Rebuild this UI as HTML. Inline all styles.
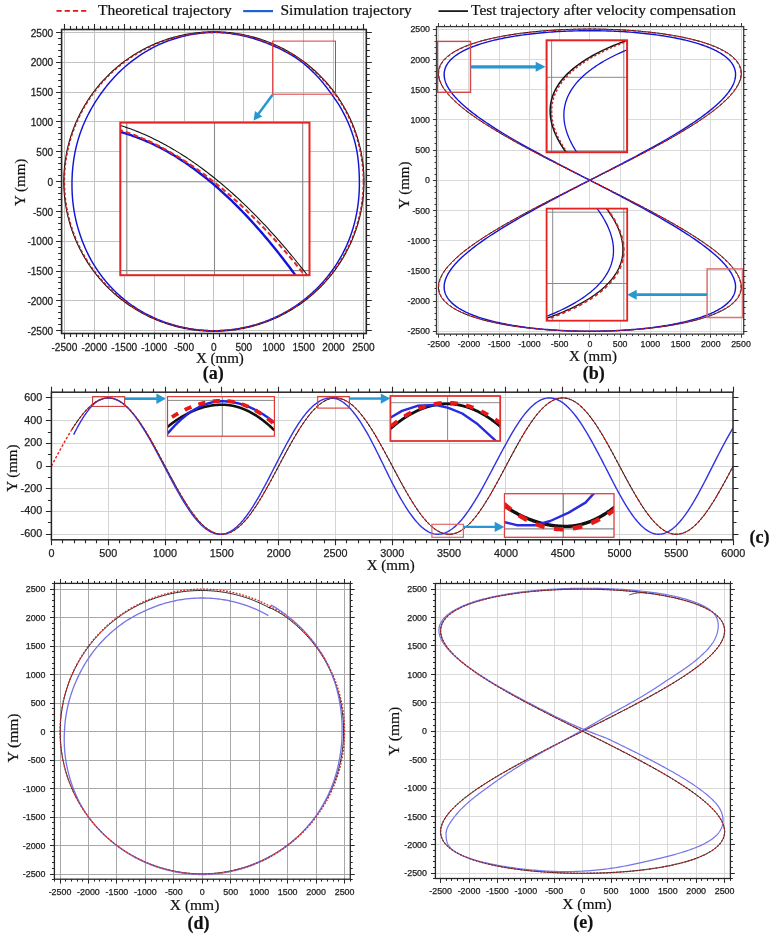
<!DOCTYPE html>
<html><head><meta charset="utf-8"><title>Trajectory comparison</title>
<style>html,body{margin:0;padding:0;background:#fff;}svg{display:block;font-family:"Liberation Sans",sans-serif;filter:blur(0.35px);}</style>
</head><body>
<svg width="776" height="939" viewBox="0 0 776 939">
<rect width="776" height="939" fill="#fff"/>
<defs>
<clipPath id="ca"><rect x="61.6" y="29.5" width="304.7" height="304"/></clipPath>
<clipPath id="cb"><rect x="436.5" y="26.6" width="307.2" height="307.5"/></clipPath>
<clipPath id="cc"><rect x="51.4" y="392.2" width="681.6" height="147.6"/></clipPath>
<clipPath id="cd"><rect x="54.4" y="583.4" width="295.9" height="295.8"/></clipPath>
<clipPath id="ce"><rect x="435.4" y="583.5" width="295" height="295"/></clipPath>
<clipPath id="ia"><rect x="120.3" y="122.6" width="189.2" height="152.6"/></clipPath>
<clipPath id="ib1"><rect x="546.6" y="40.3" width="80.5" height="111.9"/></clipPath>
<clipPath id="ib2"><rect x="546.6" y="208.6" width="80.6" height="112.1"/></clipPath>
<clipPath id="ic1"><rect x="167.5" y="396.6" width="106.9" height="39.6"/></clipPath>
<clipPath id="ic2"><rect x="390.4" y="396" width="109.8" height="45"/></clipPath>
<clipPath id="ic3"><rect x="504.5" y="493.7" width="109.5" height="43.6"/></clipPath>
</defs>
<path d="M56.5,10.9 H87" stroke="#e0191b" stroke-width="1.8" stroke-dasharray="5.2 3"/>
<text x="98" y="14.6" font-size="15.5" text-anchor="start" font-family="Liberation Serif, serif" fill="#111" stroke="#111" stroke-width="0.2">Theoretical trajectory</text>
<path d="M243.2,11.1 H273" stroke="#1f63d3" stroke-width="2.2"/>
<text x="280.5" y="14.6" font-size="15.5" text-anchor="start" font-family="Liberation Serif, serif" fill="#111" stroke="#111" stroke-width="0.2">Simulation trajectory</text>
<path d="M438.5,11.1 H468" stroke="#1a1a1a" stroke-width="1.8"/>
<text x="471" y="14.6" font-size="15.5" text-anchor="start" font-family="Liberation Serif, serif" fill="#111" stroke="#111" stroke-width="0.2">Test trajectory after velocity compensation</text>
<path d="M64.5,29.5 V333.5 M94.5,29.5 V333.5 M124.5,29.5 V333.5 M154.5,29.5 V333.5 M184.5,29.5 V333.5 M213.5,29.5 V333.5 M243.5,29.5 V333.5 M273.5,29.5 V333.5 M303.5,29.5 V333.5 M333.5,29.5 V333.5 M363.5,29.5 V333.5 M61.6,330.5 H366.3 M61.6,300.5 H366.3 M61.6,271.5 H366.3 M61.6,241.5 H366.3 M61.6,211.5 H366.3 M61.6,181.5 H366.3 M61.6,151.5 H366.3 M61.6,121.5 H366.3 M61.6,92.5 H366.3 M61.6,62.5 H366.3 M61.6,32.5 H366.3" stroke="#c2c2c2" stroke-width="1.0" fill="none"/>
<path d="M364,181.55 L363.99,179.81 L363.96,178.07 L363.91,176.32 L363.84,174.58 L363.74,172.84 L363.63,171.1 L363.5,169.37 L363.35,167.63 L363.18,165.9 L362.98,164.17 L362.77,162.44 L362.54,160.71 L362.28,158.99 L362.01,157.26 L361.72,155.55 L361.4,153.83 L361.07,152.12 L360.72,150.42 L360.34,148.71 L359.95,147.02 L359.54,145.32 L359.11,143.63 L358.66,141.95 L358.18,140.27 L357.69,138.6 L357.18,136.94 L356.65,135.28 L356.1,133.62 L355.53,131.97 L354.95,130.33 L354.34,128.7 L353.71,127.07 L353.07,125.45 L352.4,123.84 L351.72,122.24 L351.02,120.64 L350.3,119.05 L349.56,117.48 L348.81,115.91 L348.03,114.34 L347.24,112.79 L346.43,111.25 L345.6,109.71 L344.75,108.19 L343.89,106.68 L343.01,105.17 L342.11,103.68 L341.19,102.2 L340.26,100.72 L339.31,99.26 L338.34,97.81 L337.35,96.37 L336.35,94.95 L335.33,93.53 L334.3,92.13 L333.25,90.74 L332.18,89.36 L331.1,87.99 L330,86.64 L328.88,85.29 L327.75,83.97 L326.61,82.65 L325.44,81.35 L324.27,80.06 L323.08,78.79 L321.87,77.53 L320.65,76.28 L319.42,75.05 L318.17,73.83 L316.9,72.63 L315.63,71.44 L314.34,70.27 L313.03,69.11 L311.71,67.97 L310.38,66.84 L309.04,65.73 L307.68,64.63 L306.31,63.55 L304.93,62.48 L303.53,61.43 L302.13,60.4 L300.71,59.39 L299.28,58.39 L297.83,57.4 L296.38,56.44 L294.92,55.49 L293.44,54.56 L291.95,53.64 L290.46,52.75 L288.95,51.87 L287.43,51 L285.9,50.16 L284.37,49.33 L282.82,48.52 L281.26,47.73 L279.7,46.96 L278.12,46.2 L276.54,45.47 L274.95,44.75 L273.35,44.05 L271.74,43.37 L270.13,42.71 L268.5,42.06 L266.87,41.44 L265.24,40.83 L263.59,40.25 L261.94,39.68 L260.28,39.13 L258.62,38.6 L256.95,38.09 L255.27,37.6 L253.59,37.13 L251.9,36.68 L250.21,36.25 L248.51,35.84 L246.81,35.45 L245.11,35.08 L243.4,34.72 L241.68,34.39 L239.96,34.08 L238.24,33.79 L236.52,33.51 L234.79,33.26 L233.06,33.03 L231.33,32.82 L229.59,32.62 L227.85,32.45 L226.11,32.3 L224.37,32.17 L222.63,32.06 L220.88,31.97 L219.14,31.89 L217.39,31.84 L215.65,31.81 L213.9,31.8 L212.15,31.81 L210.41,31.84 L208.66,31.89 L206.92,31.97 L205.17,32.06 L203.43,32.17 L201.69,32.3 L199.95,32.45 L198.21,32.62 L196.47,32.82 L194.74,33.03 L193.01,33.26 L191.28,33.51 L189.56,33.79 L187.84,34.08 L186.12,34.39 L184.4,34.72 L182.69,35.08 L180.99,35.45 L179.29,35.84 L177.59,36.25 L175.9,36.68 L174.21,37.13 L172.53,37.6 L170.85,38.09 L169.18,38.6 L167.52,39.13 L165.86,39.68 L164.21,40.25 L162.56,40.83 L160.93,41.44 L159.3,42.06 L157.67,42.71 L156.06,43.37 L154.45,44.05 L152.85,44.75 L151.26,45.47 L149.68,46.2 L148.1,46.96 L146.54,47.73 L144.98,48.52 L143.43,49.33 L141.9,50.16 L140.37,51 L138.85,51.87 L137.34,52.75 L135.85,53.64 L134.36,54.56 L132.88,55.49 L131.42,56.44 L129.97,57.4 L128.52,58.39 L127.09,59.39 L125.67,60.4 L124.27,61.43 L122.87,62.48 L121.49,63.55 L120.12,64.63 L118.76,65.73 L117.42,66.84 L116.09,67.97 L114.77,69.11 L113.46,70.27 L112.17,71.44 L110.9,72.63 L109.63,73.83 L108.38,75.05 L107.15,76.28 L105.93,77.53 L104.72,78.79 L103.53,80.06 L102.36,81.35 L101.19,82.65 L100.05,83.97 L98.92,85.29 L97.8,86.64 L96.7,87.99 L95.62,89.36 L94.55,90.74 L93.5,92.13 L92.47,93.53 L91.45,94.95 L90.45,96.37 L89.46,97.81 L88.49,99.26 L87.54,100.72 L86.61,102.2 L85.69,103.68 L84.79,105.17 L83.91,106.68 L83.05,108.19 L82.2,109.71 L81.37,111.25 L80.56,112.79 L79.77,114.34 L78.99,115.91 L78.24,117.48 L77.5,119.05 L76.78,120.64 L76.08,122.24 L75.4,123.84 L74.73,125.45 L74.09,127.07 L73.46,128.7 L72.85,130.33 L72.27,131.97 L71.7,133.62 L71.15,135.28 L70.62,136.94 L70.11,138.6 L69.62,140.27 L69.14,141.95 L68.69,143.63 L68.26,145.32 L67.85,147.02 L67.46,148.71 L67.08,150.42 L66.73,152.12 L66.4,153.83 L66.08,155.55 L65.79,157.26 L65.52,158.99 L65.26,160.71 L65.03,162.44 L64.82,164.17 L64.62,165.9 L64.45,167.63 L64.3,169.37 L64.17,171.1 L64.06,172.84 L63.96,174.58 L63.89,176.32 L63.84,178.07 L63.81,179.81 L63.8,181.55 L63.81,183.29 L63.84,185.03 L63.89,186.78 L63.96,188.52 L64.06,190.26 L64.17,192 L64.3,193.73 L64.45,195.47 L64.62,197.2 L64.82,198.93 L65.03,200.66 L65.26,202.39 L65.52,204.11 L65.79,205.84 L66.08,207.55 L66.4,209.27 L66.73,210.98 L67.08,212.68 L67.46,214.39 L67.85,216.08 L68.26,217.78 L68.69,219.47 L69.14,221.15 L69.62,222.83 L70.11,224.5 L70.62,226.16 L71.15,227.82 L71.7,229.48 L72.27,231.13 L72.85,232.77 L73.46,234.4 L74.09,236.03 L74.73,237.65 L75.4,239.26 L76.08,240.86 L76.78,242.46 L77.5,244.05 L78.24,245.62 L78.99,247.19 L79.77,248.76 L80.56,250.31 L81.37,251.85 L82.2,253.39 L83.05,254.91 L83.91,256.42 L84.79,257.93 L85.69,259.42 L86.61,260.9 L87.54,262.38 L88.49,263.84 L89.46,265.29 L90.45,266.73 L91.45,268.15 L92.47,269.57 L93.5,270.97 L94.55,272.36 L95.62,273.74 L96.7,275.11 L97.8,276.46 L98.92,277.81 L100.05,279.13 L101.19,280.45 L102.36,281.75 L103.53,283.04 L104.72,284.31 L105.93,285.57 L107.15,286.82 L108.38,288.05 L109.63,289.27 L110.9,290.47 L112.17,291.66 L113.46,292.83 L114.77,293.99 L116.09,295.13 L117.42,296.26 L118.76,297.37 L120.12,298.47 L121.49,299.55 L122.87,300.62 L124.27,301.67 L125.67,302.7 L127.09,303.71 L128.52,304.71 L129.97,305.7 L131.42,306.66 L132.88,307.61 L134.36,308.54 L135.85,309.46 L137.34,310.35 L138.85,311.23 L140.37,312.1 L141.9,312.94 L143.43,313.77 L144.98,314.58 L146.54,315.37 L148.1,316.14 L149.68,316.9 L151.26,317.63 L152.85,318.35 L154.45,319.05 L156.06,319.73 L157.67,320.39 L159.3,321.04 L160.93,321.66 L162.56,322.27 L164.21,322.85 L165.86,323.42 L167.52,323.97 L169.18,324.5 L170.85,325.01 L172.53,325.5 L174.21,325.97 L175.9,326.42 L177.59,326.85 L179.29,327.26 L180.99,327.65 L182.69,328.02 L184.4,328.38 L186.12,328.71 L187.84,329.02 L189.56,329.31 L191.28,329.59 L193.01,329.84 L194.74,330.07 L196.47,330.28 L198.21,330.48 L199.95,330.65 L201.69,330.8 L203.43,330.93 L205.17,331.04 L206.92,331.13 L208.66,331.21 L210.41,331.26 L212.15,331.29 L213.9,331.3 L215.65,331.29 L217.39,331.26 L219.14,331.21 L220.88,331.13 L222.63,331.04 L224.37,330.93 L226.11,330.8 L227.85,330.65 L229.59,330.48 L231.33,330.28 L233.06,330.07 L234.79,329.84 L236.52,329.59 L238.24,329.31 L239.96,329.02 L241.68,328.71 L243.4,328.38 L245.11,328.02 L246.81,327.65 L248.51,327.26 L250.21,326.85 L251.9,326.42 L253.59,325.97 L255.27,325.5 L256.95,325.01 L258.62,324.5 L260.28,323.97 L261.94,323.42 L263.59,322.85 L265.24,322.27 L266.87,321.66 L268.5,321.04 L270.13,320.39 L271.74,319.73 L273.35,319.05 L274.95,318.35 L276.54,317.63 L278.12,316.9 L279.7,316.14 L281.26,315.37 L282.82,314.58 L284.37,313.77 L285.9,312.94 L287.43,312.1 L288.95,311.23 L290.46,310.35 L291.95,309.46 L293.44,308.54 L294.92,307.61 L296.38,306.66 L297.83,305.7 L299.28,304.71 L300.71,303.71 L302.13,302.7 L303.53,301.67 L304.93,300.62 L306.31,299.55 L307.68,298.47 L309.04,297.37 L310.38,296.26 L311.71,295.13 L313.03,293.99 L314.34,292.83 L315.63,291.66 L316.9,290.47 L318.17,289.27 L319.42,288.05 L320.65,286.82 L321.87,285.57 L323.08,284.31 L324.27,283.04 L325.44,281.75 L326.61,280.45 L327.75,279.13 L328.88,277.81 L330,276.46 L331.1,275.11 L332.18,273.74 L333.25,272.36 L334.3,270.97 L335.33,269.57 L336.35,268.15 L337.35,266.73 L338.34,265.29 L339.31,263.84 L340.26,262.38 L341.19,260.9 L342.11,259.42 L343.01,257.93 L343.89,256.42 L344.75,254.91 L345.6,253.39 L346.43,251.85 L347.24,250.31 L348.03,248.76 L348.81,247.19 L349.56,245.62 L350.3,244.05 L351.02,242.46 L351.72,240.86 L352.4,239.26 L353.07,237.65 L353.71,236.03 L354.34,234.4 L354.95,232.77 L355.53,231.13 L356.1,229.48 L356.65,227.82 L357.18,226.16 L357.69,224.5 L358.18,222.83 L358.66,221.15 L359.11,219.47 L359.54,217.78 L359.95,216.08 L360.34,214.39 L360.72,212.68 L361.07,210.98 L361.4,209.27 L361.72,207.55 L362.01,205.84 L362.28,204.11 L362.54,202.39 L362.77,200.66 L362.98,198.93 L363.18,197.2 L363.35,195.47 L363.5,193.73 L363.63,192 L363.74,190.26 L363.84,188.52 L363.91,186.78 L363.96,185.03 L363.99,183.29 L364,181.55" stroke="#111" stroke-width="1.1" fill="none" stroke-linejoin="round" clip-path="url(#ca)"/>
<path d="M359.39,181.55 L359.36,179.86 L359.32,178.17 L359.27,176.49 L359.22,174.8 L359.15,173.11 L359.07,171.42 L358.98,169.74 L358.87,168.05 L358.76,166.36 L358.62,164.67 L358.47,162.99 L358.31,161.3 L358.12,159.62 L357.92,157.94 L357.7,156.25 L357.45,154.57 L357.19,152.9 L356.9,151.23 L356.59,149.56 L356.25,147.89 L355.89,146.23 L355.51,144.58 L355.09,142.93 L354.66,141.28 L354.2,139.64 L353.73,138.01 L353.23,136.38 L352.72,134.76 L352.18,133.15 L351.63,131.54 L351.05,129.94 L350.46,128.34 L349.84,126.75 L349.21,125.17 L348.55,123.6 L347.88,122.04 L347.19,120.48 L346.48,118.93 L345.75,117.39 L345,115.86 L344.24,114.34 L343.45,112.83 L342.65,111.32 L341.83,109.83 L340.99,108.35 L340.13,106.87 L339.25,105.42 L338.34,103.97 L337.41,102.55 L336.46,101.13 L335.49,99.73 L334.52,98.33 L333.53,96.94 L332.54,95.55 L331.55,94.17 L330.55,92.79 L329.54,91.41 L328.53,90.04 L327.51,88.67 L326.47,87.31 L325.42,85.96 L324.36,84.62 L323.29,83.29 L322.2,81.96 L321.1,80.65 L319.98,79.35 L318.84,78.07 L317.67,76.81 L316.49,75.56 L315.3,74.32 L314.1,73.1 L312.88,71.88 L311.65,70.68 L310.4,69.49 L309.14,68.32 L307.86,67.16 L306.56,66.02 L305.25,64.9 L303.92,63.79 L302.58,62.71 L301.22,61.65 L299.83,60.62 L298.43,59.61 L297.01,58.62 L295.58,57.66 L294.12,56.72 L292.66,55.8 L291.18,54.91 L289.69,54.04 L288.19,53.18 L286.67,52.35 L285.15,51.53 L283.62,50.74 L282.08,49.96 L280.53,49.19 L278.97,48.44 L277.41,47.71 L275.84,46.99 L274.27,46.28 L272.69,45.59 L271.1,44.91 L269.51,44.24 L267.91,43.58 L266.31,42.94 L264.69,42.32 L263.08,41.72 L261.45,41.13 L259.82,40.55 L258.18,40 L256.54,39.46 L254.89,38.94 L253.23,38.43 L251.57,37.95 L249.9,37.49 L248.23,37.04 L246.55,36.62 L244.86,36.22 L243.17,35.84 L241.48,35.47 L239.78,35.14 L238.07,34.81 L236.37,34.49 L234.66,34.19 L232.95,33.91 L231.23,33.64 L229.51,33.4 L227.78,33.18 L226.06,32.98 L224.33,32.81 L222.59,32.66 L220.86,32.54 L219.12,32.46 L217.38,32.4 L215.64,32.38 L213.9,32.4 L212.16,32.43 L210.42,32.48 L208.68,32.56 L206.95,32.65 L205.21,32.78 L203.48,32.92 L201.75,33.09 L200.03,33.27 L198.3,33.49 L196.58,33.72 L194.86,33.98 L193.15,34.25 L191.44,34.55 L189.74,34.87 L188.04,35.22 L186.34,35.58 L184.65,35.97 L182.97,36.37 L181.29,36.8 L179.62,37.24 L177.95,37.71 L176.29,38.2 L174.64,38.71 L173,39.23 L171.36,39.78 L169.73,40.34 L168.1,40.93 L166.49,41.53 L164.88,42.16 L163.28,42.8 L161.69,43.47 L160.12,44.16 L158.55,44.87 L156.99,45.61 L155.45,46.36 L153.91,47.14 L152.39,47.93 L150.88,48.74 L149.38,49.57 L147.89,50.42 L146.41,51.28 L144.94,52.17 L143.49,53.07 L142.05,53.98 L140.62,54.92 L139.2,55.87 L137.79,56.83 L136.4,57.81 L135.02,58.81 L133.65,59.82 L132.29,60.84 L130.95,61.88 L129.62,62.94 L128.3,64 L126.99,65.08 L125.7,66.18 L124.42,67.29 L123.16,68.42 L121.91,69.56 L120.68,70.71 L119.46,71.88 L118.26,73.07 L117.07,74.26 L115.9,75.47 L114.74,76.7 L113.6,77.93 L112.47,79.18 L111.36,80.43 L110.26,81.7 L109.18,82.98 L108.1,84.27 L107.05,85.57 L106.01,86.87 L104.98,88.19 L103.96,89.52 L102.96,90.85 L101.98,92.2 L101,93.55 L100.04,94.91 L99.09,96.28 L98.16,97.65 L97.23,99.04 L96.32,100.43 L95.43,101.83 L94.55,103.24 L93.68,104.65 L92.83,106.08 L92,107.51 L91.18,108.95 L90.37,110.4 L89.58,111.86 L88.81,113.32 L88.05,114.79 L87.31,116.27 L86.59,117.76 L85.88,119.26 L85.19,120.76 L84.51,122.27 L83.85,123.78 L83.21,125.31 L82.59,126.84 L81.98,128.38 L81.39,129.92 L80.82,131.47 L80.27,133.03 L79.73,134.59 L79.22,136.16 L78.72,137.73 L78.24,139.31 L77.78,140.89 L77.34,142.48 L76.91,144.08 L76.51,145.68 L76.12,147.28 L75.75,148.89 L75.4,150.5 L75.07,152.11 L74.76,153.73 L74.46,155.35 L74.18,156.97 L73.92,158.6 L73.67,160.23 L73.45,161.86 L73.24,163.49 L73.04,165.12 L72.87,166.76 L72.7,168.4 L72.56,170.04 L72.43,171.68 L72.32,173.32 L72.22,174.97 L72.14,176.61 L72.08,178.26 L72.03,179.9 L71.99,181.55 L71.98,183.2 L71.97,184.85 L71.98,186.49 L72.01,188.14 L72.05,189.79 L72.11,191.44 L72.19,193.09 L72.28,194.74 L72.39,196.39 L72.51,198.04 L72.65,199.69 L72.81,201.33 L72.99,202.98 L73.18,204.62 L73.39,206.27 L73.62,207.91 L73.86,209.55 L74.13,211.19 L74.41,212.83 L74.71,214.46 L75.03,216.09 L75.37,217.72 L75.72,219.35 L76.1,220.97 L76.49,222.59 L76.91,224.21 L77.34,225.82 L77.79,227.42 L78.26,229.03 L78.75,230.62 L79.25,232.22 L79.76,233.81 L80.29,235.4 L80.84,236.99 L81.4,238.57 L81.98,240.15 L82.58,241.72 L83.19,243.28 L83.83,244.84 L84.48,246.4 L85.14,247.95 L85.83,249.49 L86.53,251.02 L87.26,252.55 L88,254.07 L88.76,255.58 L89.54,257.08 L90.34,258.58 L91.15,260.07 L91.99,261.54 L92.85,263.01 L93.72,264.47 L94.62,265.91 L95.53,267.35 L96.47,268.77 L97.42,270.19 L98.38,271.59 L99.37,272.98 L100.37,274.37 L101.39,275.74 L102.42,277.1 L103.47,278.45 L104.54,279.78 L105.63,281.11 L106.73,282.42 L107.85,283.72 L108.99,285 L110.15,286.27 L111.32,287.53 L112.5,288.77 L113.71,290 L114.93,291.21 L116.16,292.41 L117.41,293.59 L118.68,294.76 L119.96,295.91 L121.26,297.05 L122.58,298.16 L123.91,299.26 L125.25,300.35 L126.61,301.41 L127.99,302.46 L129.38,303.48 L130.78,304.5 L132.19,305.49 L133.62,306.46 L135.06,307.42 L136.52,308.36 L137.98,309.28 L139.46,310.18 L140.95,311.07 L142.45,311.93 L143.96,312.78 L145.48,313.61 L147.02,314.42 L148.56,315.21 L150.11,315.98 L151.67,316.73 L153.24,317.47 L154.82,318.18 L156.41,318.88 L158.01,319.56 L159.62,320.22 L161.23,320.86 L162.85,321.48 L164.48,322.08 L166.12,322.66 L167.76,323.22 L169.41,323.76 L171.07,324.28 L172.73,324.78 L174.4,325.27 L176.08,325.73 L177.76,326.17 L179.44,326.59 L181.14,326.99 L182.83,327.37 L184.53,327.73 L186.24,328.07 L187.95,328.39 L189.66,328.69 L191.38,328.97 L193.1,329.22 L194.82,329.46 L196.55,329.68 L198.27,329.87 L200,330.05 L201.74,330.2 L203.47,330.34 L205.21,330.45 L206.94,330.54 L208.68,330.61 L210.42,330.66 L212.16,330.69 L213.9,330.7 L215.64,330.69 L217.38,330.66 L219.12,330.6 L220.86,330.53 L222.59,330.44 L224.33,330.33 L226.06,330.19 L227.79,330.04 L229.53,329.87 L231.25,329.67 L232.98,329.46 L234.7,329.22 L236.42,328.97 L238.14,328.69 L239.85,328.4 L241.56,328.08 L243.27,327.75 L244.97,327.39 L246.67,327.02 L248.36,326.62 L250.05,326.21 L251.73,325.77 L253.41,325.32 L255.08,324.84 L256.75,324.35 L258.41,323.83 L260.06,323.3 L261.71,322.74 L263.35,322.17 L264.99,321.58 L266.61,320.96 L268.23,320.33 L269.84,319.68 L271.44,319.01 L273.04,318.32 L274.62,317.62 L276.2,316.89 L277.77,316.14 L279.33,315.38 L280.88,314.6 L282.41,313.79 L283.94,312.98 L285.46,312.14 L286.97,311.28 L288.47,310.41 L289.96,309.52 L291.43,308.61 L292.9,307.68 L294.35,306.74 L295.8,305.77 L297.23,304.8 L298.64,303.8 L300.05,302.79 L301.44,301.76 L302.82,300.71 L304.19,299.65 L305.54,298.58 L306.89,297.48 L308.21,296.37 L309.53,295.25 L310.83,294.11 L312.12,292.95 L313.39,291.78 L314.65,290.6 L315.89,289.4 L317.12,288.19 L318.33,286.96 L319.53,285.71 L320.71,284.46 L321.88,283.19 L323.04,281.9 L324.17,280.61 L325.3,279.3 L326.4,277.98 L327.49,276.64 L328.56,275.29 L329.62,273.93 L330.66,272.56 L331.69,271.18 L332.69,269.78 L333.68,268.37 L334.66,266.96 L335.61,265.53 L336.55,264.09 L337.47,262.64 L338.38,261.17 L339.26,259.7 L340.13,258.22 L340.98,256.73 L341.82,255.23 L342.63,253.72 L343.43,252.2 L344.2,250.67 L344.96,249.13 L345.69,247.58 L346.41,246.03 L347.1,244.46 L347.78,242.89 L348.43,241.31 L349.07,239.72 L349.68,238.12 L350.28,236.52 L350.86,234.91 L351.41,233.3 L351.95,231.68 L352.47,230.05 L352.97,228.42 L353.45,226.79 L353.91,225.14 L354.35,223.5 L354.77,221.85 L355.17,220.19 L355.55,218.54 L355.92,216.88 L356.26,215.21 L356.59,213.54 L356.9,211.87 L357.19,210.2 L357.46,208.53 L357.71,206.85 L357.95,205.17 L358.16,203.49 L358.36,201.81 L358.54,200.12 L358.71,198.44 L358.85,196.75 L358.98,195.06 L359.09,193.37 L359.18,191.69 L359.26,190 L359.32,188.31 L359.36,186.62 L359.39,184.93 L359.4,183.24 L359.39,181.55" stroke="#1414d6" stroke-width="1.45" fill="none" stroke-linejoin="round" clip-path="url(#ca)"/>
<path d="M363.4,181.55 L363.39,179.81 L363.36,178.08 L363.31,176.34 L363.24,174.61 L363.15,172.88 L363.04,171.15 L362.9,169.42 L362.75,167.69 L362.58,165.96 L362.39,164.23 L362.18,162.51 L361.95,160.79 L361.69,159.08 L361.42,157.36 L361.13,155.65 L360.82,153.94 L360.48,152.24 L360.13,150.54 L359.76,148.84 L359.37,147.15 L358.96,145.47 L358.53,143.79 L358.08,142.11 L357.61,140.44 L357.12,138.77 L356.61,137.11 L356.08,135.46 L355.54,133.81 L354.97,132.17 L354.38,130.54 L353.78,128.91 L353.16,127.29 L352.51,125.68 L351.85,124.07 L351.17,122.47 L350.48,120.89 L349.76,119.3 L349.02,117.73 L348.27,116.17 L347.5,114.61 L346.71,113.07 L345.9,111.53 L345.08,110 L344.23,108.48 L343.37,106.98 L342.49,105.48 L341.6,103.99 L340.68,102.51 L339.75,101.05 L338.81,99.59 L337.84,98.15 L336.86,96.71 L335.86,95.29 L334.85,93.88 L333.82,92.48 L332.77,91.1 L331.71,89.72 L330.63,88.36 L329.53,87.01 L328.42,85.68 L327.3,84.36 L326.16,83.05 L325,81.75 L323.83,80.47 L322.64,79.2 L321.44,77.94 L320.23,76.7 L319,75.47 L317.75,74.26 L316.49,73.06 L315.22,71.88 L313.94,70.71 L312.64,69.56 L311.32,68.42 L310,67.29 L308.66,66.19 L307.31,65.09 L305.94,64.02 L304.56,62.96 L303.18,61.91 L301.77,60.89 L300.36,59.87 L298.94,58.88 L297.5,57.9 L296.05,56.94 L294.59,55.99 L293.12,55.06 L291.64,54.15 L290.15,53.26 L288.65,52.38 L287.14,51.52 L285.62,50.68 L284.09,49.86 L282.55,49.05 L281,48.26 L279.44,47.49 L277.87,46.74 L276.29,46.01 L274.71,45.29 L273.11,44.6 L271.51,43.92 L269.9,43.26 L268.29,42.62 L266.66,42 L265.03,41.39 L263.39,40.81 L261.75,40.25 L260.1,39.7 L258.44,39.17 L256.78,38.67 L255.11,38.18 L253.43,37.71 L251.75,37.26 L250.07,36.83 L248.38,36.42 L246.68,36.03 L244.98,35.66 L243.28,35.31 L241.57,34.98 L239.86,34.67 L238.15,34.37 L236.43,34.1 L234.71,33.85 L232.98,33.62 L231.26,33.41 L229.53,33.22 L227.8,33.05 L226.06,32.89 L224.33,32.76 L222.59,32.65 L220.86,32.56 L219.12,32.49 L217.38,32.44 L215.64,32.41 L213.9,32.4 L212.16,32.41 L210.42,32.44 L208.68,32.49 L206.94,32.56 L205.21,32.65 L203.47,32.76 L201.74,32.89 L200,33.05 L198.27,33.22 L196.54,33.41 L194.82,33.62 L193.09,33.85 L191.37,34.1 L189.65,34.37 L187.94,34.67 L186.23,34.98 L184.52,35.31 L182.82,35.66 L181.12,36.03 L179.42,36.42 L177.73,36.83 L176.05,37.26 L174.37,37.71 L172.69,38.18 L171.02,38.67 L169.36,39.17 L167.7,39.7 L166.05,40.25 L164.41,40.81 L162.77,41.39 L161.14,42 L159.51,42.62 L157.9,43.26 L156.29,43.92 L154.69,44.6 L153.09,45.29 L151.51,46.01 L149.93,46.74 L148.36,47.49 L146.8,48.26 L145.25,49.05 L143.71,49.86 L142.18,50.68 L140.66,51.52 L139.15,52.38 L137.65,53.26 L136.16,54.15 L134.68,55.06 L133.21,55.99 L131.75,56.94 L130.3,57.9 L128.86,58.88 L127.44,59.87 L126.03,60.89 L124.62,61.91 L123.24,62.96 L121.86,64.02 L120.49,65.09 L119.14,66.19 L117.8,67.29 L116.48,68.42 L115.16,69.56 L113.86,70.71 L112.58,71.88 L111.31,73.06 L110.05,74.26 L108.8,75.47 L107.57,76.7 L106.36,77.94 L105.16,79.2 L103.97,80.47 L102.8,81.75 L101.64,83.05 L100.5,84.36 L99.38,85.68 L98.27,87.01 L97.17,88.36 L96.09,89.72 L95.03,91.1 L93.98,92.48 L92.95,93.88 L91.94,95.29 L90.94,96.71 L89.96,98.15 L88.99,99.59 L88.05,101.05 L87.12,102.51 L86.2,103.99 L85.31,105.48 L84.43,106.98 L83.57,108.48 L82.72,110 L81.9,111.53 L81.09,113.07 L80.3,114.61 L79.53,116.17 L78.78,117.73 L78.04,119.3 L77.32,120.89 L76.63,122.47 L75.95,124.07 L75.29,125.68 L74.64,127.29 L74.02,128.91 L73.42,130.54 L72.83,132.17 L72.26,133.81 L71.72,135.46 L71.19,137.11 L70.68,138.77 L70.19,140.44 L69.72,142.11 L69.27,143.79 L68.84,145.47 L68.43,147.15 L68.04,148.84 L67.67,150.54 L67.32,152.24 L66.98,153.94 L66.67,155.65 L66.38,157.36 L66.11,159.08 L65.85,160.79 L65.62,162.51 L65.41,164.23 L65.22,165.96 L65.05,167.69 L64.9,169.42 L64.76,171.15 L64.65,172.88 L64.56,174.61 L64.49,176.34 L64.44,178.08 L64.41,179.81 L64.4,181.55 L64.41,183.29 L64.44,185.02 L64.49,186.76 L64.56,188.49 L64.65,190.22 L64.76,191.95 L64.9,193.68 L65.05,195.41 L65.22,197.14 L65.41,198.87 L65.62,200.59 L65.85,202.31 L66.11,204.02 L66.38,205.74 L66.67,207.45 L66.98,209.16 L67.32,210.86 L67.67,212.56 L68.04,214.26 L68.43,215.95 L68.84,217.63 L69.27,219.31 L69.72,220.99 L70.19,222.66 L70.68,224.33 L71.19,225.99 L71.72,227.64 L72.26,229.29 L72.83,230.93 L73.42,232.56 L74.02,234.19 L74.64,235.81 L75.29,237.42 L75.95,239.03 L76.63,240.63 L77.32,242.21 L78.04,243.8 L78.78,245.37 L79.53,246.93 L80.3,248.49 L81.09,250.03 L81.9,251.57 L82.72,253.1 L83.57,254.62 L84.43,256.12 L85.31,257.62 L86.2,259.11 L87.12,260.59 L88.05,262.05 L88.99,263.51 L89.96,264.95 L90.94,266.39 L91.94,267.81 L92.95,269.22 L93.98,270.62 L95.03,272 L96.09,273.38 L97.17,274.74 L98.27,276.09 L99.38,277.42 L100.5,278.74 L101.64,280.05 L102.8,281.35 L103.97,282.63 L105.16,283.9 L106.36,285.16 L107.57,286.4 L108.8,287.63 L110.05,288.84 L111.31,290.04 L112.58,291.22 L113.86,292.39 L115.16,293.54 L116.48,294.68 L117.8,295.81 L119.14,296.91 L120.49,298.01 L121.86,299.08 L123.24,300.14 L124.62,301.19 L126.03,302.21 L127.44,303.23 L128.86,304.22 L130.3,305.2 L131.75,306.16 L133.21,307.11 L134.68,308.04 L136.16,308.95 L137.65,309.84 L139.15,310.72 L140.66,311.58 L142.18,312.42 L143.71,313.24 L145.25,314.05 L146.8,314.84 L148.36,315.61 L149.93,316.36 L151.51,317.09 L153.09,317.81 L154.69,318.5 L156.29,319.18 L157.9,319.84 L159.51,320.48 L161.14,321.1 L162.77,321.71 L164.41,322.29 L166.05,322.85 L167.7,323.4 L169.36,323.93 L171.02,324.43 L172.69,324.92 L174.37,325.39 L176.05,325.84 L177.73,326.27 L179.42,326.68 L181.12,327.07 L182.82,327.44 L184.52,327.79 L186.23,328.12 L187.94,328.43 L189.65,328.73 L191.37,329 L193.09,329.25 L194.82,329.48 L196.54,329.69 L198.27,329.88 L200,330.05 L201.74,330.21 L203.47,330.34 L205.21,330.45 L206.94,330.54 L208.68,330.61 L210.42,330.66 L212.16,330.69 L213.9,330.7 L215.64,330.69 L217.38,330.66 L219.12,330.61 L220.86,330.54 L222.59,330.45 L224.33,330.34 L226.06,330.21 L227.8,330.05 L229.53,329.88 L231.26,329.69 L232.98,329.48 L234.71,329.25 L236.43,329 L238.15,328.73 L239.86,328.43 L241.57,328.12 L243.28,327.79 L244.98,327.44 L246.68,327.07 L248.38,326.68 L250.07,326.27 L251.75,325.84 L253.43,325.39 L255.11,324.92 L256.78,324.43 L258.44,323.93 L260.1,323.4 L261.75,322.85 L263.39,322.29 L265.03,321.71 L266.66,321.1 L268.29,320.48 L269.9,319.84 L271.51,319.18 L273.11,318.5 L274.71,317.81 L276.29,317.09 L277.87,316.36 L279.44,315.61 L281,314.84 L282.55,314.05 L284.09,313.24 L285.62,312.42 L287.14,311.58 L288.65,310.72 L290.15,309.84 L291.64,308.95 L293.12,308.04 L294.59,307.11 L296.05,306.16 L297.5,305.2 L298.94,304.22 L300.36,303.23 L301.77,302.21 L303.18,301.19 L304.56,300.14 L305.94,299.08 L307.31,298.01 L308.66,296.91 L310,295.81 L311.32,294.68 L312.64,293.54 L313.94,292.39 L315.22,291.22 L316.49,290.04 L317.75,288.84 L319,287.63 L320.23,286.4 L321.44,285.16 L322.64,283.9 L323.83,282.63 L325,281.35 L326.16,280.05 L327.3,278.74 L328.42,277.42 L329.53,276.09 L330.63,274.74 L331.71,273.38 L332.77,272 L333.82,270.62 L334.85,269.22 L335.86,267.81 L336.86,266.39 L337.84,264.95 L338.81,263.51 L339.75,262.05 L340.68,260.59 L341.6,259.11 L342.49,257.62 L343.37,256.13 L344.23,254.62 L345.08,253.1 L345.9,251.57 L346.71,250.03 L347.5,248.49 L348.27,246.93 L349.02,245.37 L349.76,243.8 L350.48,242.21 L351.17,240.63 L351.85,239.03 L352.51,237.42 L353.16,235.81 L353.78,234.19 L354.38,232.56 L354.97,230.93 L355.54,229.29 L356.08,227.64 L356.61,225.99 L357.12,224.33 L357.61,222.66 L358.08,220.99 L358.53,219.31 L358.96,217.63 L359.37,215.95 L359.76,214.26 L360.13,212.56 L360.48,210.86 L360.82,209.16 L361.13,207.45 L361.42,205.74 L361.69,204.02 L361.95,202.31 L362.18,200.59 L362.39,198.87 L362.58,197.14 L362.75,195.41 L362.9,193.68 L363.04,191.95 L363.15,190.22 L363.24,188.49 L363.31,186.76 L363.36,185.02 L363.39,183.29 L363.4,181.55" stroke="#b41e1e" stroke-width="1.5" fill="none" stroke-linejoin="round" stroke-dasharray="3 2" clip-path="url(#ca)"/>
<rect x="272.6" y="41.1" width="62.9" height="53.1" fill="none" stroke="#e03a3a" stroke-width="1.0"/>
<path d="M272.6,94.8 L258.36,114.07" stroke="#2897d1" stroke-width="2.5"/>
<path d="M253.6,120.5 L254.95,110.93 L262.35,116.4 Z" fill="#2897d1"/>
<rect x="120.3" y="122.6" width="189.2" height="152.6" fill="#fff"/>
<path d="M126.8,122.6 V275.2 M214.5,122.6 V275.2 M302.7,122.6 V275.2 M120.3,181.8 H309.5 M120.3,270.6 H309.5" stroke="#8a8a8a" stroke-width="1.1" fill="none"/>
<path d="M118,124.72 L119.63,125.22 L121.26,125.74 L122.89,126.26 L124.52,126.8 L126.15,127.36 L127.78,127.92 L129.41,128.5 L131.04,129.1 L132.67,129.71 L134.3,130.33 L135.93,130.97 L137.56,131.62 L139.19,132.28 L140.82,132.96 L142.45,133.65 L144.08,134.36 L145.71,135.08 L147.34,135.81 L148.97,136.56 L150.61,137.32 L152.24,138.1 L153.87,138.89 L155.5,139.69 L157.13,140.51 L158.76,141.34 L160.39,142.18 L162.02,143.04 L163.65,143.91 L165.28,144.8 L166.91,145.7 L168.54,146.61 L170.17,147.54 L171.8,148.48 L173.43,149.43 L175.06,150.4 L176.69,151.38 L178.32,152.38 L179.95,153.39 L181.58,154.41 L183.21,155.45 L184.84,156.5 L186.47,157.57 L188.1,158.65 L189.73,159.74 L191.36,160.85 L192.99,161.97 L194.62,163.11 L196.25,164.25 L197.88,165.42 L199.51,166.59 L201.14,167.78 L202.77,168.99 L204.4,170.21 L206.03,171.44 L207.66,172.68 L209.29,173.94 L210.92,175.21 L212.55,176.5 L214.18,177.8 L215.82,179.12 L217.45,180.45 L219.08,181.79 L220.71,183.14 L222.34,184.51 L223.97,185.9 L225.6,187.3 L227.23,188.71 L228.86,190.13 L230.49,191.57 L232.12,193.02 L233.75,194.49 L235.38,195.97 L237.01,197.47 L238.64,198.97 L240.27,200.5 L241.9,202.03 L243.53,203.58 L245.16,205.15 L246.79,206.72 L248.42,208.32 L250.05,209.92 L251.68,211.54 L253.31,213.17 L254.94,214.82 L256.57,216.48 L258.2,218.15 L259.83,219.84 L261.46,221.54 L263.09,223.26 L264.72,224.99 L266.35,226.73 L267.98,228.49 L269.61,230.26 L271.24,232.05 L272.87,233.84 L274.5,235.66 L276.13,237.48 L277.76,239.32 L279.39,241.18 L281.03,243.05 L282.66,244.93 L284.29,246.82 L285.92,248.73 L287.55,250.66 L289.18,252.59 L290.81,254.55 L292.44,256.51 L294.07,258.49 L295.7,260.48 L297.33,262.49 L298.96,264.51 L300.59,266.54 L302.22,268.59 L303.85,270.65 L305.48,272.73 L307.11,274.82 L308.74,276.92 L310.37,279.04 L312,281.17" stroke="#111" stroke-width="1.1" fill="none" stroke-linejoin="round" clip-path="url(#ia)"/>
<path d="M118,131.38 L119.63,131.8 L121.26,132.24 L122.89,132.7 L124.52,133.17 L126.15,133.66 L127.78,134.16 L129.41,134.69 L131.04,135.23 L132.67,135.78 L134.3,136.35 L135.93,136.94 L137.56,137.55 L139.19,138.17 L140.82,138.81 L142.45,139.47 L144.08,140.14 L145.71,140.83 L147.34,141.53 L148.97,142.26 L150.61,142.99 L152.24,143.75 L153.87,144.52 L155.5,145.31 L157.13,146.12 L158.76,146.94 L160.39,147.78 L162.02,148.64 L163.65,149.51 L165.28,150.4 L166.91,151.3 L168.54,152.23 L170.17,153.17 L171.8,154.12 L173.43,155.09 L175.06,156.08 L176.69,157.09 L178.32,158.11 L179.95,159.15 L181.58,160.21 L183.21,161.28 L184.84,162.37 L186.47,163.48 L188.1,164.6 L189.73,165.74 L191.36,166.9 L192.99,168.07 L194.62,169.26 L196.25,170.47 L197.88,171.69 L199.51,172.93 L201.14,174.19 L202.77,175.46 L204.4,176.75 L206.03,178.06 L207.66,179.38 L209.29,180.72 L210.92,182.08 L212.55,183.45 L214.18,184.84 L215.82,186.25 L217.45,187.67 L219.08,189.11 L220.71,190.57 L222.34,192.04 L223.97,193.53 L225.6,195.04 L227.23,196.56 L228.86,198.1 L230.49,199.66 L232.12,201.23 L233.75,202.82 L235.38,204.43 L237.01,206.05 L238.64,207.69 L240.27,209.35 L241.9,211.02 L243.53,212.71 L245.16,214.42 L246.79,216.14 L248.42,217.88 L250.05,219.64 L251.68,221.41 L253.31,223.2 L254.94,225.01 L256.57,226.84 L258.2,228.68 L259.83,230.53 L261.46,232.41 L263.09,234.3 L264.72,236.2 L266.35,238.13 L267.98,240.07 L269.61,242.03 L271.24,244 L272.87,245.99 L274.5,248 L276.13,250.02 L277.76,252.06 L279.39,254.12 L281.03,256.2 L282.66,258.29 L284.29,260.39 L285.92,262.52 L287.55,264.66 L289.18,266.82 L290.81,268.99 L292.44,271.18 L294.07,273.39 L295.7,275.61 L297.33,277.85 L298.96,280.11 L300.59,282.39 L302.22,284.68 L303.85,286.99 L305.48,289.31 L307.11,291.65 L308.74,294.01 L310.37,296.38 L312,298.77" stroke="#1414d6" stroke-width="2.4" fill="none" stroke-linejoin="round" clip-path="url(#ia)"/>
<path d="M118,129.51 L119.63,130 L121.26,130.51 L122.89,131.04 L124.52,131.58 L126.15,132.13 L127.78,132.69 L129.41,133.27 L131.04,133.86 L132.67,134.47 L134.3,135.09 L135.93,135.72 L137.56,136.37 L139.19,137.03 L140.82,137.7 L142.45,138.39 L144.08,139.09 L145.71,139.81 L147.34,140.53 L148.97,141.28 L150.61,142.03 L152.24,142.8 L153.87,143.59 L155.5,144.38 L157.13,145.19 L158.76,146.02 L160.39,146.86 L162.02,147.71 L163.65,148.57 L165.28,149.45 L166.91,150.34 L168.54,151.25 L170.17,152.17 L171.8,153.1 L173.43,154.05 L175.06,155.01 L176.69,155.99 L178.32,156.97 L179.95,157.98 L181.58,158.99 L183.21,160.02 L184.84,161.06 L186.47,162.12 L188.1,163.19 L189.73,164.27 L191.36,165.37 L192.99,166.48 L194.62,167.61 L196.25,168.74 L197.88,169.9 L199.51,171.06 L201.14,172.24 L202.77,173.43 L204.4,174.64 L206.03,175.86 L207.66,177.09 L209.29,178.34 L210.92,179.6 L212.55,180.88 L214.18,182.17 L215.82,183.47 L217.45,184.78 L219.08,186.11 L220.71,187.46 L222.34,188.81 L223.97,190.18 L225.6,191.57 L227.23,192.97 L228.86,194.38 L230.49,195.8 L232.12,197.24 L233.75,198.69 L235.38,200.16 L237.01,201.64 L238.64,203.13 L240.27,204.64 L241.9,206.16 L243.53,207.69 L245.16,209.24 L246.79,210.8 L248.42,212.38 L250.05,213.97 L251.68,215.57 L253.31,217.19 L254.94,218.82 L256.57,220.46 L258.2,222.12 L259.83,223.79 L261.46,225.47 L263.09,227.17 L264.72,228.88 L266.35,230.61 L267.98,232.35 L269.61,234.1 L271.24,235.86 L272.87,237.64 L274.5,239.44 L276.13,241.25 L277.76,243.07 L279.39,244.9 L281.03,246.75 L282.66,248.61 L284.29,250.49 L285.92,252.38 L287.55,254.28 L289.18,256.19 L290.81,258.12 L292.44,260.07 L294.07,262.03 L295.7,264 L297.33,265.98 L298.96,267.98 L300.59,269.99 L302.22,272.02 L303.85,274.06 L305.48,276.11 L307.11,278.18 L308.74,280.26 L310.37,282.35 L312,284.46" stroke="#e02a2a" stroke-width="2.1" fill="none" stroke-linejoin="round" stroke-dasharray="5 3" clip-path="url(#ia)"/>
<rect x="120.3" y="122.6" width="189.2" height="152.6" fill="none" stroke="#e42222" stroke-width="2.0"/>
<rect x="61.6" y="29.5" width="304.7" height="304" fill="none" stroke="#262626" stroke-width="1.6"/>
<path d="M64.5,333.5 v5.5 M64.5,29.5 v-5.5 M70.5,333.5 v3.5 M70.5,29.5 v-3.5 M76.5,333.5 v3.5 M76.5,29.5 v-3.5 M82.5,333.5 v3.5 M82.5,29.5 v-3.5 M88.5,333.5 v3.5 M88.5,29.5 v-3.5 M94.5,333.5 v5.5 M94.5,29.5 v-5.5 M100.5,333.5 v3.5 M100.5,29.5 v-3.5 M106.5,333.5 v3.5 M106.5,29.5 v-3.5 M112.5,333.5 v3.5 M112.5,29.5 v-3.5 M118.5,333.5 v3.5 M118.5,29.5 v-3.5 M124.5,333.5 v5.5 M124.5,29.5 v-5.5 M130.5,333.5 v3.5 M130.5,29.5 v-3.5 M136.5,333.5 v3.5 M136.5,29.5 v-3.5 M142.5,333.5 v3.5 M142.5,29.5 v-3.5 M148.5,333.5 v3.5 M148.5,29.5 v-3.5 M154.5,333.5 v5.5 M154.5,29.5 v-5.5 M160.5,333.5 v3.5 M160.5,29.5 v-3.5 M166.5,333.5 v3.5 M166.5,29.5 v-3.5 M172.5,333.5 v3.5 M172.5,29.5 v-3.5 M178.5,333.5 v3.5 M178.5,29.5 v-3.5 M184.5,333.5 v5.5 M184.5,29.5 v-5.5 M189.5,333.5 v3.5 M189.5,29.5 v-3.5 M195.5,333.5 v3.5 M195.5,29.5 v-3.5 M201.5,333.5 v3.5 M201.5,29.5 v-3.5 M207.5,333.5 v3.5 M207.5,29.5 v-3.5 M213.5,333.5 v5.5 M213.5,29.5 v-5.5 M219.5,333.5 v3.5 M219.5,29.5 v-3.5 M225.5,333.5 v3.5 M225.5,29.5 v-3.5 M231.5,333.5 v3.5 M231.5,29.5 v-3.5 M237.5,333.5 v3.5 M237.5,29.5 v-3.5 M243.5,333.5 v5.5 M243.5,29.5 v-5.5 M249.5,333.5 v3.5 M249.5,29.5 v-3.5 M255.5,333.5 v3.5 M255.5,29.5 v-3.5 M261.5,333.5 v3.5 M261.5,29.5 v-3.5 M267.5,333.5 v3.5 M267.5,29.5 v-3.5 M273.5,333.5 v5.5 M273.5,29.5 v-5.5 M279.5,333.5 v3.5 M279.5,29.5 v-3.5 M285.5,333.5 v3.5 M285.5,29.5 v-3.5 M291.5,333.5 v3.5 M291.5,29.5 v-3.5 M297.5,333.5 v3.5 M297.5,29.5 v-3.5 M303.5,333.5 v5.5 M303.5,29.5 v-5.5 M309.5,333.5 v3.5 M309.5,29.5 v-3.5 M315.5,333.5 v3.5 M315.5,29.5 v-3.5 M321.5,333.5 v3.5 M321.5,29.5 v-3.5 M327.5,333.5 v3.5 M327.5,29.5 v-3.5 M333.5,333.5 v5.5 M333.5,29.5 v-5.5 M339.5,333.5 v3.5 M339.5,29.5 v-3.5 M345.5,333.5 v3.5 M345.5,29.5 v-3.5 M351.5,333.5 v3.5 M351.5,29.5 v-3.5 M357.5,333.5 v3.5 M357.5,29.5 v-3.5 M363.5,333.5 v5.5 M363.5,29.5 v-5.5 M61.6,330.5 h-5.5 M366.3,330.5 h5.5 M61.6,324.5 h-3.5 M366.3,324.5 h3.5 M61.6,318.5 h-3.5 M366.3,318.5 h3.5 M61.6,312.5 h-3.5 M366.3,312.5 h3.5 M61.6,306.5 h-3.5 M366.3,306.5 h3.5 M61.6,300.5 h-5.5 M366.3,300.5 h5.5 M61.6,294.5 h-3.5 M366.3,294.5 h3.5 M61.6,288.5 h-3.5 M366.3,288.5 h3.5 M61.6,282.5 h-3.5 M366.3,282.5 h3.5 M61.6,277.5 h-3.5 M366.3,277.5 h3.5 M61.6,271.5 h-5.5 M366.3,271.5 h5.5 M61.6,265.5 h-3.5 M366.3,265.5 h3.5 M61.6,259.5 h-3.5 M366.3,259.5 h3.5 M61.6,253.5 h-3.5 M366.3,253.5 h3.5 M61.6,247.5 h-3.5 M366.3,247.5 h3.5 M61.6,241.5 h-5.5 M366.3,241.5 h5.5 M61.6,235.5 h-3.5 M366.3,235.5 h3.5 M61.6,229.5 h-3.5 M366.3,229.5 h3.5 M61.6,223.5 h-3.5 M366.3,223.5 h3.5 M61.6,217.5 h-3.5 M366.3,217.5 h3.5 M61.6,211.5 h-5.5 M366.3,211.5 h5.5 M61.6,205.5 h-3.5 M366.3,205.5 h3.5 M61.6,199.5 h-3.5 M366.3,199.5 h3.5 M61.6,193.5 h-3.5 M366.3,193.5 h3.5 M61.6,187.5 h-3.5 M366.3,187.5 h3.5 M61.6,181.5 h-5.5 M366.3,181.5 h5.5 M61.6,175.5 h-3.5 M366.3,175.5 h3.5 M61.6,169.5 h-3.5 M366.3,169.5 h3.5 M61.6,163.5 h-3.5 M366.3,163.5 h3.5 M61.6,157.5 h-3.5 M366.3,157.5 h3.5 M61.6,151.5 h-5.5 M366.3,151.5 h5.5 M61.6,145.5 h-3.5 M366.3,145.5 h3.5 M61.6,139.5 h-3.5 M366.3,139.5 h3.5 M61.6,133.5 h-3.5 M366.3,133.5 h3.5 M61.6,127.5 h-3.5 M366.3,127.5 h3.5 M61.6,121.5 h-5.5 M366.3,121.5 h5.5 M61.6,115.5 h-3.5 M366.3,115.5 h3.5 M61.6,109.5 h-3.5 M366.3,109.5 h3.5 M61.6,103.5 h-3.5 M366.3,103.5 h3.5 M61.6,98.5 h-3.5 M366.3,98.5 h3.5 M61.6,92.5 h-5.5 M366.3,92.5 h5.5 M61.6,86.5 h-3.5 M366.3,86.5 h3.5 M61.6,80.5 h-3.5 M366.3,80.5 h3.5 M61.6,74.5 h-3.5 M366.3,74.5 h3.5 M61.6,68.5 h-3.5 M366.3,68.5 h3.5 M61.6,62.5 h-5.5 M366.3,62.5 h5.5 M61.6,56.5 h-3.5 M366.3,56.5 h3.5 M61.6,50.5 h-3.5 M366.3,50.5 h3.5 M61.6,44.5 h-3.5 M366.3,44.5 h3.5 M61.6,38.5 h-3.5 M366.3,38.5 h3.5 M61.6,32.5 h-5.5 M366.3,32.5 h5.5" stroke="#262626" stroke-width="1.1" fill="none"/>
<text transform="translate(64.4 350.86) scale(1 1.15)" font-size="10.1" text-anchor="middle" fill="#222" stroke="#222" stroke-width="0.25">-2500</text>
<text transform="translate(94.3 350.86) scale(1 1.15)" font-size="10.1" text-anchor="middle" fill="#222" stroke="#222" stroke-width="0.25">-2000</text>
<text transform="translate(124.2 350.86) scale(1 1.15)" font-size="10.1" text-anchor="middle" fill="#222" stroke="#222" stroke-width="0.25">-1500</text>
<text transform="translate(154.1 350.86) scale(1 1.15)" font-size="10.1" text-anchor="middle" fill="#222" stroke="#222" stroke-width="0.25">-1000</text>
<text transform="translate(184 350.86) scale(1 1.15)" font-size="10.1" text-anchor="middle" fill="#222" stroke="#222" stroke-width="0.25">-500</text>
<text transform="translate(213.9 350.86) scale(1 1.15)" font-size="10.1" text-anchor="middle" fill="#222" stroke="#222" stroke-width="0.25">0</text>
<text transform="translate(243.8 350.86) scale(1 1.15)" font-size="10.1" text-anchor="middle" fill="#222" stroke="#222" stroke-width="0.25">500</text>
<text transform="translate(273.7 350.86) scale(1 1.15)" font-size="10.1" text-anchor="middle" fill="#222" stroke="#222" stroke-width="0.25">1000</text>
<text transform="translate(303.6 350.86) scale(1 1.15)" font-size="10.1" text-anchor="middle" fill="#222" stroke="#222" stroke-width="0.25">1500</text>
<text transform="translate(333.5 350.86) scale(1 1.15)" font-size="10.1" text-anchor="middle" fill="#222" stroke="#222" stroke-width="0.25">2000</text>
<text transform="translate(363.4 350.86) scale(1 1.15)" font-size="10.1" text-anchor="middle" fill="#222" stroke="#222" stroke-width="0.25">2500</text>
<text transform="translate(53.2 334.86) scale(1 1.15)" font-size="10.1" text-anchor="end" fill="#222" stroke="#222" stroke-width="0.25">-2500</text>
<text transform="translate(53.2 305.03) scale(1 1.15)" font-size="10.1" text-anchor="end" fill="#222" stroke="#222" stroke-width="0.25">-2000</text>
<text transform="translate(53.2 275.2) scale(1 1.15)" font-size="10.1" text-anchor="end" fill="#222" stroke="#222" stroke-width="0.25">-1500</text>
<text transform="translate(53.2 245.37) scale(1 1.15)" font-size="10.1" text-anchor="end" fill="#222" stroke="#222" stroke-width="0.25">-1000</text>
<text transform="translate(53.2 215.54) scale(1 1.15)" font-size="10.1" text-anchor="end" fill="#222" stroke="#222" stroke-width="0.25">-500</text>
<text transform="translate(53.2 185.71) scale(1 1.15)" font-size="10.1" text-anchor="end" fill="#222" stroke="#222" stroke-width="0.25">0</text>
<text transform="translate(53.2 155.88) scale(1 1.15)" font-size="10.1" text-anchor="end" fill="#222" stroke="#222" stroke-width="0.25">500</text>
<text transform="translate(53.2 126.05) scale(1 1.15)" font-size="10.1" text-anchor="end" fill="#222" stroke="#222" stroke-width="0.25">1000</text>
<text transform="translate(53.2 96.22) scale(1 1.15)" font-size="10.1" text-anchor="end" fill="#222" stroke="#222" stroke-width="0.25">1500</text>
<text transform="translate(53.2 66.39) scale(1 1.15)" font-size="10.1" text-anchor="end" fill="#222" stroke="#222" stroke-width="0.25">2000</text>
<text transform="translate(53.2 36.56) scale(1 1.15)" font-size="10.1" text-anchor="end" fill="#222" stroke="#222" stroke-width="0.25">2500</text>
<text x="219.9" y="362.9" font-size="15" text-anchor="middle" font-family="Liberation Serif, serif" fill="#111" stroke="#111" stroke-width="0.2">X (mm)</text>
<text x="24.6" y="182.3" font-size="15" text-anchor="middle" font-family="Liberation Serif, serif" fill="#111" stroke="#111" stroke-width="0.2" transform="rotate(-90 24.6 182.3)">Y (mm)</text>
<text x="213.2" y="378.8" font-size="18" text-anchor="middle" font-family="Liberation Serif, serif" font-weight="bold" fill="#111" stroke="#111" stroke-width="0.2">(a)</text>
<path d="M438.5,26.6 V334.1 M468.5,26.6 V334.1 M499.5,26.6 V334.1 M529.5,26.6 V334.1 M559.5,26.6 V334.1 M589.5,26.6 V334.1 M620.5,26.6 V334.1 M650.5,26.6 V334.1 M680.5,26.6 V334.1 M710.5,26.6 V334.1 M741.5,26.6 V334.1 M436.5,331.5 H743.7 M436.5,301.5 H743.7 M436.5,270.5 H743.7 M436.5,240.5 H743.7 M436.5,210.5 H743.7 M436.5,180.5 H743.7 M436.5,150.5 H743.7 M436.5,119.5 H743.7 M436.5,89.5 H743.7 M436.5,59.5 H743.7 M436.5,29.5 H743.7" stroke="#d9d9d9" stroke-width="1.0" fill="none"/>
<path d="M589.85,180.2 L592.49,178.88 L595.14,177.56 L597.78,176.24 L600.41,174.92 L603.05,173.61 L605.68,172.29 L608.31,170.97 L610.93,169.66 L613.54,168.34 L616.15,167.03 L618.75,165.71 L621.34,164.4 L623.92,163.09 L626.49,161.78 L629.05,160.47 L631.6,159.16 L634.13,157.86 L636.65,156.55 L639.16,155.25 L641.65,153.95 L644.13,152.65 L646.59,151.36 L649.03,150.07 L651.45,148.77 L653.86,147.48 L656.24,146.2 L658.61,144.91 L660.95,143.63 L663.28,142.35 L665.58,141.08 L667.85,139.81 L670.11,138.54 L672.34,137.27 L674.54,136.01 L676.72,134.75 L678.87,133.49 L681,132.24 L683.09,130.99 L685.16,129.74 L687.2,128.5 L689.21,127.27 L691.19,126.03 L693.14,124.8 L695.06,123.58 L696.94,122.36 L698.8,121.14 L700.62,119.93 L702.4,118.72 L704.15,117.52 L705.87,116.32 L707.55,115.13 L709.2,113.94 L710.81,112.76 L712.38,111.58 L713.91,110.41 L715.41,109.24 L716.87,108.08 L718.29,106.92 L719.67,105.77 L721.01,104.62 L722.31,103.49 L723.57,102.35 L724.79,101.22 L725.97,100.1 L727.11,98.99 L728.21,97.88 L729.26,96.77 L730.27,95.68 L731.24,94.59 L732.17,93.5 L733.05,92.43 L733.89,91.36 L734.68,90.29 L735.44,89.24 L736.14,88.19 L736.8,87.14 L737.42,86.11 L737.99,85.08 L738.52,84.06 L739,83.04 L739.44,82.04 L739.83,81.04 L740.17,80.04 L740.47,79.06 L740.73,78.08 L740.93,77.12 L741.09,76.15 L741.21,75.2 L741.28,74.26 L741.3,73.32 L741.28,72.39 L741.21,71.47 L741.09,70.56 L740.93,69.66 L740.73,68.76 L740.47,67.87 L740.17,66.99 L739.83,66.12 L739.44,65.26 L739,64.41 L738.52,63.57 L737.99,62.73 L737.42,61.91 L736.8,61.09 L736.14,60.28 L735.44,59.49 L734.68,58.7 L733.89,57.92 L733.05,57.15 L732.17,56.38 L731.24,55.63 L730.27,54.89 L729.26,54.16 L728.21,53.43 L727.11,52.72 L725.97,52.02 L724.79,51.32 L723.57,50.64 L722.31,49.96 L721.01,49.3 L719.67,48.64 L718.29,48 L716.87,47.37 L715.41,46.74 L713.91,46.13 L712.38,45.52 L710.81,44.93 L709.2,44.35 L707.55,43.77 L705.87,43.21 L704.15,42.66 L702.4,42.12 L700.62,41.59 L698.8,41.06 L696.94,40.55 L695.06,40.06 L693.14,39.57 L691.19,39.09 L689.21,38.62 L687.2,38.16 L685.16,37.72 L683.09,37.28 L681,36.86 L678.87,36.45 L676.72,36.04 L674.54,35.65 L672.34,35.27 L670.11,34.9 L667.85,34.55 L665.58,34.2 L663.28,33.86 L660.95,33.54 L658.61,33.23 L656.24,32.92 L653.86,32.63 L651.45,32.35 L649.03,32.08 L646.59,31.83 L644.13,31.58 L641.65,31.35 L639.16,31.12 L636.65,30.91 L634.13,30.71 L631.6,30.52 L629.05,30.34 L626.49,30.18 L623.92,30.02 L621.34,29.88 L618.75,29.74 L616.15,29.62 L613.54,29.51 L610.93,29.42 L608.31,29.33 L605.68,29.26 L603.05,29.19 L600.41,29.14 L597.78,29.1 L595.14,29.07 L592.49,29.05 L589.85,29.05 L587.21,29.05 L584.56,29.07 L581.92,29.1 L579.29,29.14 L576.65,29.19 L574.02,29.26 L571.39,29.33 L568.77,29.42 L566.16,29.51 L563.55,29.62 L560.95,29.74 L558.36,29.88 L555.78,30.02 L553.21,30.18 L550.65,30.34 L548.1,30.52 L545.57,30.71 L543.05,30.91 L540.54,31.12 L538.05,31.35 L535.57,31.58 L533.11,31.83 L530.67,32.08 L528.25,32.35 L525.84,32.63 L523.46,32.92 L521.09,33.23 L518.75,33.54 L516.42,33.86 L514.12,34.2 L511.85,34.55 L509.59,34.9 L507.36,35.27 L505.16,35.65 L502.98,36.04 L500.83,36.45 L498.7,36.86 L496.61,37.28 L494.54,37.72 L492.5,38.16 L490.49,38.62 L488.51,39.09 L486.56,39.57 L484.64,40.06 L482.76,40.55 L480.9,41.06 L479.08,41.59 L477.3,42.12 L475.55,42.66 L473.83,43.21 L472.15,43.77 L470.5,44.35 L468.89,44.93 L467.32,45.52 L465.79,46.13 L464.29,46.74 L462.83,47.37 L461.41,48 L460.03,48.64 L458.69,49.3 L457.39,49.96 L456.13,50.64 L454.91,51.32 L453.73,52.02 L452.59,52.72 L451.49,53.43 L450.44,54.16 L449.43,54.89 L448.46,55.63 L447.53,56.38 L446.65,57.15 L445.81,57.92 L445.02,58.7 L444.26,59.49 L443.56,60.28 L442.9,61.09 L442.28,61.91 L441.71,62.73 L441.18,63.57 L440.7,64.41 L440.26,65.26 L439.87,66.12 L439.53,66.99 L439.23,67.87 L438.97,68.76 L438.77,69.66 L438.61,70.56 L438.49,71.47 L438.42,72.39 L438.4,73.32 L438.42,74.26 L438.49,75.2 L438.61,76.15 L438.77,77.12 L438.97,78.08 L439.23,79.06 L439.53,80.04 L439.87,81.04 L440.26,82.04 L440.7,83.04 L441.18,84.06 L441.71,85.08 L442.28,86.11 L442.9,87.14 L443.56,88.19 L444.26,89.24 L445.02,90.29 L445.81,91.36 L446.65,92.43 L447.53,93.5 L448.46,94.59 L449.43,95.68 L450.44,96.77 L451.49,97.88 L452.59,98.99 L453.73,100.1 L454.91,101.22 L456.13,102.35 L457.39,103.49 L458.69,104.62 L460.03,105.77 L461.41,106.92 L462.83,108.08 L464.29,109.24 L465.79,110.41 L467.32,111.58 L468.89,112.76 L470.5,113.94 L472.15,115.13 L473.83,116.32 L475.55,117.52 L477.3,118.72 L479.08,119.93 L480.9,121.14 L482.76,122.36 L484.64,123.58 L486.56,124.8 L488.51,126.03 L490.49,127.27 L492.5,128.5 L494.54,129.74 L496.61,130.99 L498.7,132.24 L500.83,133.49 L502.98,134.75 L505.16,136.01 L507.36,137.27 L509.59,138.54 L511.85,139.81 L514.12,141.08 L516.42,142.35 L518.75,143.63 L521.09,144.91 L523.46,146.2 L525.84,147.48 L528.25,148.77 L530.67,150.07 L533.11,151.36 L535.57,152.65 L538.05,153.95 L540.54,155.25 L543.05,156.55 L545.57,157.86 L548.1,159.16 L550.65,160.47 L553.21,161.78 L555.78,163.09 L558.36,164.4 L560.95,165.71 L563.55,167.03 L566.16,168.34 L568.77,169.66 L571.39,170.97 L574.02,172.29 L576.65,173.61 L579.29,174.92 L581.92,176.24 L584.56,177.56 L587.21,178.88 L589.85,180.2 L592.49,181.52 L595.14,182.84 L597.78,184.16 L600.41,185.48 L603.05,186.79 L605.68,188.11 L608.31,189.43 L610.93,190.74 L613.54,192.06 L616.15,193.37 L618.75,194.69 L621.34,196 L623.92,197.31 L626.49,198.62 L629.05,199.93 L631.6,201.24 L634.13,202.54 L636.65,203.85 L639.16,205.15 L641.65,206.45 L644.13,207.75 L646.59,209.04 L649.03,210.33 L651.45,211.63 L653.86,212.92 L656.24,214.2 L658.61,215.49 L660.95,216.77 L663.28,218.05 L665.58,219.32 L667.85,220.59 L670.11,221.86 L672.34,223.13 L674.54,224.39 L676.72,225.65 L678.87,226.91 L681,228.16 L683.09,229.41 L685.16,230.66 L687.2,231.9 L689.21,233.13 L691.19,234.37 L693.14,235.6 L695.06,236.82 L696.94,238.04 L698.8,239.26 L700.62,240.47 L702.4,241.68 L704.15,242.88 L705.87,244.08 L707.55,245.27 L709.2,246.46 L710.81,247.64 L712.38,248.82 L713.91,249.99 L715.41,251.16 L716.87,252.32 L718.29,253.48 L719.67,254.63 L721.01,255.78 L722.31,256.91 L723.57,258.05 L724.79,259.18 L725.97,260.3 L727.11,261.41 L728.21,262.52 L729.26,263.63 L730.27,264.72 L731.24,265.81 L732.17,266.9 L733.05,267.97 L733.89,269.04 L734.68,270.11 L735.44,271.16 L736.14,272.21 L736.8,273.26 L737.42,274.29 L737.99,275.32 L738.52,276.34 L739,277.36 L739.44,278.36 L739.83,279.36 L740.17,280.36 L740.47,281.34 L740.73,282.32 L740.93,283.28 L741.09,284.25 L741.21,285.2 L741.28,286.14 L741.3,287.08 L741.28,288.01 L741.21,288.93 L741.09,289.84 L740.93,290.74 L740.73,291.64 L740.47,292.53 L740.17,293.41 L739.83,294.28 L739.44,295.14 L739,295.99 L738.52,296.83 L737.99,297.67 L737.42,298.49 L736.8,299.31 L736.14,300.12 L735.44,300.91 L734.68,301.7 L733.89,302.48 L733.05,303.25 L732.17,304.02 L731.24,304.77 L730.27,305.51 L729.26,306.24 L728.21,306.97 L727.11,307.68 L725.97,308.38 L724.79,309.08 L723.57,309.76 L722.31,310.44 L721.01,311.1 L719.67,311.76 L718.29,312.4 L716.87,313.03 L715.41,313.66 L713.91,314.27 L712.38,314.88 L710.81,315.47 L709.2,316.05 L707.55,316.63 L705.87,317.19 L704.15,317.74 L702.4,318.28 L700.62,318.81 L698.8,319.34 L696.94,319.85 L695.06,320.34 L693.14,320.83 L691.19,321.31 L689.21,321.78 L687.2,322.24 L685.16,322.68 L683.09,323.12 L681,323.54 L678.87,323.95 L676.72,324.36 L674.54,324.75 L672.34,325.13 L670.11,325.5 L667.85,325.85 L665.58,326.2 L663.28,326.54 L660.95,326.86 L658.61,327.17 L656.24,327.48 L653.86,327.77 L651.45,328.05 L649.03,328.32 L646.59,328.57 L644.13,328.82 L641.65,329.05 L639.16,329.28 L636.65,329.49 L634.13,329.69 L631.6,329.88 L629.05,330.06 L626.49,330.22 L623.92,330.38 L621.34,330.52 L618.75,330.66 L616.15,330.78 L613.54,330.89 L610.93,330.98 L608.31,331.07 L605.68,331.14 L603.05,331.21 L600.41,331.26 L597.78,331.3 L595.14,331.33 L592.49,331.35 L589.85,331.35 L587.21,331.35 L584.56,331.33 L581.92,331.3 L579.29,331.26 L576.65,331.21 L574.02,331.14 L571.39,331.07 L568.77,330.98 L566.16,330.89 L563.55,330.78 L560.95,330.66 L558.36,330.52 L555.78,330.38 L553.21,330.22 L550.65,330.06 L548.1,329.88 L545.57,329.69 L543.05,329.49 L540.54,329.28 L538.05,329.05 L535.57,328.82 L533.11,328.57 L530.67,328.32 L528.25,328.05 L525.84,327.77 L523.46,327.48 L521.09,327.17 L518.75,326.86 L516.42,326.54 L514.12,326.2 L511.85,325.85 L509.59,325.5 L507.36,325.13 L505.16,324.75 L502.98,324.36 L500.83,323.95 L498.7,323.54 L496.61,323.12 L494.54,322.68 L492.5,322.24 L490.49,321.78 L488.51,321.31 L486.56,320.83 L484.64,320.34 L482.76,319.85 L480.9,319.34 L479.08,318.81 L477.3,318.28 L475.55,317.74 L473.83,317.19 L472.15,316.63 L470.5,316.05 L468.89,315.47 L467.32,314.88 L465.79,314.27 L464.29,313.66 L462.83,313.03 L461.41,312.4 L460.03,311.76 L458.69,311.1 L457.39,310.44 L456.13,309.76 L454.91,309.08 L453.73,308.38 L452.59,307.68 L451.49,306.97 L450.44,306.24 L449.43,305.51 L448.46,304.77 L447.53,304.02 L446.65,303.25 L445.81,302.48 L445.02,301.7 L444.26,300.91 L443.56,300.12 L442.9,299.31 L442.28,298.49 L441.71,297.67 L441.18,296.83 L440.7,295.99 L440.26,295.14 L439.87,294.28 L439.53,293.41 L439.23,292.53 L438.97,291.64 L438.77,290.74 L438.61,289.84 L438.49,288.93 L438.42,288.01 L438.4,287.08 L438.42,286.14 L438.49,285.2 L438.61,284.25 L438.77,283.28 L438.97,282.32 L439.23,281.34 L439.53,280.36 L439.87,279.36 L440.26,278.36 L440.7,277.36 L441.18,276.34 L441.71,275.32 L442.28,274.29 L442.9,273.26 L443.56,272.21 L444.26,271.16 L445.02,270.11 L445.81,269.04 L446.65,267.97 L447.53,266.9 L448.46,265.81 L449.43,264.72 L450.44,263.63 L451.49,262.52 L452.59,261.41 L453.73,260.3 L454.91,259.18 L456.13,258.05 L457.39,256.91 L458.69,255.78 L460.03,254.63 L461.41,253.48 L462.83,252.32 L464.29,251.16 L465.79,249.99 L467.32,248.82 L468.89,247.64 L470.5,246.46 L472.15,245.27 L473.83,244.08 L475.55,242.88 L477.3,241.68 L479.08,240.47 L480.9,239.26 L482.76,238.04 L484.64,236.82 L486.56,235.6 L488.51,234.37 L490.49,233.13 L492.5,231.9 L494.54,230.66 L496.61,229.41 L498.7,228.16 L500.83,226.91 L502.98,225.65 L505.16,224.39 L507.36,223.13 L509.59,221.86 L511.85,220.59 L514.12,219.32 L516.42,218.05 L518.75,216.77 L521.09,215.49 L523.46,214.2 L525.84,212.92 L528.25,211.63 L530.67,210.33 L533.11,209.04 L535.57,207.75 L538.05,206.45 L540.54,205.15 L543.05,203.85 L545.57,202.54 L548.1,201.24 L550.65,199.93 L553.21,198.62 L555.78,197.31 L558.36,196 L560.95,194.69 L563.55,193.37 L566.16,192.06 L568.77,190.74 L571.39,189.43 L574.02,188.11 L576.65,186.79 L579.29,185.48 L581.92,184.16 L584.56,182.84 L587.21,181.52 L589.85,180.2" stroke="#111" stroke-width="1.0" fill="none" stroke-linejoin="round" clip-path="url(#cb)"/>
<path d="M589.85,180.2 L592.39,178.9 L594.94,177.59 L597.48,176.29 L600.01,174.98 L602.55,173.68 L605.08,172.38 L607.61,171.07 L610.13,169.77 L612.64,168.47 L615.15,167.17 L617.65,165.87 L620.14,164.57 L622.63,163.28 L625.1,161.98 L627.56,160.69 L630.01,159.4 L632.45,158.1 L634.88,156.81 L637.29,155.53 L639.69,154.24 L642.07,152.96 L644.43,151.68 L646.78,150.4 L649.12,149.12 L651.43,147.84 L653.72,146.57 L656,145.3 L658.26,144.04 L660.49,142.77 L662.7,141.51 L664.9,140.25 L667.06,138.99 L669.21,137.74 L671.33,136.49 L673.43,135.25 L675.5,134.01 L677.54,132.77 L679.56,131.53 L681.55,130.3 L683.51,129.07 L685.44,127.85 L687.35,126.63 L689.22,125.41 L691.07,124.2 L692.88,122.99 L694.66,121.79 L696.41,120.59 L698.13,119.4 L699.82,118.21 L701.47,117.02 L703.09,115.84 L704.67,114.67 L706.22,113.5 L707.73,112.33 L709.21,111.17 L710.65,110.02 L712.05,108.87 L713.42,107.73 L714.75,106.59 L716.04,105.45 L717.29,104.33 L718.5,103.21 L719.68,102.09 L720.81,100.98 L721.91,99.88 L722.96,98.78 L723.98,97.69 L724.95,96.61 L725.88,95.53 L726.77,94.46 L727.62,93.39 L728.43,92.33 L729.19,91.28 L729.91,90.23 L730.59,89.2 L731.23,88.16 L731.82,87.14 L732.37,86.12 L732.88,85.11 L733.34,84.11 L733.76,83.11 L734.14,82.13 L734.47,81.14 L734.76,80.17 L735,79.21 L735.2,78.25 L735.36,77.3 L735.47,76.36 L735.54,75.42 L735.56,74.49 L735.54,73.58 L735.47,72.67 L735.36,71.76 L735.2,70.87 L735,69.98 L734.76,69.11 L734.47,68.24 L734.14,67.38 L733.76,66.53 L733.34,65.68 L732.88,64.85 L732.37,64.02 L731.82,63.21 L731.23,62.4 L730.59,61.6 L729.91,60.81 L729.19,60.03 L728.43,59.26 L727.62,58.5 L726.77,57.74 L725.88,57 L724.95,56.27 L723.98,55.54 L722.96,54.83 L721.91,54.12 L720.81,53.43 L719.68,52.74 L718.5,52.06 L717.29,51.4 L716.04,50.74 L714.75,50.09 L713.42,49.45 L712.05,48.83 L710.65,48.21 L709.21,47.6 L707.73,47 L706.22,46.42 L704.67,45.84 L703.09,45.27 L701.47,44.72 L699.82,44.17 L698.13,43.63 L696.41,43.11 L694.66,42.59 L692.88,42.09 L691.07,41.6 L689.22,41.11 L687.35,40.64 L685.44,40.18 L683.51,39.73 L681.55,39.28 L679.56,38.85 L677.54,38.44 L675.5,38.03 L673.43,37.63 L671.33,37.24 L669.21,36.87 L667.06,36.5 L664.9,36.15 L662.7,35.8 L660.49,35.47 L658.26,35.15 L656,34.84 L653.72,34.54 L651.43,34.25 L649.12,33.98 L646.78,33.71 L644.43,33.46 L642.07,33.21 L639.69,32.98 L637.29,32.76 L634.88,32.55 L632.45,32.35 L630.01,32.16 L627.56,31.99 L625.1,31.82 L622.63,31.67 L620.14,31.53 L617.65,31.4 L615.15,31.28 L612.64,31.17 L610.13,31.07 L607.61,30.99 L605.08,30.91 L602.55,30.85 L600.01,30.8 L597.48,30.76 L594.94,30.73 L592.39,30.72 L589.85,30.71 L587.31,30.72 L584.76,30.73 L582.22,30.76 L579.69,30.8 L577.15,30.85 L574.62,30.91 L572.09,30.99 L569.57,31.07 L567.06,31.17 L564.55,31.28 L562.05,31.4 L559.56,31.53 L557.07,31.67 L554.6,31.82 L552.14,31.99 L549.69,32.16 L547.25,32.35 L544.82,32.55 L542.41,32.76 L540.01,32.98 L537.63,33.21 L535.27,33.46 L532.92,33.71 L530.58,33.98 L528.27,34.25 L525.98,34.54 L523.7,34.84 L521.44,35.15 L519.21,35.47 L517,35.8 L514.8,36.15 L512.64,36.5 L510.49,36.87 L508.37,37.24 L506.27,37.63 L504.2,38.03 L502.16,38.44 L500.14,38.85 L498.15,39.28 L496.19,39.73 L494.26,40.18 L492.35,40.64 L490.48,41.11 L488.63,41.6 L486.82,42.09 L485.04,42.59 L483.29,43.11 L481.57,43.63 L479.88,44.17 L478.23,44.72 L476.61,45.27 L475.03,45.84 L473.48,46.42 L471.97,47 L470.49,47.6 L469.05,48.21 L467.65,48.83 L466.28,49.45 L464.95,50.09 L463.66,50.74 L462.41,51.4 L461.2,52.06 L460.02,52.74 L458.89,53.43 L457.79,54.12 L456.74,54.83 L455.72,55.54 L454.75,56.27 L453.82,57 L452.93,57.74 L452.08,58.5 L451.27,59.26 L450.51,60.03 L449.79,60.81 L449.11,61.6 L448.47,62.4 L447.88,63.21 L447.33,64.02 L446.82,64.85 L446.36,65.68 L445.94,66.53 L445.56,67.38 L445.23,68.24 L444.94,69.11 L444.7,69.98 L444.5,70.87 L444.34,71.76 L444.23,72.67 L444.16,73.58 L444.14,74.49 L444.16,75.42 L444.23,76.36 L444.34,77.3 L444.5,78.25 L444.7,79.21 L444.94,80.17 L445.23,81.14 L445.56,82.13 L445.94,83.11 L446.36,84.11 L446.82,85.11 L447.33,86.12 L447.88,87.14 L448.47,88.16 L449.11,89.2 L449.79,90.23 L450.51,91.28 L451.27,92.33 L452.08,93.39 L452.93,94.46 L453.82,95.53 L454.75,96.61 L455.72,97.69 L456.74,98.78 L457.79,99.88 L458.89,100.98 L460.02,102.09 L461.2,103.21 L462.41,104.33 L463.66,105.45 L464.95,106.59 L466.28,107.73 L467.65,108.87 L469.05,110.02 L470.49,111.17 L471.97,112.33 L473.48,113.5 L475.03,114.67 L476.61,115.84 L478.23,117.02 L479.88,118.21 L481.57,119.4 L483.29,120.59 L485.04,121.79 L486.82,122.99 L488.63,124.2 L490.48,125.41 L492.35,126.63 L494.26,127.85 L496.19,129.07 L498.15,130.3 L500.14,131.53 L502.16,132.77 L504.2,134.01 L506.27,135.25 L508.37,136.49 L510.49,137.74 L512.64,138.99 L514.8,140.25 L517,141.51 L519.21,142.77 L521.44,144.04 L523.7,145.3 L525.98,146.57 L528.27,147.84 L530.58,149.12 L532.92,150.4 L535.27,151.68 L537.63,152.96 L540.01,154.24 L542.41,155.53 L544.82,156.81 L547.25,158.1 L549.69,159.4 L552.14,160.69 L554.6,161.98 L557.07,163.28 L559.56,164.57 L562.05,165.87 L564.55,167.17 L567.06,168.47 L569.57,169.77 L572.09,171.07 L574.62,172.38 L577.15,173.68 L579.69,174.98 L582.22,176.29 L584.76,177.59 L587.31,178.9 L589.85,180.2 L592.39,181.52 L594.94,182.84 L597.48,184.15 L600.01,185.47 L602.55,186.79 L605.08,188.1 L607.61,189.42 L610.13,190.73 L612.64,192.05 L615.15,193.36 L617.65,194.67 L620.14,195.98 L622.63,197.29 L625.1,198.6 L627.56,199.91 L630.01,201.22 L632.45,202.52 L634.88,203.82 L637.29,205.12 L639.69,206.42 L642.07,207.72 L644.43,209.01 L646.78,210.3 L649.12,211.59 L651.43,212.88 L653.72,214.17 L656,215.45 L658.26,216.73 L660.49,218.01 L662.7,219.28 L664.9,220.55 L667.06,221.82 L669.21,223.09 L671.33,224.35 L673.43,225.61 L675.5,226.86 L677.54,228.11 L679.56,229.36 L681.55,230.6 L683.51,231.85 L685.44,233.08 L687.35,234.31 L689.22,235.54 L691.07,236.77 L692.88,237.99 L694.66,239.2 L696.41,240.41 L698.13,241.62 L699.82,242.82 L701.47,244.02 L703.09,245.21 L704.67,246.39 L706.22,247.58 L707.73,248.75 L709.21,249.92 L710.65,251.09 L712.05,252.25 L713.42,253.41 L714.75,254.56 L716.04,255.7 L717.29,256.84 L718.5,257.97 L719.68,259.1 L720.81,260.22 L721.91,261.33 L722.96,262.44 L723.98,263.54 L724.95,264.64 L725.88,265.73 L726.77,266.81 L727.62,267.89 L728.43,268.96 L729.19,270.02 L729.91,271.07 L730.59,272.12 L731.23,273.16 L731.82,274.2 L732.37,275.23 L732.88,276.25 L733.34,277.26 L733.76,278.27 L734.14,279.26 L734.47,280.26 L734.76,281.24 L735,282.21 L735.2,283.18 L735.36,284.14 L735.47,285.09 L735.54,286.04 L735.56,286.97 L735.54,287.9 L735.47,288.82 L735.36,289.73 L735.2,290.63 L735,291.53 L734.76,292.41 L734.47,293.29 L734.14,294.16 L733.76,295.02 L733.34,295.87 L732.88,296.72 L732.37,297.55 L731.82,298.37 L731.23,299.19 L730.59,300 L729.91,300.79 L729.19,301.58 L728.43,302.36 L727.62,303.13 L726.77,303.89 L725.88,304.64 L724.95,305.38 L723.98,306.12 L722.96,306.84 L721.91,307.55 L720.81,308.26 L719.68,308.95 L718.5,309.63 L717.29,310.31 L716.04,310.97 L714.75,311.62 L713.42,312.27 L712.05,312.9 L710.65,313.53 L709.21,314.14 L707.73,314.74 L706.22,315.34 L704.67,315.92 L703.09,316.49 L701.47,317.05 L699.82,317.6 L698.13,318.15 L696.41,318.68 L694.66,319.2 L692.88,319.71 L691.07,320.2 L689.22,320.69 L687.35,321.17 L685.44,321.64 L683.51,322.09 L681.55,322.54 L679.56,322.97 L677.54,323.4 L675.5,323.81 L673.43,324.21 L671.33,324.6 L669.21,324.98 L667.06,325.35 L664.9,325.71 L662.7,326.05 L660.49,326.39 L658.26,326.71 L656,327.03 L653.72,327.33 L651.43,327.62 L649.12,327.9 L646.78,328.17 L644.43,328.43 L642.07,328.67 L639.69,328.91 L637.29,329.13 L634.88,329.34 L632.45,329.54 L630.01,329.73 L627.56,329.91 L625.1,330.07 L622.63,330.23 L620.14,330.37 L617.65,330.5 L615.15,330.63 L612.64,330.73 L610.13,330.83 L607.61,330.92 L605.08,330.99 L602.55,331.06 L600.01,331.11 L597.48,331.15 L594.94,331.18 L592.39,331.19 L589.85,331.2 L587.31,331.19 L584.76,331.18 L582.22,331.15 L579.69,331.11 L577.15,331.06 L574.62,330.99 L572.09,330.92 L569.57,330.83 L567.06,330.73 L564.55,330.63 L562.05,330.5 L559.56,330.37 L557.07,330.23 L554.6,330.07 L552.14,329.91 L549.69,329.73 L547.25,329.54 L544.82,329.34 L542.41,329.13 L540.01,328.91 L537.63,328.67 L535.27,328.43 L532.92,328.17 L530.58,327.9 L528.27,327.62 L525.98,327.33 L523.7,327.03 L521.44,326.71 L519.21,326.39 L517,326.05 L514.8,325.71 L512.64,325.35 L510.49,324.98 L508.37,324.6 L506.27,324.21 L504.2,323.81 L502.16,323.4 L500.14,322.97 L498.15,322.54 L496.19,322.09 L494.26,321.64 L492.35,321.17 L490.48,320.69 L488.63,320.2 L486.82,319.71 L485.04,319.2 L483.29,318.68 L481.57,318.15 L479.88,317.6 L478.23,317.05 L476.61,316.49 L475.03,315.92 L473.48,315.34 L471.97,314.74 L470.49,314.14 L469.05,313.53 L467.65,312.9 L466.28,312.27 L464.95,311.62 L463.66,310.97 L462.41,310.31 L461.2,309.63 L460.02,308.95 L458.89,308.26 L457.79,307.55 L456.74,306.84 L455.72,306.12 L454.75,305.38 L453.82,304.64 L452.93,303.89 L452.08,303.13 L451.27,302.36 L450.51,301.58 L449.79,300.79 L449.11,300 L448.47,299.19 L447.88,298.37 L447.33,297.55 L446.82,296.72 L446.36,295.87 L445.94,295.02 L445.56,294.16 L445.23,293.29 L444.94,292.41 L444.7,291.53 L444.5,290.63 L444.34,289.73 L444.23,288.82 L444.16,287.9 L444.14,286.97 L444.16,286.04 L444.23,285.09 L444.34,284.14 L444.5,283.18 L444.7,282.21 L444.94,281.24 L445.23,280.26 L445.56,279.26 L445.94,278.27 L446.36,277.26 L446.82,276.25 L447.33,275.23 L447.88,274.2 L448.47,273.16 L449.11,272.12 L449.79,271.07 L450.51,270.02 L451.27,268.96 L452.08,267.89 L452.93,266.81 L453.82,265.73 L454.75,264.64 L455.72,263.54 L456.74,262.44 L457.79,261.33 L458.89,260.22 L460.02,259.1 L461.2,257.97 L462.41,256.84 L463.66,255.7 L464.95,254.56 L466.28,253.41 L467.65,252.25 L469.05,251.09 L470.49,249.92 L471.97,248.75 L473.48,247.58 L475.03,246.39 L476.61,245.21 L478.23,244.02 L479.88,242.82 L481.57,241.62 L483.29,240.41 L485.04,239.2 L486.82,237.99 L488.63,236.77 L490.48,235.54 L492.35,234.31 L494.26,233.08 L496.19,231.85 L498.15,230.6 L500.14,229.36 L502.16,228.11 L504.2,226.86 L506.27,225.61 L508.37,224.35 L510.49,223.09 L512.64,221.82 L514.8,220.55 L517,219.28 L519.21,218.01 L521.44,216.73 L523.7,215.45 L525.98,214.17 L528.27,212.88 L530.58,211.59 L532.92,210.3 L535.27,209.01 L537.63,207.72 L540.01,206.42 L542.41,205.12 L544.82,203.82 L547.25,202.52 L549.69,201.22 L552.14,199.91 L554.6,198.6 L557.07,197.29 L559.56,195.98 L562.05,194.67 L564.55,193.36 L567.06,192.05 L569.57,190.73 L572.09,189.42 L574.62,188.1 L577.15,186.79 L579.69,185.47 L582.22,184.15 L584.76,182.84 L587.31,181.52 L589.85,180.2" stroke="#1414d6" stroke-width="1.4" fill="none" stroke-linejoin="round" clip-path="url(#cb)"/>
<path d="M589.85,180.2 L592.49,178.88 L595.13,177.56 L597.76,176.25 L600.39,174.93 L603.02,173.61 L605.65,172.3 L608.27,170.98 L610.89,169.67 L613.5,168.35 L616.1,167.04 L618.69,165.73 L621.28,164.42 L623.85,163.11 L626.42,161.8 L628.97,160.49 L631.51,159.18 L634.04,157.88 L636.56,156.58 L639.06,155.28 L641.55,153.98 L644.02,152.68 L646.47,151.39 L648.91,150.1 L651.33,148.81 L653.73,147.52 L656.11,146.23 L658.47,144.95 L660.81,143.67 L663.13,142.39 L665.42,141.12 L667.7,139.85 L669.95,138.58 L672.17,137.31 L674.37,136.05 L676.55,134.79 L678.69,133.54 L680.81,132.29 L682.91,131.04 L684.97,129.8 L687.01,128.55 L689.01,127.32 L690.99,126.09 L692.93,124.86 L694.85,123.63 L696.73,122.41 L698.58,121.2 L700.39,119.99 L702.18,118.78 L703.92,117.58 L705.64,116.38 L707.32,115.19 L708.96,114.01 L710.56,112.82 L712.13,111.65 L713.66,110.48 L715.16,109.31 L716.62,108.15 L718.03,106.99 L719.41,105.84 L720.75,104.7 L722.05,103.56 L723.31,102.43 L724.53,101.3 L725.7,100.18 L726.84,99.07 L727.93,97.96 L728.98,96.86 L729.99,95.76 L730.96,94.67 L731.88,93.59 L732.77,92.51 L733.6,91.44 L734.4,90.38 L735.14,89.33 L735.85,88.28 L736.51,87.24 L737.13,86.2 L737.7,85.17 L738.22,84.15 L738.7,83.14 L739.14,82.13 L739.53,81.14 L739.87,80.14 L740.17,79.16 L740.42,78.19 L740.63,77.22 L740.79,76.26 L740.91,75.31 L740.98,74.36 L741,73.43 L740.98,72.5 L740.91,71.58 L740.79,70.67 L740.63,69.77 L740.42,68.87 L740.17,67.99 L739.87,67.11 L739.53,66.24 L739.14,65.38 L738.7,64.53 L738.22,63.68 L737.7,62.85 L737.13,62.03 L736.51,61.21 L735.85,60.4 L735.14,59.61 L734.4,58.82 L733.6,58.04 L732.77,57.27 L731.88,56.51 L730.96,55.76 L729.99,55.02 L728.98,54.28 L727.93,53.56 L726.84,52.85 L725.7,52.14 L724.53,51.45 L723.31,50.77 L722.05,50.09 L720.75,49.43 L719.41,48.78 L718.03,48.13 L716.62,47.5 L715.16,46.87 L713.66,46.26 L712.13,45.66 L710.56,45.06 L708.96,44.48 L707.32,43.91 L705.64,43.35 L703.92,42.8 L702.18,42.25 L700.39,41.72 L698.58,41.2 L696.73,40.69 L694.85,40.2 L692.93,39.71 L690.99,39.23 L689.01,38.76 L687.01,38.31 L684.97,37.86 L682.91,37.43 L680.81,37 L678.69,36.59 L676.55,36.19 L674.37,35.8 L672.17,35.42 L669.95,35.05 L667.7,34.69 L665.42,34.35 L663.13,34.01 L660.81,33.69 L658.47,33.37 L656.11,33.07 L653.73,32.78 L651.33,32.5 L648.91,32.23 L646.47,31.97 L644.02,31.73 L641.55,31.49 L639.06,31.27 L636.56,31.06 L634.04,30.86 L631.51,30.67 L628.97,30.49 L626.42,30.33 L623.85,30.17 L621.28,30.03 L618.69,29.9 L616.1,29.77 L613.5,29.67 L610.89,29.57 L608.27,29.48 L605.65,29.41 L603.02,29.34 L600.39,29.29 L597.76,29.25 L595.13,29.22 L592.49,29.21 L589.85,29.2 L587.21,29.21 L584.57,29.22 L581.94,29.25 L579.31,29.29 L576.68,29.34 L574.05,29.41 L571.43,29.48 L568.81,29.57 L566.2,29.67 L563.6,29.77 L561.01,29.9 L558.42,30.03 L555.85,30.17 L553.28,30.33 L550.73,30.49 L548.19,30.67 L545.66,30.86 L543.14,31.06 L540.64,31.27 L538.15,31.49 L535.68,31.73 L533.23,31.97 L530.79,32.23 L528.37,32.5 L525.97,32.78 L523.59,33.07 L521.23,33.37 L518.89,33.69 L516.57,34.01 L514.27,34.35 L512,34.69 L509.75,35.05 L507.53,35.42 L505.33,35.8 L503.15,36.19 L501.01,36.59 L498.89,37 L496.79,37.43 L494.73,37.86 L492.69,38.31 L490.69,38.76 L488.71,39.23 L486.77,39.71 L484.85,40.2 L482.97,40.69 L481.12,41.2 L479.31,41.72 L477.52,42.25 L475.78,42.8 L474.06,43.35 L472.38,43.91 L470.74,44.48 L469.14,45.06 L467.57,45.66 L466.04,46.26 L464.54,46.87 L463.08,47.5 L461.67,48.13 L460.29,48.78 L458.95,49.43 L457.65,50.09 L456.39,50.77 L455.17,51.45 L454,52.14 L452.86,52.85 L451.77,53.56 L450.72,54.28 L449.71,55.02 L448.74,55.76 L447.82,56.51 L446.93,57.27 L446.1,58.04 L445.3,58.82 L444.56,59.61 L443.85,60.4 L443.19,61.21 L442.57,62.03 L442,62.85 L441.48,63.68 L441,64.53 L440.56,65.38 L440.17,66.24 L439.83,67.11 L439.53,67.99 L439.28,68.87 L439.07,69.77 L438.91,70.67 L438.79,71.58 L438.72,72.5 L438.7,73.43 L438.72,74.36 L438.79,75.31 L438.91,76.26 L439.07,77.22 L439.28,78.19 L439.53,79.16 L439.83,80.14 L440.17,81.14 L440.56,82.13 L441,83.14 L441.48,84.15 L442,85.17 L442.57,86.2 L443.19,87.24 L443.85,88.28 L444.56,89.33 L445.3,90.38 L446.1,91.44 L446.93,92.51 L447.82,93.59 L448.74,94.67 L449.71,95.76 L450.72,96.86 L451.77,97.96 L452.86,99.07 L454,100.18 L455.17,101.3 L456.39,102.43 L457.65,103.56 L458.95,104.7 L460.29,105.84 L461.67,106.99 L463.08,108.15 L464.54,109.31 L466.04,110.48 L467.57,111.65 L469.14,112.82 L470.74,114.01 L472.38,115.19 L474.06,116.38 L475.78,117.58 L477.52,118.78 L479.31,119.99 L481.12,121.2 L482.97,122.41 L484.85,123.63 L486.77,124.86 L488.71,126.09 L490.69,127.32 L492.69,128.55 L494.73,129.8 L496.79,131.04 L498.89,132.29 L501.01,133.54 L503.15,134.79 L505.33,136.05 L507.53,137.31 L509.75,138.58 L512,139.85 L514.27,141.12 L516.57,142.39 L518.89,143.67 L521.23,144.95 L523.59,146.23 L525.97,147.52 L528.37,148.81 L530.79,150.1 L533.23,151.39 L535.68,152.68 L538.15,153.98 L540.64,155.28 L543.14,156.58 L545.66,157.88 L548.19,159.18 L550.73,160.49 L553.28,161.8 L555.85,163.11 L558.42,164.42 L561.01,165.73 L563.6,167.04 L566.2,168.35 L568.81,169.67 L571.43,170.98 L574.05,172.3 L576.68,173.61 L579.31,174.93 L581.94,176.25 L584.57,177.56 L587.21,178.88 L589.85,180.2 L592.49,181.52 L595.13,182.84 L597.76,184.15 L600.39,185.47 L603.02,186.79 L605.65,188.1 L608.27,189.42 L610.89,190.73 L613.5,192.05 L616.1,193.36 L618.69,194.67 L621.28,195.98 L623.85,197.29 L626.42,198.6 L628.97,199.91 L631.51,201.22 L634.04,202.52 L636.56,203.82 L639.06,205.12 L641.55,206.42 L644.02,207.72 L646.47,209.01 L648.91,210.3 L651.33,211.59 L653.73,212.88 L656.11,214.17 L658.47,215.45 L660.81,216.73 L663.13,218.01 L665.43,219.28 L667.7,220.55 L669.95,221.82 L672.17,223.09 L674.37,224.35 L676.55,225.61 L678.69,226.86 L680.81,228.11 L682.91,229.36 L684.97,230.6 L687.01,231.85 L689.01,233.08 L690.99,234.31 L692.93,235.54 L694.85,236.77 L696.73,237.99 L698.58,239.2 L700.39,240.41 L702.18,241.62 L703.92,242.82 L705.64,244.02 L707.32,245.21 L708.96,246.39 L710.56,247.58 L712.13,248.75 L713.66,249.92 L715.16,251.09 L716.62,252.25 L718.03,253.41 L719.41,254.56 L720.75,255.7 L722.05,256.84 L723.31,257.97 L724.53,259.1 L725.7,260.22 L726.84,261.33 L727.93,262.44 L728.98,263.54 L729.99,264.64 L730.96,265.73 L731.88,266.81 L732.77,267.89 L733.6,268.96 L734.4,270.02 L735.14,271.07 L735.85,272.12 L736.51,273.16 L737.13,274.2 L737.7,275.23 L738.22,276.25 L738.7,277.26 L739.14,278.27 L739.53,279.26 L739.87,280.26 L740.17,281.24 L740.42,282.21 L740.63,283.18 L740.79,284.14 L740.91,285.09 L740.98,286.04 L741,286.97 L740.98,287.9 L740.91,288.82 L740.79,289.73 L740.63,290.63 L740.42,291.53 L740.17,292.41 L739.87,293.29 L739.53,294.16 L739.14,295.02 L738.7,295.87 L738.22,296.72 L737.7,297.55 L737.13,298.37 L736.51,299.19 L735.85,300 L735.14,300.79 L734.4,301.58 L733.6,302.36 L732.77,303.13 L731.88,303.89 L730.96,304.64 L729.99,305.38 L728.98,306.12 L727.93,306.84 L726.84,307.55 L725.7,308.26 L724.53,308.95 L723.31,309.63 L722.05,310.31 L720.75,310.97 L719.41,311.62 L718.03,312.27 L716.62,312.9 L715.16,313.53 L713.66,314.14 L712.13,314.74 L710.56,315.34 L708.96,315.92 L707.32,316.49 L705.64,317.05 L703.92,317.6 L702.18,318.15 L700.39,318.68 L698.58,319.2 L696.73,319.71 L694.85,320.2 L692.93,320.69 L690.99,321.17 L689.01,321.64 L687.01,322.09 L684.97,322.54 L682.91,322.97 L680.81,323.4 L678.69,323.81 L676.55,324.21 L674.37,324.6 L672.17,324.98 L669.95,325.35 L667.7,325.71 L665.42,326.05 L663.13,326.39 L660.81,326.71 L658.47,327.03 L656.11,327.33 L653.73,327.62 L651.33,327.9 L648.91,328.17 L646.47,328.43 L644.02,328.67 L641.55,328.91 L639.06,329.13 L636.56,329.34 L634.04,329.54 L631.51,329.73 L628.97,329.91 L626.42,330.07 L623.85,330.23 L621.28,330.37 L618.69,330.5 L616.1,330.63 L613.5,330.73 L610.89,330.83 L608.27,330.92 L605.65,330.99 L603.02,331.06 L600.39,331.11 L597.76,331.15 L595.13,331.18 L592.49,331.19 L589.85,331.2 L587.21,331.19 L584.57,331.18 L581.94,331.15 L579.31,331.11 L576.68,331.06 L574.05,330.99 L571.43,330.92 L568.81,330.83 L566.2,330.73 L563.6,330.63 L561.01,330.5 L558.42,330.37 L555.85,330.23 L553.28,330.07 L550.73,329.91 L548.19,329.73 L545.66,329.54 L543.14,329.34 L540.64,329.13 L538.15,328.91 L535.68,328.67 L533.23,328.43 L530.79,328.17 L528.37,327.9 L525.97,327.62 L523.59,327.33 L521.23,327.03 L518.89,326.71 L516.57,326.39 L514.28,326.05 L512,325.71 L509.75,325.35 L507.53,324.98 L505.33,324.6 L503.15,324.21 L501.01,323.81 L498.89,323.4 L496.79,322.97 L494.73,322.54 L492.69,322.09 L490.69,321.64 L488.71,321.17 L486.77,320.69 L484.85,320.2 L482.97,319.71 L481.12,319.2 L479.31,318.68 L477.52,318.15 L475.78,317.6 L474.06,317.05 L472.38,316.49 L470.74,315.92 L469.14,315.34 L467.57,314.74 L466.04,314.14 L464.54,313.53 L463.08,312.9 L461.67,312.27 L460.29,311.62 L458.95,310.97 L457.65,310.31 L456.39,309.63 L455.17,308.95 L454,308.26 L452.86,307.55 L451.77,306.84 L450.72,306.12 L449.71,305.38 L448.74,304.64 L447.82,303.89 L446.93,303.13 L446.1,302.36 L445.3,301.58 L444.56,300.79 L443.85,300 L443.19,299.19 L442.57,298.37 L442,297.55 L441.48,296.72 L441,295.87 L440.56,295.02 L440.17,294.16 L439.83,293.29 L439.53,292.41 L439.28,291.53 L439.07,290.63 L438.91,289.73 L438.79,288.82 L438.72,287.9 L438.7,286.97 L438.72,286.04 L438.79,285.09 L438.91,284.14 L439.07,283.18 L439.28,282.21 L439.53,281.24 L439.83,280.26 L440.17,279.26 L440.56,278.27 L441,277.26 L441.48,276.25 L442,275.23 L442.57,274.2 L443.19,273.16 L443.85,272.12 L444.56,271.07 L445.3,270.02 L446.1,268.96 L446.93,267.89 L447.82,266.81 L448.74,265.73 L449.71,264.64 L450.72,263.54 L451.77,262.44 L452.86,261.33 L454,260.22 L455.17,259.1 L456.39,257.97 L457.65,256.84 L458.95,255.7 L460.29,254.56 L461.67,253.41 L463.08,252.25 L464.54,251.09 L466.04,249.92 L467.57,248.75 L469.14,247.58 L470.74,246.39 L472.38,245.21 L474.06,244.02 L475.78,242.82 L477.52,241.62 L479.31,240.41 L481.12,239.2 L482.97,237.99 L484.85,236.77 L486.77,235.54 L488.71,234.31 L490.69,233.08 L492.69,231.85 L494.73,230.6 L496.79,229.36 L498.89,228.11 L501.01,226.86 L503.15,225.61 L505.33,224.35 L507.53,223.09 L509.75,221.82 L512,220.55 L514.28,219.28 L516.57,218.01 L518.89,216.73 L521.23,215.45 L523.59,214.17 L525.97,212.88 L528.37,211.59 L530.79,210.3 L533.23,209.01 L535.68,207.72 L538.15,206.42 L540.64,205.12 L543.14,203.82 L545.66,202.52 L548.19,201.22 L550.73,199.91 L553.28,198.6 L555.85,197.29 L558.42,195.98 L561.01,194.67 L563.6,193.36 L566.2,192.05 L568.81,190.73 L571.43,189.42 L574.05,188.1 L576.68,186.79 L579.31,185.47 L581.94,184.15 L584.57,182.84 L587.21,181.52 L589.85,180.2" stroke="#c01e1e" stroke-width="1.2" fill="none" stroke-linejoin="round" stroke-dasharray="3 2" clip-path="url(#cb)"/>
<rect x="437.4" y="41.4" width="33.1" height="50.9" fill="none" stroke="#d04848" stroke-width="1.4"/>
<rect x="707.1" y="268.9" width="35.7" height="48.6" fill="none" stroke="#e07070" stroke-width="1.5"/>
<path d="M470.5,66.8 L536.2,66.8" stroke="#2897d1" stroke-width="3.2"/>
<path d="M545.5,66.8 L535.7,71.8 L535.7,61.8 Z" fill="#2897d1"/>
<path d="M707.1,294.7 L636.2,294.7" stroke="#2897d1" stroke-width="2.8"/>
<path d="M627.3,294.7 L636.7,289.7 L636.7,299.7 Z" fill="#2897d1"/>
<rect x="546.6" y="40.3" width="80.5" height="111.9" fill="#fff"/>
<path d="M551.6,40.3 V152.2 M623.8,40.3 V152.2 M546.6,77.3 H627.1 M546.6,150.8 H627.1" stroke="#8a8a8a" stroke-width="1.0" fill="none"/>
<path d="M752.21,12.7 L748.63,13.16 L745.06,13.64 L741.52,14.13 L738,14.63 L734.5,15.14 L731.02,15.67 L727.56,16.2 L724.13,16.74 L720.72,17.3 L717.33,17.87 L713.97,18.44 L710.63,19.03 L707.31,19.63 L704.02,20.24 L700.76,20.86 L697.52,21.49 L694.31,22.13 L691.12,22.78 L687.97,23.44 L684.84,24.11 L681.73,24.8 L678.66,25.49 L675.61,26.2 L672.59,26.91 L669.61,27.64 L666.65,28.38 L663.72,29.12 L660.82,29.88 L657.96,30.65 L655.12,31.43 L652.32,32.21 L649.54,33.01 L646.8,33.82 L644.1,34.64 L641.42,35.47 L638.78,36.31 L636.17,37.16 L633.6,38.02 L631.05,38.89 L628.55,39.77 L626.08,40.66 L623.64,41.57 L621.24,42.48 L618.87,43.4 L616.54,44.33 L614.25,45.27 L611.99,46.22 L609.77,47.18 L607.59,48.15 L605.45,49.13 L603.34,50.13 L601.27,51.13 L599.23,52.14 L597.24,53.16 L595.28,54.19 L593.37,55.23 L591.49,56.27 L589.65,57.33 L587.85,58.4 L586.09,59.48 L584.37,60.57 L582.69,61.66 L581.05,62.77 L579.46,63.89 L577.9,65.01 L576.38,66.15 L574.9,67.29 L573.47,68.44 L572.08,69.61 L570.73,70.78 L569.42,71.96 L568.15,73.15 L566.92,74.35 L565.74,75.56 L564.6,76.77 L563.5,78 L562.44,79.23 L561.43,80.48 L560.46,81.73 L559.53,82.99 L558.65,84.26 L557.81,85.54 L557.01,86.83 L556.26,88.13 L555.55,89.43 L554.88,90.75 L554.26,92.07 L553.68,93.4 L553.14,94.74 L552.65,96.09 L552.2,97.45 L551.8,98.81 L551.44,100.18 L551.13,101.57 L550.86,102.96 L550.63,104.35 L550.45,105.76 L550.31,107.17 L550.21,108.6 L550.16,110.03 L550.16,111.47 L550.2,112.91 L550.28,114.37 L550.41,115.83 L550.58,117.3 L550.8,118.77 L551.06,120.26 L551.36,121.75 L551.71,123.25 L552.1,124.76 L552.54,126.28 L553.02,127.8 L553.54,129.33 L554.11,130.87 L554.73,132.41 L555.38,133.97 L556.08,135.53 L556.83,137.09 L557.61,138.67 L558.44,140.25 L559.32,141.84 L560.23,143.43 L561.19,145.04 L562.2,146.65 L563.24,148.26 L564.33,149.89 L565.46,151.52 L566.63,153.15 L567.85,154.79 L569.11,156.44 L570.41,158.1 L571.75,159.76 L573.13,161.43 L574.56,163.11 L576.02,164.79 L577.53,166.48 L579.08,168.17 L580.66,169.87 L582.29,171.58 L583.96,173.29 L585.67,175.01 L587.42,176.74 L589.21,178.47 L591.04,180.21 L592.91,181.95 L594.82,183.7 L596.76,185.45 L598.75,187.21 L600.77,188.98 L602.83,190.75 L604.93,192.53 L607.07,194.31 L609.24,196.1 L611.46,197.89 L613.7,199.69 L615.99,201.49 L618.31,203.3 L620.67,205.11 L623.06,206.93 L625.49,208.76 L627.95,210.59 L630.45,212.42 L632.98,214.26 L635.55,216.1 L638.15,217.95 L640.78,219.8 L643.45,221.66 L646.15,223.52 L648.88,225.39 L651.64,227.26 L654.44,229.14 L657.27,231.02 L660.13,232.9 L663.02,234.79 L665.94,236.68 L668.89,238.58 L671.87,240.48 L674.88,242.38 L677.92,244.29 L680.99,246.2 L684.08,248.12 L687.21,250.04 L690.36,251.96 L693.54,253.89 L696.74,255.82 L699.98,257.76 L703.23,259.69 L706.52,261.64 L709.83,263.58 L713.16,265.53 L716.52,267.48 L719.9,269.43 L723.3,271.39 L726.73,273.35 L730.18,275.32 L733.66,277.28 L737.15,279.25 L740.67,281.23 L744.21,283.2" stroke="#111" stroke-width="1.5" fill="none" stroke-linejoin="round" clip-path="url(#ib1)"/>
<path d="M758.28,18.42 L754.83,18.88 L751.41,19.35 L748,19.84 L744.61,20.33 L741.24,20.83 L737.89,21.35 L734.57,21.87 L731.26,22.41 L727.98,22.95 L724.72,23.51 L721.49,24.08 L718.27,24.65 L715.08,25.24 L711.92,25.84 L708.78,26.45 L705.66,27.07 L702.57,27.7 L699.51,28.34 L696.47,29 L693.46,29.66 L690.47,30.33 L687.51,31.01 L684.58,31.71 L681.68,32.41 L678.8,33.13 L675.96,33.85 L673.14,34.59 L670.35,35.33 L667.59,36.09 L664.87,36.85 L662.17,37.63 L659.5,38.41 L656.86,39.21 L654.26,40.02 L651.68,40.83 L649.14,41.66 L646.63,42.5 L644.16,43.34 L641.71,44.2 L639.3,45.07 L636.92,45.94 L634.58,46.83 L632.27,47.73 L629.99,48.63 L627.75,49.55 L625.54,50.48 L623.37,51.41 L621.24,52.36 L619.14,53.31 L617.07,54.28 L615.04,55.25 L613.05,56.24 L611.09,57.23 L609.18,58.24 L607.29,59.25 L605.45,60.27 L603.64,61.3 L601.87,62.35 L600.14,63.4 L598.45,64.46 L596.8,65.53 L595.18,66.61 L593.6,67.7 L592.06,68.8 L590.57,69.9 L589.11,71.02 L587.69,72.14 L586.31,73.28 L584.97,74.42 L583.67,75.58 L582.4,76.74 L581.19,77.91 L580.01,79.09 L578.87,80.28 L577.77,81.48 L576.71,82.68 L575.7,83.9 L574.72,85.12 L573.79,86.36 L572.9,87.6 L572.05,88.85 L571.24,90.11 L570.47,91.37 L569.74,92.65 L569.06,93.93 L568.42,95.23 L567.82,96.53 L567.26,97.84 L566.75,99.16 L566.28,100.48 L565.84,101.82 L565.46,103.16 L565.11,104.51 L564.81,105.87 L564.55,107.24 L564.33,108.62 L564.15,110 L564.02,111.39 L563.93,112.79 L563.88,114.2 L563.88,115.61 L563.91,117.04 L563.99,118.47 L564.12,119.91 L564.28,121.35 L564.49,122.81 L564.74,124.27 L565.03,125.74 L565.37,127.21 L565.75,128.7 L566.17,130.19 L566.63,131.69 L567.13,133.2 L567.68,134.71 L568.27,136.23 L568.9,137.76 L569.58,139.29 L570.29,140.83 L571.05,142.38 L571.85,143.94 L572.69,145.5 L573.57,147.07 L574.49,148.65 L575.46,150.23 L576.46,151.82 L577.51,153.42 L578.6,155.02 L579.73,156.63 L580.9,158.25 L582.11,159.88 L583.36,161.51 L584.65,163.14 L585.98,164.78 L587.35,166.43 L588.76,168.09 L590.21,169.75 L591.7,171.42 L593.23,173.09 L594.8,174.77 L596.4,176.46 L598.05,178.15 L599.73,179.85 L601.45,181.55 L603.21,183.26 L605.01,184.97 L606.85,186.69 L608.72,188.42 L610.63,190.15 L612.57,191.89 L614.56,193.63 L616.58,195.38 L618.63,197.14 L620.73,198.89 L622.85,200.66 L625.02,202.43 L627.21,204.2 L629.45,205.98 L631.72,207.77 L634.02,209.56 L636.35,211.35 L638.72,213.15 L641.13,214.96 L643.56,216.77 L646.03,218.58 L648.53,220.4 L651.07,222.22 L653.63,224.05 L656.23,225.88 L658.86,227.72 L661.52,229.56 L664.21,231.41 L666.93,233.26 L669.68,235.11 L672.46,236.97 L675.27,238.83 L678.11,240.7 L680.98,242.57 L683.88,244.44 L686.8,246.32 L689.75,248.2 L692.73,250.09 L695.74,251.98 L698.77,253.87 L701.83,255.77 L704.91,257.67 L708.02,259.57 L711.16,261.48 L714.32,263.39 L717.5,265.3 L720.71,267.22 L723.94,269.14 L727.19,271.06 L730.47,272.99 L733.77,274.92 L737.09,276.85 L740.43,278.78 L743.79,280.72 L747.18,282.66 L750.58,284.61" stroke="#1414d6" stroke-width="1.3" fill="none" stroke-linejoin="round" clip-path="url(#ib1)"/>
<path d="M752.85,13.41 L749.28,13.88 L745.73,14.36 L742.2,14.84 L738.7,15.34 L735.21,15.86 L731.74,16.38 L728.3,16.91 L724.88,17.45 L721.48,18.01 L718.11,18.57 L714.76,19.15 L711.43,19.73 L708.13,20.33 L704.85,20.94 L701.6,21.56 L698.38,22.18 L695.18,22.82 L692.01,23.48 L688.86,24.14 L685.74,24.81 L682.65,25.49 L679.59,26.18 L676.56,26.89 L673.55,27.6 L670.57,28.32 L667.63,29.06 L664.71,29.8 L661.83,30.56 L658.97,31.33 L656.15,32.1 L653.35,32.89 L650.59,33.69 L647.86,34.5 L645.16,35.31 L642.5,36.14 L639.87,36.98 L637.27,37.83 L634.71,38.69 L632.18,39.56 L629.68,40.44 L627.22,41.32 L624.79,42.22 L622.4,43.13 L620.04,44.05 L617.72,44.98 L615.44,45.92 L613.19,46.87 L610.98,47.83 L608.81,48.8 L606.67,49.78 L604.57,50.77 L602.51,51.76 L600.48,52.77 L598.5,53.79 L596.55,54.82 L594.64,55.86 L592.77,56.9 L590.94,57.96 L589.15,59.03 L587.39,60.1 L585.68,61.19 L584.01,62.28 L582.38,63.39 L580.78,64.5 L579.23,65.62 L577.72,66.76 L576.25,67.9 L574.82,69.05 L573.43,70.21 L572.09,71.38 L570.78,72.56 L569.52,73.74 L568.3,74.94 L567.12,76.15 L565.98,77.36 L564.89,78.58 L563.84,79.82 L562.83,81.06 L561.86,82.31 L560.94,83.57 L560.06,84.84 L559.22,86.11 L558.43,87.4 L557.68,88.69 L556.97,90 L556.31,91.31 L555.68,92.63 L555.11,93.96 L554.57,95.29 L554.09,96.64 L553.64,97.99 L553.24,99.36 L552.88,100.73 L552.57,102.1 L552.3,103.49 L552.07,104.89 L551.89,106.29 L551.75,107.7 L551.66,109.12 L551.61,110.55 L551.6,111.98 L551.64,113.43 L551.72,114.88 L551.85,116.34 L552.02,117.8 L552.24,119.28 L552.5,120.76 L552.8,122.25 L553.15,123.75 L553.54,125.25 L553.97,126.77 L554.45,128.29 L554.98,129.81 L555.54,131.35 L556.15,132.89 L556.81,134.44 L557.5,136 L558.24,137.56 L559.03,139.13 L559.85,140.71 L560.72,142.3 L561.64,143.89 L562.59,145.49 L563.59,147.09 L564.63,148.71 L565.72,150.33 L566.84,151.95 L568.01,153.59 L569.22,155.23 L570.47,156.87 L571.77,158.53 L573.11,160.19 L574.48,161.85 L575.9,163.52 L577.36,165.2 L578.86,166.89 L580.4,168.58 L581.99,170.28 L583.61,171.98 L585.27,173.69 L586.98,175.41 L588.72,177.13 L590.5,178.86 L592.32,180.59 L594.18,182.33 L596.08,184.07 L598.02,185.82 L600,187.58 L602.01,189.34 L604.07,191.11 L606.16,192.88 L608.29,194.66 L610.45,196.45 L612.66,198.24 L614.89,200.03 L617.17,201.83 L619.48,203.64 L621.83,205.45 L624.21,207.26 L626.63,209.08 L629.08,210.91 L631.57,212.74 L634.09,214.57 L636.65,216.41 L639.24,218.26 L641.86,220.11 L644.52,221.96 L647.21,223.82 L649.93,225.68 L652.68,227.55 L655.47,229.42 L658.29,231.3 L661.13,233.18 L664.01,235.06 L666.92,236.95 L669.86,238.84 L672.83,240.74 L675.83,242.64 L678.85,244.54 L681.91,246.45 L684.99,248.37 L688.11,250.28 L691.24,252.2 L694.41,254.13 L697.6,256.05 L700.82,257.98 L704.07,259.92 L707.34,261.86 L710.63,263.8 L713.95,265.74 L717.3,267.69 L720.67,269.64 L724.06,271.59 L727.47,273.55 L730.91,275.51 L734.37,277.47 L737.85,279.44 L741.35,281.4 L744.88,283.38" stroke="#c42a2a" stroke-width="1.5" fill="none" stroke-linejoin="round" stroke-dasharray="2.4 2" clip-path="url(#ib1)"/>
<rect x="546.6" y="40.3" width="80.5" height="111.9" fill="none" stroke="#e42222" stroke-width="2.0"/>
<rect x="546.6" y="208.6" width="80.6" height="112.1" fill="#fff"/>
<path d="M552.7,208.6 V320.7 M623.8,208.6 V320.7 M546.6,212.2 H627.2 M546.6,283.5 H627.2" stroke="#8a8a8a" stroke-width="1.0" fill="none"/>
<path d="M468.53,103.39 L471.75,105.27 L474.95,107.14 L478.12,109.01 L481.27,110.87 L484.39,112.74 L487.49,114.6 L490.56,116.45 L493.6,118.31 L496.61,120.15 L499.6,122 L502.55,123.84 L505.48,125.68 L508.38,127.51 L511.25,129.34 L514.09,131.16 L516.9,132.99 L519.68,134.8 L522.43,136.62 L525.15,138.42 L527.84,140.23 L530.5,142.03 L533.12,143.83 L535.71,145.62 L538.27,147.4 L540.79,149.19 L543.29,150.96 L545.74,152.74 L548.17,154.5 L550.56,156.27 L552.91,158.03 L555.24,159.78 L557.52,161.53 L559.77,163.27 L561.99,165.01 L564.17,166.75 L566.31,168.47 L568.42,170.2 L570.49,171.92 L572.52,173.63 L574.51,175.34 L576.47,177.04 L578.39,178.73 L580.28,180.43 L582.12,182.11 L583.93,183.79 L585.69,185.47 L587.42,187.13 L589.11,188.8 L590.76,190.45 L592.38,192.1 L593.95,193.75 L595.48,195.39 L596.97,197.02 L598.42,198.65 L599.83,200.27 L601.2,201.88 L602.53,203.49 L603.82,205.1 L605.07,206.69 L606.28,208.28 L607.45,209.86 L608.57,211.44 L609.65,213.01 L610.69,214.57 L611.69,216.13 L612.65,217.68 L613.57,219.23 L614.44,220.76 L615.27,222.29 L616.06,223.82 L616.8,225.33 L617.51,226.84 L618.17,228.34 L618.78,229.84 L619.36,231.33 L619.89,232.81 L620.38,234.28 L620.83,235.75 L621.23,237.21 L621.59,238.66 L621.91,240.11 L622.18,241.55 L622.41,242.98 L622.6,244.4 L622.74,245.81 L622.84,247.22 L622.9,248.62 L622.91,250.01 L622.88,251.4 L622.81,252.77 L622.69,254.14 L622.53,255.51 L622.33,256.86 L622.08,258.2 L621.79,259.54 L621.46,260.87 L621.08,262.19 L620.66,263.51 L620.2,264.81 L619.7,266.11 L619.15,267.4 L618.56,268.68 L617.92,269.95 L617.25,271.22 L616.53,272.47 L615.77,273.72 L614.96,274.96 L614.12,276.19 L613.23,277.41 L612.3,278.63 L611.32,279.83 L610.31,281.03 L609.25,282.22 L608.15,283.4 L607.01,284.57 L605.83,285.73 L604.61,286.88 L603.35,288.02 L602.04,289.16 L600.7,290.29 L599.31,291.4 L597.88,292.51 L596.42,293.61 L594.91,294.7 L593.36,295.78 L591.78,296.86 L590.15,297.92 L588.49,298.97 L586.78,300.02 L585.04,301.05 L583.26,302.08 L581.44,303.1 L579.58,304.11 L577.68,305.11 L575.74,306.09 L573.77,307.07 L571.76,308.04 L569.72,309.01 L567.63,309.96 L565.51,310.9 L563.36,311.83 L561.16,312.75 L558.93,313.67 L556.67,314.57 L554.37,315.46 L552.04,316.35 L549.67,317.22 L547.27,318.09 L544.83,318.94 L542.36,319.79 L539.85,320.62 L537.31,321.45 L534.74,322.26 L532.14,323.07 L529.51,323.86 L526.84,324.65 L524.14,325.43 L521.41,326.19 L518.65,326.95 L515.86,327.69 L513.03,328.43 L510.18,329.16 L507.3,329.87 L504.39,330.58 L501.45,331.27 L498.48,331.96 L495.49,332.63 L492.46,333.3 L489.41,333.95 L486.33,334.59 L483.23,335.23 L480.1,335.85 L476.94,336.46 L473.76,337.07 L470.55,337.66 L467.32,338.24 L464.06,338.81 L460.78,339.38 L457.47,339.93 L454.15,340.47 L450.8,341 L447.42,341.52 L444.03,342.03 L440.61,342.52 L437.18,343.01 L433.72,343.49 L430.24,343.96 L426.75,344.41 L423.23,344.86 L419.69,345.3 L416.14,345.72 L412.57,346.13 L408.98,346.54 L405.37,346.93 L401.74,347.31 L398.1,347.68 L394.45,348.04 L390.78,348.4 L387.09,348.73" stroke="#111" stroke-width="1.3" fill="none" stroke-linejoin="round" clip-path="url(#ib2)"/>
<path d="M463.21,103.65 L466.35,105.53 L469.46,107.41 L472.55,109.29 L475.61,111.16 L478.65,113.02 L481.66,114.89 L484.65,116.75 L487.61,118.61 L490.55,120.46 L493.45,122.31 L496.33,124.15 L499.18,126 L502,127.83 L504.8,129.67 L507.56,131.5 L510.3,133.32 L513.01,135.15 L515.68,136.96 L518.33,138.78 L520.94,140.58 L523.53,142.39 L526.08,144.19 L528.61,145.99 L531.1,147.78 L533.55,149.56 L535.98,151.35 L538.37,153.12 L540.73,154.9 L543.06,156.66 L545.35,158.43 L547.61,160.19 L549.84,161.94 L552.03,163.69 L554.19,165.43 L556.31,167.17 L558.39,168.9 L560.44,170.63 L562.46,172.35 L564.44,174.07 L566.38,175.78 L568.29,177.49 L570.16,179.19 L571.99,180.88 L573.78,182.57 L575.54,184.26 L577.26,185.93 L578.95,187.61 L580.59,189.27 L582.2,190.94 L583.77,192.59 L585.3,194.24 L586.79,195.88 L588.24,197.52 L589.65,199.15 L591.03,200.78 L592.36,202.4 L593.66,204.01 L594.91,205.61 L596.13,207.21 L597.3,208.81 L598.44,210.39 L599.53,211.98 L600.58,213.55 L601.6,215.12 L602.57,216.68 L603.5,218.23 L604.39,219.78 L605.24,221.32 L606.05,222.85 L606.82,224.38 L607.54,225.9 L608.23,227.42 L608.87,228.92 L609.47,230.42 L610.03,231.91 L610.55,233.4 L611.03,234.88 L611.46,236.35 L611.85,237.81 L612.2,239.27 L612.51,240.71 L612.78,242.15 L613,243.59 L613.18,245.01 L613.32,246.43 L613.42,247.84 L613.48,249.25 L613.49,250.64 L613.46,252.03 L613.39,253.41 L613.28,254.79 L613.12,256.15 L612.92,257.51 L612.68,258.86 L612.4,260.2 L612.08,261.53 L611.71,262.85 L611.3,264.17 L610.85,265.48 L610.36,266.78 L609.83,268.07 L609.25,269.36 L608.64,270.63 L607.98,271.9 L607.28,273.16 L606.54,274.41 L605.75,275.65 L604.93,276.89 L604.06,278.11 L603.16,279.33 L602.21,280.54 L601.22,281.74 L600.19,282.93 L599.13,284.11 L598.02,285.28 L596.87,286.45 L595.68,287.6 L594.45,288.75 L593.18,289.89 L591.87,291.02 L590.52,292.14 L589.13,293.25 L587.7,294.35 L586.23,295.45 L584.73,296.53 L583.18,297.61 L581.6,298.67 L579.98,299.73 L578.32,300.78 L576.62,301.81 L574.89,302.84 L573.12,303.86 L571.31,304.87 L569.46,305.87 L567.58,306.87 L565.66,307.85 L563.7,308.82 L561.71,309.78 L559.68,310.74 L557.62,311.68 L555.52,312.62 L553.38,313.54 L551.21,314.46 L549.01,315.36 L546.77,316.26 L544.5,317.15 L542.19,318.02 L539.85,318.89 L537.48,319.75 L535.08,320.59 L532.64,321.43 L530.17,322.26 L527.67,323.08 L525.13,323.88 L522.57,324.68 L519.97,325.47 L517.34,326.25 L514.68,327.01 L512,327.77 L509.28,328.52 L506.53,329.26 L503.76,329.98 L500.95,330.7 L498.12,331.41 L495.26,332.11 L492.37,332.79 L489.45,333.47 L486.51,334.14 L483.54,334.79 L480.54,335.44 L477.52,336.07 L474.47,336.7 L471.4,337.31 L468.3,337.92 L465.18,338.51 L462.03,339.09 L458.86,339.67 L455.67,340.23 L452.45,340.78 L449.21,341.32 L445.95,341.86 L442.67,342.38 L439.36,342.89 L436.04,343.39 L432.69,343.88 L429.33,344.36 L425.94,344.82 L422.54,345.28 L419.11,345.73 L415.67,346.16 L412.21,346.59 L408.73,347.01 L405.24,347.41 L401.73,347.8 L398.2,348.19 L394.66,348.56 L391.1,348.92 L387.52,349.27 L383.93,349.61" stroke="#1414d6" stroke-width="1.3" fill="none" stroke-linejoin="round" clip-path="url(#ib2)"/>
<path d="M469.03,103.65 L472.26,105.53 L475.47,107.41 L478.65,109.29 L481.8,111.16 L484.93,113.02 L488.04,114.89 L491.11,116.75 L494.16,118.61 L497.18,120.46 L500.18,122.31 L503.14,124.15 L506.08,126 L508.98,127.83 L511.86,129.67 L514.71,131.5 L517.53,133.32 L520.31,135.15 L523.07,136.96 L525.8,138.78 L528.49,140.58 L531.15,142.39 L533.78,144.19 L536.38,145.99 L538.94,147.78 L541.48,149.56 L543.97,151.35 L546.44,153.12 L548.87,154.9 L551.27,156.66 L553.63,158.43 L555.95,160.19 L558.25,161.94 L560.5,163.69 L562.72,165.43 L564.91,167.17 L567.06,168.9 L569.17,170.63 L571.24,172.35 L573.28,174.07 L575.28,175.78 L577.25,177.49 L579.17,179.19 L581.06,180.88 L582.91,182.57 L584.72,184.26 L586.49,185.93 L588.22,187.61 L589.92,189.27 L591.57,190.94 L593.19,192.59 L594.76,194.24 L596.3,195.88 L597.79,197.52 L599.25,199.15 L600.66,200.78 L602.04,202.4 L603.37,204.01 L604.67,205.61 L605.92,207.21 L607.13,208.81 L608.3,210.39 L609.42,211.98 L610.51,213.55 L611.55,215.12 L612.55,216.68 L613.51,218.23 L614.43,219.78 L615.31,221.32 L616.14,222.85 L616.93,224.38 L617.68,225.9 L618.38,227.42 L619.04,228.92 L619.66,230.42 L620.24,231.91 L620.77,233.4 L621.26,234.88 L621.71,236.35 L622.11,237.81 L622.47,239.27 L622.79,240.71 L623.07,242.15 L623.3,243.59 L623.48,245.01 L623.63,246.43 L623.73,247.84 L623.79,249.25 L623.8,250.64 L623.77,252.03 L623.7,253.41 L623.58,254.79 L623.42,256.15 L623.22,257.51 L622.97,258.86 L622.68,260.2 L622.34,261.53 L621.97,262.85 L621.55,264.17 L621.08,265.48 L620.58,266.78 L620.03,268.07 L619.44,269.36 L618.8,270.63 L618.12,271.9 L617.4,273.16 L616.64,274.41 L615.83,275.65 L614.98,276.89 L614.09,278.11 L613.16,279.33 L612.18,280.54 L611.17,281.74 L610.11,282.93 L609.01,284.11 L607.86,285.28 L606.68,286.45 L605.45,287.6 L604.19,288.75 L602.88,289.89 L601.53,291.02 L600.14,292.14 L598.71,293.25 L597.24,294.35 L595.73,295.45 L594.18,296.53 L592.59,297.61 L590.96,298.67 L589.29,299.73 L587.58,300.78 L585.83,301.81 L584.05,302.84 L582.22,303.86 L580.36,304.87 L578.45,305.87 L576.52,306.87 L574.54,307.85 L572.52,308.82 L570.47,309.78 L568.38,310.74 L566.26,311.68 L564.09,312.62 L561.9,313.54 L559.66,314.46 L557.39,315.36 L555.09,316.26 L552.75,317.15 L550.37,318.02 L547.96,318.89 L545.52,319.75 L543.04,320.59 L540.53,321.43 L537.99,322.26 L535.41,323.08 L532.8,323.88 L530.16,324.68 L527.49,325.47 L524.78,326.25 L522.04,327.01 L519.28,327.77 L516.48,328.52 L513.65,329.26 L510.79,329.98 L507.9,330.7 L504.98,331.41 L502.03,332.11 L499.06,332.79 L496.06,333.47 L493.02,334.14 L489.97,334.79 L486.88,335.44 L483.77,336.07 L480.63,336.7 L477.46,337.31 L474.27,337.92 L471.06,338.51 L467.82,339.09 L464.55,339.67 L461.26,340.23 L457.95,340.78 L454.61,341.32 L451.25,341.86 L447.87,342.38 L444.47,342.89 L441.05,343.39 L437.6,343.88 L434.13,344.36 L430.65,344.82 L427.14,345.28 L423.62,345.73 L420.07,346.16 L416.51,346.59 L412.93,347.01 L409.33,347.41 L405.71,347.8 L402.08,348.19 L398.43,348.56 L394.76,348.92 L391.08,349.27 L387.39,349.61" stroke="#d02626" stroke-width="1.8" fill="none" stroke-linejoin="round" stroke-dasharray="3.6 2.6" clip-path="url(#ib2)"/>
<rect x="546.6" y="208.6" width="80.6" height="112.1" fill="none" stroke="#e42222" stroke-width="1.8"/>
<rect x="436.5" y="26.6" width="307.2" height="307.5" fill="none" stroke="#3a3a3a" stroke-width="1.3"/>
<path d="M438.5,334.1 v3.6 M438.5,26.6 v-3.6 M444.5,334.1 v2 M444.5,26.6 v-2 M450.5,334.1 v2 M450.5,26.6 v-2 M456.5,334.1 v2 M456.5,26.6 v-2 M462.5,334.1 v2 M462.5,26.6 v-2 M468.5,334.1 v3.6 M468.5,26.6 v-3.6 M474.5,334.1 v2 M474.5,26.6 v-2 M481.5,334.1 v2 M481.5,26.6 v-2 M487.5,334.1 v2 M487.5,26.6 v-2 M493.5,334.1 v2 M493.5,26.6 v-2 M499.5,334.1 v3.6 M499.5,26.6 v-3.6 M505.5,334.1 v2 M505.5,26.6 v-2 M511.5,334.1 v2 M511.5,26.6 v-2 M517.5,334.1 v2 M517.5,26.6 v-2 M523.5,334.1 v2 M523.5,26.6 v-2 M529.5,334.1 v3.6 M529.5,26.6 v-3.6 M535.5,334.1 v2 M535.5,26.6 v-2 M541.5,334.1 v2 M541.5,26.6 v-2 M547.5,334.1 v2 M547.5,26.6 v-2 M553.5,334.1 v2 M553.5,26.6 v-2 M559.5,334.1 v3.6 M559.5,26.6 v-3.6 M565.5,334.1 v2 M565.5,26.6 v-2 M571.5,334.1 v2 M571.5,26.6 v-2 M577.5,334.1 v2 M577.5,26.6 v-2 M583.5,334.1 v2 M583.5,26.6 v-2 M589.5,334.1 v3.6 M589.5,26.6 v-3.6 M595.5,334.1 v2 M595.5,26.6 v-2 M601.5,334.1 v2 M601.5,26.6 v-2 M607.5,334.1 v2 M607.5,26.6 v-2 M614.5,334.1 v2 M614.5,26.6 v-2 M620.5,334.1 v3.6 M620.5,26.6 v-3.6 M626.5,334.1 v2 M626.5,26.6 v-2 M632.5,334.1 v2 M632.5,26.6 v-2 M638.5,334.1 v2 M638.5,26.6 v-2 M644.5,334.1 v2 M644.5,26.6 v-2 M650.5,334.1 v3.6 M650.5,26.6 v-3.6 M656.5,334.1 v2 M656.5,26.6 v-2 M662.5,334.1 v2 M662.5,26.6 v-2 M668.5,334.1 v2 M668.5,26.6 v-2 M674.5,334.1 v2 M674.5,26.6 v-2 M680.5,334.1 v3.6 M680.5,26.6 v-3.6 M686.5,334.1 v2 M686.5,26.6 v-2 M692.5,334.1 v2 M692.5,26.6 v-2 M698.5,334.1 v2 M698.5,26.6 v-2 M704.5,334.1 v2 M704.5,26.6 v-2 M710.5,334.1 v3.6 M710.5,26.6 v-3.6 M716.5,334.1 v2 M716.5,26.6 v-2 M722.5,334.1 v2 M722.5,26.6 v-2 M728.5,334.1 v2 M728.5,26.6 v-2 M734.5,334.1 v2 M734.5,26.6 v-2 M741.5,334.1 v3.6 M741.5,26.6 v-3.6 M436.5,331.5 h-3.6 M743.7,331.5 h3.6 M436.5,325.5 h-2 M743.7,325.5 h2 M436.5,319.5 h-2 M743.7,319.5 h2 M436.5,313.5 h-2 M743.7,313.5 h2 M436.5,307.5 h-2 M743.7,307.5 h2 M436.5,301.5 h-3.6 M743.7,301.5 h3.6 M436.5,294.5 h-2 M743.7,294.5 h2 M436.5,288.5 h-2 M743.7,288.5 h2 M436.5,282.5 h-2 M743.7,282.5 h2 M436.5,276.5 h-2 M743.7,276.5 h2 M436.5,270.5 h-3.6 M743.7,270.5 h3.6 M436.5,264.5 h-2 M743.7,264.5 h2 M436.5,258.5 h-2 M743.7,258.5 h2 M436.5,252.5 h-2 M743.7,252.5 h2 M436.5,246.5 h-2 M743.7,246.5 h2 M436.5,240.5 h-3.6 M743.7,240.5 h3.6 M436.5,234.5 h-2 M743.7,234.5 h2 M436.5,228.5 h-2 M743.7,228.5 h2 M436.5,222.5 h-2 M743.7,222.5 h2 M436.5,216.5 h-2 M743.7,216.5 h2 M436.5,210.5 h-3.6 M743.7,210.5 h3.6 M436.5,204.5 h-2 M743.7,204.5 h2 M436.5,198.5 h-2 M743.7,198.5 h2 M436.5,192.5 h-2 M743.7,192.5 h2 M436.5,186.5 h-2 M743.7,186.5 h2 M436.5,180.5 h-3.6 M743.7,180.5 h3.6 M436.5,174.5 h-2 M743.7,174.5 h2 M436.5,168.5 h-2 M743.7,168.5 h2 M436.5,162.5 h-2 M743.7,162.5 h2 M436.5,156.5 h-2 M743.7,156.5 h2 M436.5,150.5 h-3.6 M743.7,150.5 h3.6 M436.5,143.5 h-2 M743.7,143.5 h2 M436.5,137.5 h-2 M743.7,137.5 h2 M436.5,131.5 h-2 M743.7,131.5 h2 M436.5,125.5 h-2 M743.7,125.5 h2 M436.5,119.5 h-3.6 M743.7,119.5 h3.6 M436.5,113.5 h-2 M743.7,113.5 h2 M436.5,107.5 h-2 M743.7,107.5 h2 M436.5,101.5 h-2 M743.7,101.5 h2 M436.5,95.5 h-2 M743.7,95.5 h2 M436.5,89.5 h-3.6 M743.7,89.5 h3.6 M436.5,83.5 h-2 M743.7,83.5 h2 M436.5,77.5 h-2 M743.7,77.5 h2 M436.5,71.5 h-2 M743.7,71.5 h2 M436.5,65.5 h-2 M743.7,65.5 h2 M436.5,59.5 h-3.6 M743.7,59.5 h3.6 M436.5,53.5 h-2 M743.7,53.5 h2 M436.5,47.5 h-2 M743.7,47.5 h2 M436.5,41.5 h-2 M743.7,41.5 h2 M436.5,35.5 h-2 M743.7,35.5 h2 M436.5,29.5 h-3.6 M743.7,29.5 h3.6" stroke="#3a3a3a" stroke-width="1.0" fill="none"/>
<text x="438.7" y="346.85" font-size="8.8" text-anchor="middle" fill="#222" stroke="#222" stroke-width="0.25">-2500</text>
<text x="468.93" y="346.85" font-size="8.8" text-anchor="middle" fill="#222" stroke="#222" stroke-width="0.25">-2000</text>
<text x="499.16" y="346.85" font-size="8.8" text-anchor="middle" fill="#222" stroke="#222" stroke-width="0.25">-1500</text>
<text x="529.39" y="346.85" font-size="8.8" text-anchor="middle" fill="#222" stroke="#222" stroke-width="0.25">-1000</text>
<text x="559.62" y="346.85" font-size="8.8" text-anchor="middle" fill="#222" stroke="#222" stroke-width="0.25">-500</text>
<text x="589.85" y="346.85" font-size="8.8" text-anchor="middle" fill="#222" stroke="#222" stroke-width="0.25">0</text>
<text x="620.08" y="346.85" font-size="8.8" text-anchor="middle" fill="#222" stroke="#222" stroke-width="0.25">500</text>
<text x="650.31" y="346.85" font-size="8.8" text-anchor="middle" fill="#222" stroke="#222" stroke-width="0.25">1000</text>
<text x="680.54" y="346.85" font-size="8.8" text-anchor="middle" fill="#222" stroke="#222" stroke-width="0.25">1500</text>
<text x="710.77" y="346.85" font-size="8.8" text-anchor="middle" fill="#222" stroke="#222" stroke-width="0.25">2000</text>
<text x="741" y="346.85" font-size="8.8" text-anchor="middle" fill="#222" stroke="#222" stroke-width="0.25">2500</text>
<text x="430" y="334.35" font-size="8.8" text-anchor="end" fill="#222" stroke="#222" stroke-width="0.25">-2500</text>
<text x="430" y="304.15" font-size="8.8" text-anchor="end" fill="#222" stroke="#222" stroke-width="0.25">-2000</text>
<text x="430" y="273.95" font-size="8.8" text-anchor="end" fill="#222" stroke="#222" stroke-width="0.25">-1500</text>
<text x="430" y="243.75" font-size="8.8" text-anchor="end" fill="#222" stroke="#222" stroke-width="0.25">-1000</text>
<text x="430" y="213.55" font-size="8.8" text-anchor="end" fill="#222" stroke="#222" stroke-width="0.25">-500</text>
<text x="430" y="183.35" font-size="8.8" text-anchor="end" fill="#222" stroke="#222" stroke-width="0.25">0</text>
<text x="430" y="153.15" font-size="8.8" text-anchor="end" fill="#222" stroke="#222" stroke-width="0.25">500</text>
<text x="430" y="122.95" font-size="8.8" text-anchor="end" fill="#222" stroke="#222" stroke-width="0.25">1000</text>
<text x="430" y="92.75" font-size="8.8" text-anchor="end" fill="#222" stroke="#222" stroke-width="0.25">1500</text>
<text x="430" y="62.55" font-size="8.8" text-anchor="end" fill="#222" stroke="#222" stroke-width="0.25">2000</text>
<text x="430" y="32.35" font-size="8.8" text-anchor="end" fill="#222" stroke="#222" stroke-width="0.25">2500</text>
<text x="593" y="360.6" font-size="15" text-anchor="middle" font-family="Liberation Serif, serif" fill="#111" stroke="#111" stroke-width="0.2">X (mm)</text>
<text x="409.5" y="185.2" font-size="15" text-anchor="middle" font-family="Liberation Serif, serif" fill="#111" stroke="#111" stroke-width="0.2" transform="rotate(-90 409.5 185.2)">Y (mm)</text>
<text x="593.7" y="378.9" font-size="18" text-anchor="middle" font-family="Liberation Serif, serif" font-weight="bold" fill="#111" stroke="#111" stroke-width="0.2">(b)</text>
<path d="M108.5,392.2 V539.8 M165.5,392.2 V539.8 M221.5,392.2 V539.8 M278.5,392.2 V539.8 M335.5,392.2 V539.8 M392.5,392.2 V539.8 M449.5,392.2 V539.8 M505.5,392.2 V539.8 M562.5,392.2 V539.8 M619.5,392.2 V539.8 M676.5,392.2 V539.8 M51.4,534.5 H733 M51.4,511.5 H733 M51.4,488.5 H733 M51.4,466.5 H733 M51.4,443.5 H733 M51.4,420.5 H733 M51.4,397.5 H733" stroke="#d4d4d4" stroke-width="1.0" fill="none"/>
<path d="M71.29,430.49 L72.42,428.68 L73.56,426.9 L74.7,425.17 L75.83,423.48 L76.97,421.83 L78.11,420.22 L79.25,418.66 L80.38,417.14 L81.52,415.68 L82.66,414.26 L83.8,412.89 L84.93,411.58 L86.07,410.32 L87.21,409.12 L88.34,407.97 L89.48,406.88 L90.62,405.85 L91.76,404.88 L92.89,403.96 L94.03,403.11 L95.17,402.33 L96.31,401.6 L97.44,400.94 L98.58,400.34 L99.72,399.81 L100.85,399.35 L101.99,398.95 L103.13,398.61 L104.27,398.35 L105.4,398.15 L106.54,398.01 L107.68,397.95 L108.82,397.95 L109.95,398.02 L111.09,398.16 L112.23,398.36 L113.36,398.63 L114.5,398.97 L115.64,399.37 L116.78,399.84 L117.91,400.38 L119.05,400.98 L120.19,401.64 L121.33,402.37 L122.46,403.16 L123.6,404.01 L124.74,404.93 L125.87,405.9 L127.01,406.94 L128.15,408.03 L129.29,409.18 L130.42,410.39 L131.56,411.65 L132.7,412.97 L133.84,414.34 L134.97,415.76 L136.11,417.23 L137.25,418.74 L138.38,420.31 L139.52,421.92 L140.66,423.57 L141.8,425.27 L142.93,427 L144.07,428.78 L145.21,430.59 L146.35,432.44 L147.48,434.31 L148.62,436.23 L149.76,438.17 L150.89,440.14 L152.03,442.13 L153.17,444.15 L154.31,446.19 L155.44,448.25 L156.58,450.32 L157.72,452.41 L158.86,454.52 L159.99,456.64 L161.13,458.76 L162.27,460.9 L163.4,463.04 L164.54,465.18 L165.68,467.32 L166.82,469.47 L167.95,471.6 L169.09,473.74 L170.23,475.86 L171.37,477.98 L172.5,480.08 L173.64,482.17 L174.78,484.25 L175.91,486.3 L177.05,488.34 L178.19,490.35 L179.33,492.35 L180.46,494.31 L181.6,496.25 L182.74,498.15 L183.88,500.03 L185.01,501.87 L186.15,503.68 L187.29,505.45 L188.42,507.18 L189.56,508.87 L190.7,510.51 L191.84,512.12 L192.97,513.67 L194.11,515.19 L195.25,516.65 L196.39,518.06 L197.52,519.42 L198.66,520.73 L199.8,521.98 L200.93,523.18 L202.07,524.33 L203.21,525.41 L204.35,526.44 L205.48,527.4 L206.62,528.31 L207.76,529.16 L208.9,529.94 L210.03,530.66 L211.17,531.31 L212.31,531.9 L213.44,532.43 L214.58,532.89 L215.72,533.28 L216.86,533.61 L217.99,533.87 L219.13,534.07 L220.27,534.2 L221.41,534.25 L222.54,534.25 L223.68,534.17 L224.82,534.03 L225.95,533.82 L227.09,533.54 L228.23,533.2 L229.37,532.79 L230.5,532.32 L231.64,531.78 L232.78,531.17 L233.92,530.5 L235.05,529.77 L236.19,528.97 L237.33,528.11 L238.46,527.19 L239.6,526.21 L240.74,525.17 L241.88,524.07 L243.01,522.92 L244.15,521.7 L245.29,520.44 L246.43,519.12 L247.56,517.74 L248.7,516.32 L249.84,514.85 L250.97,513.32 L252.11,511.76 L253.25,510.14 L254.39,508.48 L255.52,506.79 L256.66,505.05 L257.8,503.27 L258.94,501.45 L260.07,499.6 L261.21,497.72 L262.35,495.81 L263.48,493.87 L264.62,491.89 L265.76,489.9 L266.9,487.88 L268.03,485.84 L269.17,483.78 L270.31,481.7 L271.45,479.6 L272.58,477.5 L273.72,475.38 L274.86,473.25 L275.99,471.12 L277.13,468.98 L278.27,466.84 L279.41,464.69 L280.54,462.55 L281.68,460.41 L282.82,458.28 L283.96,456.16 L285.09,454.04 L286.23,451.94 L287.37,449.85 L288.51,447.78 L289.64,445.72 L290.78,443.69 L291.92,441.67 L293.05,439.69 L294.19,437.72 L295.33,435.79 L296.47,433.88 L297.6,432.01 L298.74,430.17 L299.88,428.37 L301.02,426.6 L302.15,424.88 L303.29,423.19 L304.43,421.55 L305.56,419.95 L306.7,418.39 L307.84,416.89 L308.98,415.43 L310.11,414.02 L311.25,412.66 L312.39,411.36 L313.53,410.11 L314.66,408.92 L315.8,407.78 L316.94,406.7 L318.07,405.68 L319.21,404.72 L320.35,403.81 L321.49,402.97 L322.62,402.2 L323.76,401.48 L324.9,400.83 L326.04,400.25 L327.17,399.73 L328.31,399.27 L329.45,398.88 L330.58,398.56 L331.72,398.31 L332.86,398.12 L334,398 L335.13,397.94 L336.27,397.96 L337.41,398.04 L338.55,398.19 L339.68,398.4 L340.82,398.68 L341.96,399.03 L343.09,399.45 L344.23,399.93 L345.37,400.47 L346.51,401.09 L347.64,401.76 L348.78,402.5 L349.92,403.3 L351.06,404.17 L352.19,405.09 L353.33,406.08 L354.47,407.12 L355.6,408.23 L356.74,409.39 L357.88,410.6 L359.02,411.87 L360.15,413.2 L361.29,414.58 L362.43,416 L363.57,417.48 L364.7,419.01 L365.84,420.58 L366.98,422.2 L368.11,423.86 L369.25,425.56 L370.39,427.3 L371.53,429.09 L372.66,430.9 L373.8,432.76 L374.94,434.64 L376.08,436.56 L377.21,438.5 L378.35,440.48 L379.49,442.47 L380.62,444.5 L381.76,446.54 L382.9,448.6 L384.04,450.68 L385.17,452.78 L386.31,454.88 L387.45,457 L388.59,459.13 L389.72,461.27 L390.86,463.41 L392,465.55 L393.13,467.69 L394.27,469.83 L395.41,471.97 L396.55,474.1 L397.68,476.23 L398.82,478.34 L399.96,480.44 L401.1,482.53 L402.23,484.6 L403.37,486.65 L404.51,488.69 L405.64,490.7 L406.78,492.68 L407.92,494.64 L409.06,496.58 L410.19,498.48 L411.33,500.35 L412.47,502.18 L413.61,503.98 L414.74,505.75 L415.88,507.47 L417.02,509.15 L418.15,510.79 L419.29,512.39 L420.43,513.94 L421.57,515.44 L422.7,516.89 L423.84,518.3 L424.98,519.65 L426.12,520.95 L427.25,522.19 L428.39,523.38 L429.53,524.52 L430.66,525.59 L431.8,526.61 L432.94,527.56 L434.08,528.46 L435.21,529.29 L436.35,530.07 L437.49,530.77 L438.63,531.42 L439.76,532 L440.9,532.51 L442.04,532.96 L443.17,533.35 L444.31,533.66 L445.45,533.91 L446.59,534.09 L447.72,534.21 L448.86,534.26 L450,534.24 L451.14,534.15 L452.27,534 L453.41,533.78 L454.55,533.49 L455.68,533.14 L456.82,532.71 L457.96,532.23 L459.1,531.68 L460.23,531.06 L461.37,530.38 L462.51,529.63 L463.65,528.83 L464.78,527.96 L465.92,527.03 L467.06,526.04 L468.19,524.99 L469.33,523.88 L470.47,522.71 L471.61,521.49 L472.74,520.21 L473.88,518.88 L475.02,517.5 L476.16,516.07 L477.29,514.59 L478.43,513.06 L479.57,511.48 L480.7,509.86 L481.84,508.2 L482.98,506.49 L484.12,504.74 L485.25,502.96 L486.39,501.14 L487.53,499.28 L488.67,497.4 L489.8,495.48 L490.94,493.53 L492.08,491.55 L493.21,489.55 L494.35,487.53 L495.49,485.48 L496.63,483.42 L497.76,481.34 L498.9,479.24 L500.04,477.13 L501.18,475.01 L502.31,472.89 L503.45,470.75 L504.59,468.61 L505.72,466.47 L506.86,464.32 L508,462.18 L509.14,460.05 L510.27,457.92 L511.41,455.79 L512.55,453.68 L513.69,451.58 L514.82,449.49 L515.96,447.42 L517.1,445.37 L518.23,443.34 L519.37,441.33 L520.51,439.35 L521.65,437.39 L522.78,435.46 L523.92,433.56 L525.06,431.69 L526.2,429.86 L527.33,428.06 L528.47,426.3 L529.61,424.58 L530.74,422.91 L531.88,421.27 L533.02,419.68 L534.16,418.13 L535.29,416.63 L536.43,415.18 L537.57,413.78 L538.71,412.44 L539.84,411.14 L540.98,409.9 L542.12,408.72 L543.25,407.59 L544.39,406.52 L545.53,405.51 L546.67,404.56 L547.8,403.67 L548.94,402.84 L550.08,402.07 L551.22,401.37 L552.35,400.73 L553.49,400.15 L554.63,399.65 L555.76,399.2 L556.9,398.82 L558.04,398.51 L559.18,398.27 L560.31,398.09 L561.45,397.98 L562.59,397.94 L563.73,397.97 L564.86,398.06 L566,398.22 L567.14,398.44 L568.27,398.74 L569.41,399.1 L570.55,399.52 L571.69,400.02 L572.82,400.57 L573.96,401.2 L575.1,401.88 L576.24,402.63 L577.37,403.45 L578.51,404.32 L579.65,405.26 L580.78,406.25 L581.92,407.31 L583.06,408.42 L584.2,409.59 L585.33,410.82 L586.47,412.1 L587.61,413.43 L588.75,414.82 L589.88,416.26 L591.02,417.74 L592.16,419.28 L593.3,420.86 L594.43,422.48 L595.57,424.15 L596.71,425.86 L597.84,427.61 L598.98,429.39 L600.12,431.22 L601.26,433.08 L602.39,434.97 L603.53,436.89 L604.67,438.84 L605.81,440.82 L606.94,442.82 L608.08,444.85 L609.22,446.89 L610.35,448.96 L611.49,451.04 L612.63,453.14 L613.77,455.25 L614.9,457.37 L616.04,459.5 L617.18,461.63 L618.32,463.77 L619.45,465.92 L620.59,468.06 L621.73,470.2 L622.86,472.34 L624,474.47 L625.14,476.59 L626.28,478.7 L627.41,480.8 L628.55,482.89 L629.69,484.96 L630.83,487.01 L631.96,489.03 L633.1,491.04 L634.24,493.02 L635.37,494.98 L636.51,496.9 L637.65,498.8 L638.79,500.66 L639.92,502.49 L641.06,504.29 L642.2,506.04 L643.34,507.76 L644.47,509.44 L645.61,511.07 L646.75,512.66 L647.88,514.2 L649.02,515.69 L650.16,517.14 L651.3,518.53 L652.43,519.88 L653.57,521.17 L654.71,522.4 L655.85,523.58 L656.98,524.71 L658.12,525.77 L659.26,526.78 L660.39,527.72 L661.53,528.61 L662.67,529.43 L663.81,530.19 L664.94,530.89 L666.08,531.52 L667.22,532.09 L668.36,532.6 L669.49,533.03 L670.63,533.4 L671.77,533.71 L672.9,533.95 L674.04,534.12 L675.18,534.22 L676.32,534.26 L677.45,534.23 L678.59,534.13 L679.73,533.97 L680.87,533.73 L682,533.43 L683.14,533.07 L684.28,532.64 L685.41,532.14 L686.55,531.57 L687.69,530.95 L688.83,530.25 L689.96,529.5 L691.1,528.68 L692.24,527.8 L693.38,526.86 L694.51,525.86 L695.65,524.8 L696.79,523.68 L697.92,522.51 L699.06,521.28 L700.2,519.99 L701.34,518.65 L702.47,517.26 L703.61,515.82 L704.75,514.33 L705.89,512.79 L707.02,511.21 L708.16,509.58 L709.3,507.91 L710.43,506.19 L711.57,504.44 L712.71,502.65 L713.85,500.82 L714.98,498.96 L716.12,497.07 L717.26,495.14 L718.4,493.19 L719.53,491.21 L720.67,489.21 L721.81,487.18 L722.94,485.13 L724.08,483.06 L725.22,480.98 L726.36,478.88 L727.49,476.77 L728.63,474.65 L729.77,472.52 L730.91,470.38 L732.04,468.24 L733.18,466.1" stroke="#111" stroke-width="1.0" fill="none" stroke-linejoin="round" clip-path="url(#cc)"/>
<path d="M73.67,434.59 L74.81,432.35 L75.95,430.17 L77.08,428.03 L78.22,425.95 L79.36,423.93 L80.49,421.96 L81.63,420.05 L82.77,418.21 L83.91,416.44 L85.04,414.73 L86.18,413.1 L87.32,411.54 L88.45,410.05 L89.59,408.64 L90.73,407.32 L91.86,406.07 L93,404.91 L94.14,403.83 L95.28,402.84 L96.41,401.94 L97.55,401.19 L98.69,400.55 L99.82,399.99 L100.96,399.49 L102.1,399.06 L103.24,398.69 L104.37,398.4 L105.51,398.18 L106.65,398.03 L107.78,397.95 L108.92,397.95 L110.06,398.01 L111.2,398.14 L112.33,398.34 L113.47,398.62 L114.61,398.96 L115.74,399.37 L116.88,399.86 L118.02,400.41 L119.15,401.03 L120.29,401.72 L121.43,402.47 L122.57,403.29 L123.7,404.18 L124.84,405.12 L125.98,406.14 L127.11,407.21 L128.25,408.35 L129.39,409.55 L130.53,410.8 L131.66,412.11 L132.8,413.48 L133.94,414.91 L135.07,416.38 L136.21,417.91 L137.35,419.49 L138.49,421.11 L139.62,422.79 L140.76,424.51 L141.9,426.27 L143.03,428.06 L144.17,429.88 L145.31,431.74 L146.44,433.63 L147.58,435.56 L148.72,437.52 L149.86,439.51 L150.99,441.52 L152.13,443.56 L153.27,445.62 L154.4,447.7 L155.54,449.81 L156.68,451.92 L157.82,454.06 L158.95,456.2 L160.09,458.36 L161.23,460.52 L162.36,462.69 L163.5,464.86 L164.64,467.03 L165.78,469.21 L166.91,471.38 L168.05,473.54 L169.19,475.7 L170.32,477.84 L171.46,479.98 L172.6,482.1 L173.73,484.2 L174.87,486.29 L176.01,488.35 L177.15,490.39 L178.28,492.41 L179.42,494.4 L180.56,496.37 L181.69,498.3 L182.83,500.2 L183.97,502.06 L185.11,503.89 L186.24,505.68 L187.38,507.43 L188.52,509.13 L189.65,510.8 L190.79,512.42 L191.93,513.99 L193.07,515.51 L194.2,516.98 L195.34,518.4 L196.48,519.77 L197.61,521.08 L198.75,522.34 L199.89,523.53 L201.02,524.68 L202.16,525.76 L203.3,526.78 L204.44,527.74 L205.57,528.63 L206.71,529.47 L207.85,530.23 L208.98,530.94 L210.12,531.57 L211.26,532.15 L212.4,532.65 L213.53,533.08 L214.67,533.45 L215.81,533.75 L216.94,533.98 L218.08,534.14 L219.22,534.24 L220.36,534.26 L221.49,534.21 L222.63,534.1 L223.77,533.9 L224.9,533.64 L226.04,533.31 L227.18,532.9 L228.31,532.43 L229.45,531.88 L230.59,531.27 L231.73,530.58 L232.86,529.83 L234,529.01 L235.14,528.12 L236.27,527.17 L237.41,526.15 L238.55,525.07 L239.69,523.92 L240.82,522.72 L241.96,521.45 L243.1,520.13 L244.23,518.74 L245.37,517.31 L246.51,515.82 L247.65,514.27 L248.78,512.68 L249.92,511.03 L251.06,509.34 L252.19,507.6 L253.33,505.82 L254.47,503.99 L255.6,502.13 L256.74,500.23 L257.88,498.29 L259.02,496.32 L260.15,494.31 L261.29,492.28 L262.43,490.21 L263.56,488.12 L264.7,486.01 L265.84,483.88 L266.98,481.73 L268.11,479.56 L269.25,477.38 L270.39,475.18 L271.52,472.98 L272.66,470.77 L273.8,468.55 L274.94,466.33 L276.07,464.11 L277.21,461.9 L278.35,459.69 L279.48,457.48 L280.62,455.28 L281.76,453.1 L282.89,450.93 L284.03,448.77 L285.17,446.63 L286.31,444.52 L287.44,442.43 L288.58,440.36 L289.72,438.32 L290.85,436.3 L291.99,434.32 L293.13,432.38 L294.27,430.47 L295.4,428.6 L296.54,426.76 L297.68,424.97 L298.81,423.22 L299.95,421.52 L301.09,419.87 L302.23,418.29 L303.36,416.78 L304.5,415.32 L305.64,413.9 L306.77,412.54 L307.91,411.24 L309.05,409.98 L310.18,408.79 L311.32,407.65 L312.46,406.57 L313.6,405.55 L314.73,404.59 L315.87,403.69 L317.01,402.85 L318.14,402.08 L319.28,401.37 L320.42,400.73 L321.56,400.15 L322.69,399.64 L323.83,399.19 L324.97,398.82 L326.1,398.51 L327.24,398.26 L328.38,398.09 L329.52,397.98 L330.65,397.94 L331.79,397.97 L332.93,398.07 L334.06,398.23 L335.2,398.47 L336.34,398.78 L337.47,399.18 L338.61,399.65 L339.75,400.2 L340.89,400.82 L342.02,401.51 L343.16,402.28 L344.3,403.11 L345.43,404.02 L346.57,405 L347.71,406.05 L348.85,407.16 L349.98,408.34 L351.12,409.59 L352.26,410.9 L353.39,412.27 L354.53,413.7 L355.67,415.19 L356.81,416.74 L357.94,418.35 L359.08,420 L360.22,421.71 L361.35,423.47 L362.49,425.28 L363.63,427.13 L364.76,429.03 L365.9,430.97 L367.04,432.94 L368.18,434.96 L369.31,437.01 L370.45,439.13 L371.59,441.29 L372.72,443.48 L373.86,445.7 L375,447.94 L376.14,450.2 L377.27,452.48 L378.41,454.77 L379.55,457.08 L380.68,459.4 L381.82,461.73 L382.96,464.06 L384.1,466.4 L385.23,468.73 L386.37,471.06 L387.51,473.39 L388.64,475.71 L389.78,478.01 L390.92,480.31 L392.05,482.58 L393.19,484.77 L394.33,486.93 L395.47,489.06 L396.6,491.16 L397.74,493.24 L398.88,495.29 L400.01,497.31 L401.15,499.29 L402.29,501.24 L403.43,503.14 L404.56,505.01 L405.7,506.84 L406.84,508.62 L407.97,510.35 L409.11,512.04 L410.25,513.68 L411.39,515.26 L412.52,516.79 L413.66,518.27 L414.8,519.69 L415.93,521.05 L417.07,522.35 L418.21,523.59 L419.34,524.77 L420.48,525.88 L421.62,526.93 L422.76,527.91 L423.89,528.83 L425.03,529.67 L426.17,530.45 L427.3,531.16 L428.44,531.79 L429.58,532.36 L430.72,532.85 L431.85,533.27 L432.99,533.61 L434.13,533.89 L435.26,534.08 L436.4,534.21 L437.54,534.26 L438.68,534.24 L439.81,534.15 L440.95,533.99 L442.09,533.76 L443.22,533.47 L444.36,533.1 L445.5,532.67 L446.63,532.18 L447.77,531.61 L448.91,530.98 L450.05,530.29 L451.18,529.53 L452.32,528.71 L453.46,527.82 L454.59,526.88 L455.73,525.87 L456.87,524.8 L458.01,523.67 L459.14,522.48 L460.28,521.24 L461.42,519.95 L462.55,518.59 L463.69,517.19 L464.83,515.73 L465.97,514.23 L467.1,512.67 L468.24,511.07 L469.38,509.43 L470.51,507.74 L471.65,506.01 L472.79,504.24 L473.92,502.43 L475.06,500.58 L476.2,498.7 L477.34,496.79 L478.47,494.84 L479.61,492.87 L480.75,490.87 L481.88,488.84 L483.02,486.79 L484.16,484.73 L485.3,482.64 L486.43,480.53 L487.57,478.42 L488.71,476.29 L489.84,474.14 L490.98,472 L492.12,469.84 L493.26,467.68 L494.39,465.52 L495.53,463.36 L496.67,461.2 L497.8,459.05 L498.94,456.91 L500.08,454.77 L501.21,452.65 L502.35,450.53 L503.49,448.44 L504.63,446.36 L505.76,444.3 L506.9,442.23 L508.04,440.17 L509.17,438.13 L510.31,436.13 L511.45,434.16 L512.59,432.22 L513.72,430.32 L514.86,428.46 L516,426.63 L517.13,424.85 L518.27,423.11 L519.41,421.42 L520.55,419.77 L521.68,418.17 L522.82,416.63 L523.96,415.13 L525.09,413.69 L526.23,412.3 L527.37,410.97 L528.5,409.7 L529.64,408.49 L530.78,407.34 L531.92,406.25 L533.05,405.22 L534.19,404.26 L535.33,403.36 L536.46,402.53 L537.6,401.76 L538.74,401.07 L539.88,400.44 L541.01,399.88 L542.15,399.39 L543.29,398.97 L544.42,398.62 L545.56,398.35 L546.7,398.14 L547.84,398.01 L548.97,397.94 L550.11,397.95 L551.25,398.04 L552.38,398.19 L553.52,398.41 L554.66,398.7 L555.79,399.06 L556.93,399.49 L558.07,399.99 L559.21,400.56 L560.34,401.2 L561.48,401.9 L562.62,402.67 L563.75,403.51 L564.89,404.41 L566.03,405.38 L567.17,406.4 L568.3,407.49 L569.44,408.65 L570.58,409.86 L571.71,411.12 L572.85,412.45 L573.99,413.83 L575.13,415.26 L576.26,416.75 L577.4,418.29 L578.54,419.88 L579.67,421.52 L580.81,423.2 L581.95,424.93 L583.08,426.7 L584.22,428.51 L585.36,430.36 L586.5,432.24 L587.63,434.16 L588.77,436.12 L589.91,438.1 L591.04,440.12 L592.18,442.16 L593.32,444.23 L594.46,446.32 L595.59,448.43 L596.73,450.55 L597.87,452.7 L599,454.86 L600.14,457.03 L601.28,459.2 L602.42,461.39 L603.55,463.58 L604.69,465.77 L605.83,467.97 L606.96,470.16 L608.1,472.35 L609.24,474.6 L610.37,476.84 L611.51,479.07 L612.65,481.29 L613.79,483.49 L614.92,485.67 L616.06,487.83 L617.2,489.97 L618.33,492.08 L619.47,494.16 L620.61,496.21 L621.75,498.22 L622.88,500.21 L624.02,502.15 L625.16,504.05 L626.29,505.91 L627.43,507.73 L628.57,509.5 L629.71,511.23 L630.84,512.9 L631.98,514.52 L633.12,516.09 L634.25,517.6 L635.39,519.06 L636.53,520.45 L637.66,521.79 L638.8,523.07 L639.94,524.28 L641.08,525.43 L642.21,526.51 L643.35,527.53 L644.49,528.48 L645.62,529.36 L646.76,530.16 L647.9,530.9 L649.04,531.57 L650.17,532.16 L651.31,532.68 L652.45,533.13 L653.58,533.51 L654.72,533.8 L655.86,534.03 L657,534.18 L658.13,534.25 L659.27,534.25 L660.41,534.17 L661.54,534.02 L662.68,533.8 L663.82,533.5 L664.95,533.12 L666.09,532.67 L667.23,532.15 L668.37,531.56 L669.5,530.89 L670.64,530.16 L671.78,529.35 L672.91,528.47 L674.05,527.53 L675.19,526.51 L676.33,525.43 L677.46,524.29 L678.6,523.08 L679.74,521.81 L680.87,520.48 L682.01,519.09 L683.15,517.64 L684.29,516.13 L685.42,514.57 L686.56,512.96 L687.7,511.29 L688.83,509.57 L689.97,507.81 L691.11,506 L692.24,504.15 L693.38,502.25 L694.52,500.32 L695.66,498.35 L696.79,496.34 L697.93,494.3 L699.07,492.23 L700.2,490.13 L701.34,488.02 L702.48,485.87 L703.62,483.71 L704.75,481.53 L705.89,479.33 L707.03,477.11 L708.16,474.89 L709.3,472.65 L710.44,470.41 L711.58,468.16 L712.71,465.91 L713.85,463.66 L714.99,461.42 L716.12,459.18 L717.26,456.94 L718.4,454.72 L719.53,452.51 L720.67,450.31 L721.81,448.13 L722.95,445.97 L724.08,443.83 L725.22,441.72 L726.36,439.63 L727.49,437.57 L728.63,435.54 L729.77,433.55 L730.91,431.59 L732.04,429.67 L733.18,427.79" stroke="#3232e2" stroke-width="1.4" fill="none" stroke-linejoin="round" clip-path="url(#cc)"/>
<path d="M51.4,466.1 L51.91,465.14 L52.42,464.18 L52.93,463.22 L53.44,462.26 L53.95,461.3 L54.46,460.34 L54.97,459.39 L55.48,458.43 L55.99,457.48 L56.5,456.52 L57.01,455.57 L57.52,454.62 L58.03,453.68 L58.54,452.74 L59.05,451.79 L59.56,450.86 L60.07,449.92 L60.58,448.99 L61.09,448.06 L61.6,447.14 L62.11,446.22 L62.62,445.3 L63.13,444.39 L63.64,443.48 L64.15,442.57 L64.66,441.67 L65.17,440.78 L65.68,439.89 L66.19,439.01 L66.7,438.13 L67.21,437.25 L67.72,436.39 L68.23,435.52 L68.74,434.67 L69.25,433.82 L69.76,432.98 L70.27,432.14 L70.78,431.31 L71.29,430.49" stroke="#e02424" stroke-width="1.4" fill="none" stroke-linejoin="round" stroke-dasharray="2.6 1.8" clip-path="url(#cc)"/>
<path d="M71.29,430.49 L72.42,428.68 L73.56,426.9 L74.7,425.17 L75.83,423.48 L76.97,421.83 L78.11,420.22 L79.25,418.66 L80.38,417.14 L81.52,415.68 L82.66,414.26 L83.8,412.89 L84.93,411.58 L86.07,410.32 L87.21,409.12 L88.34,407.97 L89.48,406.88 L90.62,405.85 L91.76,404.88 L92.89,403.96 L94.03,403.11 L95.17,402.33 L96.31,401.6 L97.44,400.94 L98.58,400.34 L99.72,399.81 L100.85,399.35 L101.99,398.95 L103.13,398.61 L104.27,398.35 L105.4,398.15 L106.54,398.01 L107.68,397.95 L108.82,397.95 L109.95,398.02 L111.09,398.16 L112.23,398.36 L113.36,398.63 L114.5,398.97 L115.64,399.37 L116.78,399.84 L117.91,400.38 L119.05,400.98 L120.19,401.64 L121.33,402.37 L122.46,403.16 L123.6,404.01 L124.74,404.93 L125.87,405.9 L127.01,406.94 L128.15,408.03 L129.29,409.18 L130.42,410.39 L131.56,411.65 L132.7,412.97 L133.84,414.34 L134.97,415.76 L136.11,417.23 L137.25,418.74 L138.38,420.31 L139.52,421.92 L140.66,423.57 L141.8,425.27 L142.93,427 L144.07,428.78 L145.21,430.59 L146.35,432.44 L147.48,434.31 L148.62,436.23 L149.76,438.17 L150.89,440.14 L152.03,442.13 L153.17,444.15 L154.31,446.19 L155.44,448.25 L156.58,450.32 L157.72,452.41 L158.86,454.52 L159.99,456.64 L161.13,458.76 L162.27,460.9 L163.4,463.04 L164.54,465.18 L165.68,467.32 L166.82,469.47 L167.95,471.6 L169.09,473.74 L170.23,475.86 L171.37,477.98 L172.5,480.08 L173.64,482.17 L174.78,484.25 L175.91,486.3 L177.05,488.34 L178.19,490.35 L179.33,492.35 L180.46,494.31 L181.6,496.25 L182.74,498.15 L183.88,500.03 L185.01,501.87 L186.15,503.68 L187.29,505.45 L188.42,507.18 L189.56,508.87 L190.7,510.51 L191.84,512.12 L192.97,513.67 L194.11,515.19 L195.25,516.65 L196.39,518.06 L197.52,519.42 L198.66,520.73 L199.8,521.98 L200.93,523.18 L202.07,524.33 L203.21,525.41 L204.35,526.44 L205.48,527.4 L206.62,528.31 L207.76,529.16 L208.9,529.94 L210.03,530.66 L211.17,531.31 L212.31,531.9 L213.44,532.43 L214.58,532.89 L215.72,533.28 L216.86,533.61 L217.99,533.87 L219.13,534.07 L220.27,534.2 L221.41,534.25 L222.54,534.25 L223.68,534.17 L224.82,534.03 L225.95,533.82 L227.09,533.54 L228.23,533.2 L229.37,532.79 L230.5,532.32 L231.64,531.78 L232.78,531.17 L233.92,530.5 L235.05,529.77 L236.19,528.97 L237.33,528.11 L238.46,527.19 L239.6,526.21 L240.74,525.17 L241.88,524.07 L243.01,522.92 L244.15,521.7 L245.29,520.44 L246.43,519.12 L247.56,517.74 L248.7,516.32 L249.84,514.85 L250.97,513.32 L252.11,511.76 L253.25,510.14 L254.39,508.48 L255.52,506.79 L256.66,505.05 L257.8,503.27 L258.94,501.45 L260.07,499.6 L261.21,497.72 L262.35,495.81 L263.48,493.87 L264.62,491.89 L265.76,489.9 L266.9,487.88 L268.03,485.84 L269.17,483.78 L270.31,481.7 L271.45,479.6 L272.58,477.5 L273.72,475.38 L274.86,473.25 L275.99,471.12 L277.13,468.98 L278.27,466.84 L279.41,464.69 L280.54,462.55 L281.68,460.41 L282.82,458.28 L283.96,456.16 L285.09,454.04 L286.23,451.94 L287.37,449.85 L288.51,447.78 L289.64,445.72 L290.78,443.69 L291.92,441.67 L293.05,439.69 L294.19,437.72 L295.33,435.79 L296.47,433.88 L297.6,432.01 L298.74,430.17 L299.88,428.37 L301.02,426.6 L302.15,424.88 L303.29,423.19 L304.43,421.55 L305.56,419.95 L306.7,418.39 L307.84,416.89 L308.98,415.43 L310.11,414.02 L311.25,412.66 L312.39,411.36 L313.53,410.11 L314.66,408.92 L315.8,407.78 L316.94,406.7 L318.07,405.68 L319.21,404.72 L320.35,403.81 L321.49,402.97 L322.62,402.2 L323.76,401.48 L324.9,400.83 L326.04,400.25 L327.17,399.73 L328.31,399.27 L329.45,398.88 L330.58,398.56 L331.72,398.31 L332.86,398.12 L334,398 L335.13,397.94 L336.27,397.96 L337.41,398.04 L338.55,398.19 L339.68,398.4 L340.82,398.68 L341.96,399.03 L343.09,399.45 L344.23,399.93 L345.37,400.47 L346.51,401.09 L347.64,401.76 L348.78,402.5 L349.92,403.3 L351.06,404.17 L352.19,405.09 L353.33,406.08 L354.47,407.12 L355.6,408.23 L356.74,409.39 L357.88,410.6 L359.02,411.87 L360.15,413.2 L361.29,414.58 L362.43,416 L363.57,417.48 L364.7,419.01 L365.84,420.58 L366.98,422.2 L368.11,423.86 L369.25,425.56 L370.39,427.3 L371.53,429.09 L372.66,430.9 L373.8,432.76 L374.94,434.64 L376.08,436.56 L377.21,438.5 L378.35,440.48 L379.49,442.47 L380.62,444.5 L381.76,446.54 L382.9,448.6 L384.04,450.68 L385.17,452.78 L386.31,454.88 L387.45,457 L388.59,459.13 L389.72,461.27 L390.86,463.41 L392,465.55 L393.13,467.69 L394.27,469.83 L395.41,471.97 L396.55,474.1 L397.68,476.23 L398.82,478.34 L399.96,480.44 L401.1,482.53 L402.23,484.6 L403.37,486.65 L404.51,488.69 L405.64,490.7 L406.78,492.68 L407.92,494.64 L409.06,496.58 L410.19,498.48 L411.33,500.35 L412.47,502.18 L413.61,503.98 L414.74,505.75 L415.88,507.47 L417.02,509.15 L418.15,510.79 L419.29,512.39 L420.43,513.94 L421.57,515.44 L422.7,516.89 L423.84,518.3 L424.98,519.65 L426.12,520.95 L427.25,522.19 L428.39,523.38 L429.53,524.52 L430.66,525.59 L431.8,526.61 L432.94,527.56 L434.08,528.46 L435.21,529.29 L436.35,530.07 L437.49,530.77 L438.63,531.42 L439.76,532 L440.9,532.51 L442.04,532.96 L443.17,533.35 L444.31,533.66 L445.45,533.91 L446.59,534.09 L447.72,534.21 L448.86,534.26 L450,534.24 L451.14,534.15 L452.27,534 L453.41,533.78 L454.55,533.49 L455.68,533.14 L456.82,532.71 L457.96,532.23 L459.1,531.68 L460.23,531.06 L461.37,530.38 L462.51,529.63 L463.65,528.83 L464.78,527.96 L465.92,527.03 L467.06,526.04 L468.19,524.99 L469.33,523.88 L470.47,522.71 L471.61,521.49 L472.74,520.21 L473.88,518.88 L475.02,517.5 L476.16,516.07 L477.29,514.59 L478.43,513.06 L479.57,511.48 L480.7,509.86 L481.84,508.2 L482.98,506.49 L484.12,504.74 L485.25,502.96 L486.39,501.14 L487.53,499.28 L488.67,497.4 L489.8,495.48 L490.94,493.53 L492.08,491.55 L493.21,489.55 L494.35,487.53 L495.49,485.48 L496.63,483.42 L497.76,481.34 L498.9,479.24 L500.04,477.13 L501.18,475.01 L502.31,472.89 L503.45,470.75 L504.59,468.61 L505.72,466.47 L506.86,464.32 L508,462.18 L509.14,460.05 L510.27,457.92 L511.41,455.79 L512.55,453.68 L513.69,451.58 L514.82,449.49 L515.96,447.42 L517.1,445.37 L518.23,443.34 L519.37,441.33 L520.51,439.35 L521.65,437.39 L522.78,435.46 L523.92,433.56 L525.06,431.69 L526.2,429.86 L527.33,428.06 L528.47,426.3 L529.61,424.58 L530.74,422.91 L531.88,421.27 L533.02,419.68 L534.16,418.13 L535.29,416.63 L536.43,415.18 L537.57,413.78 L538.71,412.44 L539.84,411.14 L540.98,409.9 L542.12,408.72 L543.25,407.59 L544.39,406.52 L545.53,405.51 L546.67,404.56 L547.8,403.67 L548.94,402.84 L550.08,402.07 L551.22,401.37 L552.35,400.73 L553.49,400.15 L554.63,399.65 L555.76,399.2 L556.9,398.82 L558.04,398.51 L559.18,398.27 L560.31,398.09 L561.45,397.98 L562.59,397.94 L563.73,397.97 L564.86,398.06 L566,398.22 L567.14,398.44 L568.27,398.74 L569.41,399.1 L570.55,399.52 L571.69,400.02 L572.82,400.57 L573.96,401.2 L575.1,401.88 L576.24,402.63 L577.37,403.45 L578.51,404.32 L579.65,405.26 L580.78,406.25 L581.92,407.31 L583.06,408.42 L584.2,409.59 L585.33,410.82 L586.47,412.1 L587.61,413.43 L588.75,414.82 L589.88,416.26 L591.02,417.74 L592.16,419.28 L593.3,420.86 L594.43,422.48 L595.57,424.15 L596.71,425.86 L597.84,427.61 L598.98,429.39 L600.12,431.22 L601.26,433.08 L602.39,434.97 L603.53,436.89 L604.67,438.84 L605.81,440.82 L606.94,442.82 L608.08,444.85 L609.22,446.89 L610.35,448.96 L611.49,451.04 L612.63,453.14 L613.77,455.25 L614.9,457.37 L616.04,459.5 L617.18,461.63 L618.32,463.77 L619.45,465.92 L620.59,468.06 L621.73,470.2 L622.86,472.34 L624,474.47 L625.14,476.59 L626.28,478.7 L627.41,480.8 L628.55,482.89 L629.69,484.96 L630.83,487.01 L631.96,489.03 L633.1,491.04 L634.24,493.02 L635.37,494.98 L636.51,496.9 L637.65,498.8 L638.79,500.66 L639.92,502.49 L641.06,504.29 L642.2,506.04 L643.34,507.76 L644.47,509.44 L645.61,511.07 L646.75,512.66 L647.88,514.2 L649.02,515.69 L650.16,517.14 L651.3,518.53 L652.43,519.88 L653.57,521.17 L654.71,522.4 L655.85,523.58 L656.98,524.71 L658.12,525.77 L659.26,526.78 L660.39,527.72 L661.53,528.61 L662.67,529.43 L663.81,530.19 L664.94,530.89 L666.08,531.52 L667.22,532.09 L668.36,532.6 L669.49,533.03 L670.63,533.4 L671.77,533.71 L672.9,533.95 L674.04,534.12 L675.18,534.22 L676.32,534.26 L677.45,534.23 L678.59,534.13 L679.73,533.97 L680.87,533.73 L682,533.43 L683.14,533.07 L684.28,532.64 L685.41,532.14 L686.55,531.57 L687.69,530.95 L688.83,530.25 L689.96,529.5 L691.1,528.68 L692.24,527.8 L693.38,526.86 L694.51,525.86 L695.65,524.8 L696.79,523.68 L697.92,522.51 L699.06,521.28 L700.2,519.99 L701.34,518.65 L702.47,517.26 L703.61,515.82 L704.75,514.33 L705.89,512.79 L707.02,511.21 L708.16,509.58 L709.3,507.91 L710.43,506.19 L711.57,504.44 L712.71,502.65 L713.85,500.82 L714.98,498.96 L716.12,497.07 L717.26,495.14 L718.4,493.19 L719.53,491.21 L720.67,489.21 L721.81,487.18 L722.94,485.13 L724.08,483.06 L725.22,480.98 L726.36,478.88 L727.49,476.77 L728.63,474.65 L729.77,472.52 L730.91,470.38 L732.04,468.24 L733.18,466.1" stroke="#b01818" stroke-width="1.3" fill="none" stroke-linejoin="round" stroke-dasharray="2.6 1.8" clip-path="url(#cc)" stroke-dashoffset="-1.20"/>
<rect x="92.6" y="396.6" width="32" height="9.8" fill="none" stroke="#cc3a3a" stroke-width="1.1"/>
<rect x="317.7" y="396.5" width="31.7" height="11.6" fill="none" stroke="#d23a3a" stroke-width="1.1"/>
<rect x="431.9" y="524.3" width="31.5" height="13" fill="none" stroke="#e06a6a" stroke-width="1.2"/>
<path d="M124.6,398.7 L156.9,398.7" stroke="#2897d1" stroke-width="2.4"/>
<path d="M165.8,398.7 L156.4,403.9 L156.4,393.5 Z" fill="#2897d1"/>
<path d="M349.4,398.6 L381.3,398.6" stroke="#2897d1" stroke-width="2.4"/>
<path d="M390.2,398.6 L380.8,403.8 L380.8,393.4 Z" fill="#2897d1"/>
<path d="M463.4,526.9 L495.2,526.9" stroke="#2897d1" stroke-width="2.4"/>
<path d="M504.3,526.9 L494.7,532.1 L494.7,521.7 Z" fill="#2897d1"/>
<rect x="167.5" y="396.6" width="106.9" height="39.6" fill="#fff"/>
<path d="M167.5,400.4 H274.4 M222.3,396.6 V436.2" stroke="#8a8a8a" stroke-width="1.0" fill="none"/>
<path d="M167.4,427 L167.86,426.63 L168.32,426.26 L168.78,425.89 L169.24,425.53 L169.69,425.17 L170.15,424.81 L170.61,424.45 L171.07,424.1 L171.53,423.75 L171.99,423.41 L172.45,423.07 L172.91,422.73 L173.36,422.39 L173.82,422.06 L174.28,421.73 L174.74,421.41 L175.2,421.08 L175.66,420.76 L176.12,420.45 L176.58,420.13 L177.04,419.82 L177.49,419.52 L177.95,419.21 L178.41,418.91 L178.87,418.61 L179.33,418.32 L179.79,418.03 L180.25,417.74 L180.71,417.46 L181.16,417.17 L181.62,416.89 L182.08,416.62 L182.54,416.35 L183,416.08 L183.46,415.81 L183.92,415.55 L184.38,415.29 L184.84,415.03 L185.29,414.78 L185.75,414.53 L186.21,414.28 L186.67,414.04 L187.13,413.8 L187.59,413.56 L188.05,413.32 L188.51,413.09 L188.96,412.86 L189.42,412.64 L189.88,412.42 L190.34,412.2 L190.8,411.98 L191.26,411.77 L191.72,411.56 L192.18,411.35 L192.64,411.15 L193.09,410.95 L193.55,410.75 L194.01,410.56 L194.47,410.37 L194.93,410.18 L195.39,410 L195.85,409.82 L196.31,409.64 L196.76,409.46 L197.22,409.29 L197.68,409.12 L198.14,408.96 L198.6,408.8 L199.06,408.64 L199.52,408.48 L199.98,408.33 L200.44,408.18 L200.89,408.03 L201.35,407.89 L201.81,407.75 L202.27,407.61 L202.73,407.48 L203.19,407.35 L203.65,407.22 L204.11,407.1 L204.56,406.97 L205.02,406.86 L205.48,406.74 L205.94,406.63 L206.4,406.52 L206.86,406.41 L207.32,406.31 L207.78,406.21 L208.24,406.12 L208.69,406.02 L209.15,405.93 L209.61,405.85 L210.07,405.76 L210.53,405.68 L210.99,405.61 L211.45,405.53 L211.91,405.46 L212.36,405.39 L212.82,405.33 L213.28,405.27 L213.74,405.21 L214.2,405.16 L214.66,405.1 L215.12,405.05 L215.58,405.01 L216.04,404.97 L216.49,404.93 L216.95,404.89 L217.41,404.86 L217.87,404.83 L218.33,404.8 L218.79,404.78 L219.25,404.76 L219.71,404.74 L220.16,404.73 L220.62,404.71 L221.08,404.71 L221.54,404.7 L222,404.7 L222.44,404.7 L222.88,404.71 L223.32,404.72 L223.76,404.73 L224.2,404.75 L224.64,404.77 L225.08,404.79 L225.52,404.82 L225.96,404.85 L226.4,404.88 L226.84,404.92 L227.28,404.96 L227.72,405.01 L228.16,405.05 L228.61,405.11 L229.05,405.16 L229.49,405.22 L229.93,405.29 L230.37,405.35 L230.81,405.42 L231.25,405.5 L231.69,405.57 L232.13,405.66 L232.57,405.74 L233.01,405.83 L233.45,405.92 L233.89,406.02 L234.33,406.12 L234.77,406.22 L235.21,406.33 L235.65,406.44 L236.09,406.55 L236.53,406.67 L236.97,406.79 L237.41,406.91 L237.85,407.04 L238.29,407.17 L238.73,407.31 L239.17,407.45 L239.61,407.59 L240.05,407.74 L240.49,407.89 L240.93,408.04 L241.37,408.2 L241.82,408.36 L242.26,408.53 L242.7,408.69 L243.14,408.87 L243.58,409.04 L244.02,409.22 L244.46,409.4 L244.9,409.59 L245.34,409.78 L245.78,409.97 L246.22,410.17 L246.66,410.37 L247.1,410.57 L247.54,410.78 L247.98,410.99 L248.42,411.21 L248.86,411.43 L249.3,411.65 L249.74,411.88 L250.18,412.1 L250.62,412.34 L251.06,412.57 L251.5,412.82 L251.94,413.06 L252.38,413.31 L252.82,413.56 L253.26,413.81 L253.7,414.07 L254.14,414.33 L254.58,414.6 L255.03,414.87 L255.47,415.14 L255.91,415.42 L256.35,415.7 L256.79,415.98 L257.23,416.27 L257.67,416.56 L258.11,416.86 L258.55,417.15 L258.99,417.46 L259.43,417.76 L259.87,418.07 L260.31,418.38 L260.75,418.7 L261.19,419.02 L261.63,419.34 L262.07,419.67 L262.51,420 L262.95,420.34 L263.39,420.67 L263.83,421.02 L264.27,421.36 L264.71,421.71 L265.15,422.06 L265.59,422.42 L266.03,422.78 L266.47,423.14 L266.91,423.51 L267.35,423.88 L267.79,424.25 L268.24,424.63 L268.68,425.01 L269.12,425.4 L269.56,425.79 L270,426.18 L270.44,426.57 L270.88,426.97 L271.32,427.38 L271.76,427.78 L272.2,428.19 L272.64,428.61 L273.08,429.03 L273.52,429.45 L273.96,429.87 L274.4,430.3" stroke="#111" stroke-width="2.6" fill="none" stroke-linejoin="round" clip-path="url(#ic1)"/>
<path d="M167.4,433.8 L167.86,433.26 L168.32,432.72 L168.78,432.18 L169.24,431.65 L169.69,431.13 L170.15,430.61 L170.61,430.09 L171.07,429.58 L171.53,429.07 L171.99,428.57 L172.45,428.07 L172.91,427.58 L173.36,427.09 L173.82,426.6 L174.28,426.12 L174.74,425.65 L175.2,425.18 L175.66,424.71 L176.12,424.25 L176.58,423.79 L177.04,423.34 L177.49,422.89 L177.95,422.45 L178.41,422.01 L178.87,421.58 L179.33,421.15 L179.79,420.73 L180.25,420.31 L180.71,419.89 L181.16,419.48 L181.62,419.07 L182.08,418.67 L182.54,418.27 L183,417.88 L183.46,417.49 L183.92,417.11 L184.38,416.73 L184.84,416.36 L185.29,415.99 L185.75,415.62 L186.21,415.26 L186.67,414.91 L187.13,414.56 L187.59,414.21 L188.05,413.87 L188.51,413.53 L188.96,413.2 L189.42,412.87 L189.88,412.55 L190.34,412.23 L190.8,411.91 L191.26,411.6 L191.72,411.3 L192.18,411 L192.64,410.7 L193.09,410.41 L193.55,410.12 L194.01,409.84 L194.47,409.56 L194.93,409.29 L195.39,409.02 L195.85,408.76 L196.31,408.5 L196.76,408.24 L197.22,407.99 L197.68,407.75 L198.14,407.51 L198.6,407.27 L199.06,407.04 L199.52,406.81 L199.98,406.59 L200.44,406.37 L200.89,406.16 L201.35,405.95 L201.81,405.74 L202.27,405.54 L202.73,405.35 L203.19,405.16 L203.65,404.97 L204.11,404.79 L204.56,404.61 L205.02,404.44 L205.48,404.27 L205.94,404.11 L206.4,403.95 L206.86,403.8 L207.32,403.65 L207.78,403.51 L208.24,403.37 L208.69,403.23 L209.15,403.1 L209.61,402.97 L210.07,402.85 L210.53,402.73 L210.99,402.62 L211.45,402.51 L211.91,402.41 L212.36,402.31 L212.82,402.22 L213.28,402.13 L213.74,402.04 L214.2,401.96 L214.66,401.89 L215.12,401.82 L215.58,401.75 L216.04,401.69 L216.49,401.63 L216.95,401.58 L217.41,401.53 L217.87,401.49 L218.33,401.45 L218.79,401.41 L219.25,401.38 L219.71,401.36 L220.16,401.34 L220.62,401.32 L221.08,401.31 L221.54,401.3 L222,401.3 L222.44,401.3 L222.88,401.31 L223.32,401.31 L223.76,401.32 L224.2,401.34 L224.64,401.35 L225.08,401.37 L225.52,401.4 L225.96,401.42 L226.4,401.45 L226.84,401.48 L227.28,401.52 L227.72,401.55 L228.16,401.59 L228.61,401.64 L229.05,401.68 L229.49,401.73 L229.93,401.79 L230.37,401.84 L230.81,401.9 L231.25,401.96 L231.69,402.02 L232.13,402.09 L232.57,402.16 L233.01,402.24 L233.45,402.31 L233.89,402.39 L234.33,402.47 L234.77,402.56 L235.21,402.65 L235.65,402.74 L236.09,402.83 L236.53,402.93 L236.97,403.03 L237.41,403.13 L237.85,403.24 L238.29,403.35 L238.73,403.46 L239.17,403.58 L239.61,403.7 L240.05,403.82 L240.49,403.94 L240.93,404.07 L241.37,404.2 L241.82,404.33 L242.26,404.47 L242.7,404.61 L243.14,404.75 L243.58,404.89 L244.02,405.04 L244.46,405.19 L244.9,405.35 L245.34,405.51 L245.78,405.67 L246.22,405.83 L246.66,405.99 L247.1,406.16 L247.54,406.34 L247.98,406.51 L248.42,406.69 L248.86,406.87 L249.3,407.05 L249.74,407.24 L250.18,407.43 L250.62,407.63 L251.06,407.82 L251.5,408.02 L251.94,408.22 L252.38,408.43 L252.82,408.64 L253.26,408.85 L253.7,409.06 L254.14,409.28 L254.58,409.5 L255.03,409.72 L255.47,409.95 L255.91,410.18 L256.35,410.41 L256.79,410.64 L257.23,410.88 L257.67,411.12 L258.11,411.37 L258.55,411.61 L258.99,411.86 L259.43,412.12 L259.87,412.37 L260.31,412.63 L260.75,412.89 L261.19,413.16 L261.63,413.43 L262.07,413.7 L262.51,413.97 L262.95,414.25 L263.39,414.53 L263.83,414.81 L264.27,415.1 L264.71,415.39 L265.15,415.68 L265.59,415.97 L266.03,416.27 L266.47,416.57 L266.91,416.88 L267.35,417.18 L267.79,417.49 L268.24,417.81 L268.68,418.12 L269.12,418.44 L269.56,418.76 L270,419.09 L270.44,419.41 L270.88,419.75 L271.32,420.08 L271.76,420.42 L272.2,420.76 L272.64,421.1 L273.08,421.44 L273.52,421.79 L273.96,422.15 L274.4,422.5" stroke="#2424e0" stroke-width="2.4" fill="none" stroke-linejoin="round" clip-path="url(#ic1)"/>
<path d="M165,422 L165.48,421.65 L165.96,421.29 L166.44,420.94 L166.92,420.6 L167.39,420.26 L167.87,419.92 L168.35,419.58 L168.83,419.25 L169.31,418.91 L169.79,418.59 L170.27,418.26 L170.75,417.94 L171.23,417.62 L171.71,417.31 L172.18,416.99 L172.66,416.68 L173.14,416.38 L173.62,416.07 L174.1,415.77 L174.58,415.47 L175.06,415.18 L175.54,414.89 L176.02,414.6 L176.5,414.31 L176.97,414.03 L177.45,413.75 L177.93,413.47 L178.41,413.2 L178.89,412.93 L179.37,412.66 L179.85,412.39 L180.33,412.13 L180.81,411.87 L181.29,411.62 L181.76,411.36 L182.24,411.11 L182.72,410.87 L183.2,410.62 L183.68,410.38 L184.16,410.14 L184.64,409.91 L185.12,409.68 L185.6,409.45 L186.08,409.22 L186.55,409 L187.03,408.78 L187.51,408.56 L187.99,408.35 L188.47,408.14 L188.95,407.93 L189.43,407.72 L189.91,407.52 L190.39,407.32 L190.87,407.13 L191.34,406.93 L191.82,406.74 L192.3,406.55 L192.78,406.37 L193.26,406.19 L193.74,406.01 L194.22,405.84 L194.7,405.66 L195.18,405.49 L195.66,405.33 L196.13,405.17 L196.61,405.01 L197.09,404.85 L197.57,404.69 L198.05,404.54 L198.53,404.39 L199.01,404.25 L199.49,404.11 L199.97,403.97 L200.45,403.83 L200.92,403.7 L201.4,403.57 L201.88,403.44 L202.36,403.32 L202.84,403.2 L203.32,403.08 L203.8,402.96 L204.28,402.85 L204.76,402.74 L205.24,402.63 L205.71,402.53 L206.19,402.43 L206.67,402.33 L207.15,402.24 L207.63,402.15 L208.11,402.06 L208.59,401.97 L209.07,401.89 L209.55,401.81 L210.03,401.74 L210.5,401.66 L210.98,401.59 L211.46,401.52 L211.94,401.46 L212.42,401.4 L212.9,401.34 L213.38,401.29 L213.86,401.23 L214.34,401.18 L214.82,401.14 L215.29,401.09 L215.77,401.05 L216.25,401.02 L216.73,400.98 L217.21,400.95 L217.69,400.92 L218.17,400.9 L218.65,400.87 L219.13,400.85 L219.61,400.84 L220.08,400.82 L220.56,400.81 L221.04,400.81 L221.52,400.8 L222,400.8 L222.45,400.8 L222.91,400.81 L223.36,400.82 L223.82,400.83 L224.27,400.84 L224.72,400.86 L225.18,400.89 L225.63,400.91 L226.08,400.94 L226.54,400.98 L226.99,401.01 L227.45,401.05 L227.9,401.1 L228.35,401.15 L228.81,401.2 L229.26,401.25 L229.71,401.31 L230.17,401.37 L230.62,401.44 L231.08,401.51 L231.53,401.58 L231.98,401.65 L232.44,401.73 L232.89,401.82 L233.34,401.9 L233.8,401.99 L234.25,402.09 L234.71,402.18 L235.16,402.28 L235.61,402.39 L236.07,402.5 L236.52,402.61 L236.97,402.72 L237.43,402.84 L237.88,402.96 L238.34,403.09 L238.79,403.22 L239.24,403.35 L239.7,403.49 L240.15,403.62 L240.61,403.77 L241.06,403.91 L241.51,404.06 L241.97,404.22 L242.42,404.37 L242.87,404.54 L243.33,404.7 L243.78,404.87 L244.24,405.04 L244.69,405.21 L245.14,405.39 L245.6,405.57 L246.05,405.76 L246.5,405.95 L246.96,406.14 L247.41,406.34 L247.87,406.54 L248.32,406.74 L248.77,406.95 L249.23,407.16 L249.68,407.37 L250.13,407.59 L250.59,407.81 L251.04,408.03 L251.5,408.26 L251.95,408.49 L252.4,408.72 L252.86,408.96 L253.31,409.21 L253.76,409.45 L254.22,409.7 L254.67,409.95 L255.13,410.21 L255.58,410.47 L256.03,410.73 L256.49,411 L256.94,411.27 L257.39,411.54 L257.85,411.82 L258.3,412.1 L258.76,412.38 L259.21,412.67 L259.66,412.96 L260.12,413.26 L260.57,413.56 L261.03,413.86 L261.48,414.16 L261.93,414.47 L262.39,414.78 L262.84,415.1 L263.29,415.42 L263.75,415.74 L264.2,416.07 L264.66,416.4 L265.11,416.73 L265.56,417.07 L266.02,417.41 L266.47,417.76 L266.92,418.1 L267.38,418.45 L267.83,418.81 L268.29,419.17 L268.74,419.53 L269.19,419.89 L269.65,420.26 L270.1,420.64 L270.55,421.01 L271.01,421.39 L271.46,421.77 L271.92,422.16 L272.37,422.55 L272.82,422.95 L273.28,423.34 L273.73,423.74 L274.18,424.15 L274.64,424.56 L275.09,424.97 L275.55,425.38 L276,425.8" stroke="#e81818" stroke-width="3.8" fill="none" stroke-linejoin="round" stroke-dasharray="7.3 7.4" clip-path="url(#ic1)" stroke-dashoffset="-8.5"/>
<rect x="167.5" y="396.6" width="106.9" height="39.6" fill="none" stroke="#e03a3a" stroke-width="1.2"/>
<rect x="390.4" y="396.0" width="109.8" height="45.0" fill="#fff"/>
<path d="M390.4,402.7 H500.2 M447.6,396 V441" stroke="#8a8a8a" stroke-width="1.0" fill="none"/>
<path d="M389,430 L389.49,429.56 L389.97,429.13 L390.46,428.7 L390.95,428.27 L391.44,427.85 L391.92,427.43 L392.41,427.02 L392.9,426.61 L393.39,426.2 L393.87,425.8 L394.36,425.4 L394.85,425 L395.34,424.61 L395.82,424.22 L396.31,423.83 L396.8,423.45 L397.29,423.08 L397.77,422.7 L398.26,422.33 L398.75,421.96 L399.24,421.6 L399.72,421.24 L400.21,420.89 L400.7,420.53 L401.18,420.19 L401.67,419.84 L402.16,419.5 L402.65,419.16 L403.13,418.83 L403.62,418.5 L404.11,418.17 L404.6,417.85 L405.08,417.53 L405.57,417.22 L406.06,416.9 L406.55,416.6 L407.03,416.29 L407.52,415.99 L408.01,415.7 L408.5,415.4 L408.98,415.11 L409.47,414.83 L409.96,414.55 L410.45,414.27 L410.93,413.99 L411.42,413.72 L411.91,413.45 L412.39,413.19 L412.88,412.93 L413.37,412.67 L413.86,412.42 L414.34,412.17 L414.83,411.93 L415.32,411.69 L415.81,411.45 L416.29,411.22 L416.78,410.98 L417.27,410.76 L417.76,410.54 L418.24,410.32 L418.73,410.1 L419.22,409.89 L419.71,409.68 L420.19,409.48 L420.68,409.27 L421.17,409.08 L421.66,408.88 L422.14,408.69 L422.63,408.51 L423.12,408.33 L423.61,408.15 L424.09,407.97 L424.58,407.8 L425.07,407.63 L425.55,407.47 L426.04,407.31 L426.53,407.15 L427.02,407 L427.5,406.85 L427.99,406.7 L428.48,406.56 L428.97,406.42 L429.45,406.29 L429.94,406.16 L430.43,406.03 L430.92,405.91 L431.4,405.79 L431.89,405.67 L432.38,405.56 L432.87,405.45 L433.35,405.34 L433.84,405.24 L434.33,405.15 L434.82,405.05 L435.3,404.96 L435.79,404.87 L436.28,404.79 L436.76,404.71 L437.25,404.64 L437.74,404.57 L438.23,404.5 L438.71,404.43 L439.2,404.37 L439.69,404.31 L440.18,404.26 L440.66,404.21 L441.15,404.17 L441.64,404.12 L442.13,404.08 L442.61,404.05 L443.1,404.02 L443.59,403.99 L444.08,403.97 L444.56,403.95 L445.05,403.93 L445.54,403.92 L446.03,403.91 L446.51,403.9 L447,403.9 L447.46,403.9 L447.92,403.91 L448.39,403.92 L448.85,403.93 L449.31,403.94 L449.77,403.96 L450.24,403.98 L450.7,404.01 L451.16,404.04 L451.62,404.07 L452.08,404.11 L452.55,404.15 L453.01,404.19 L453.47,404.23 L453.93,404.28 L454.39,404.34 L454.86,404.39 L455.32,404.45 L455.78,404.51 L456.24,404.58 L456.71,404.65 L457.17,404.72 L457.63,404.8 L458.09,404.88 L458.55,404.96 L459.02,405.05 L459.48,405.14 L459.94,405.23 L460.4,405.33 L460.87,405.43 L461.33,405.54 L461.79,405.64 L462.25,405.75 L462.71,405.87 L463.18,405.98 L463.64,406.11 L464.1,406.23 L464.56,406.36 L465.03,406.49 L465.49,406.62 L465.95,406.76 L466.41,406.9 L466.87,407.05 L467.34,407.19 L467.8,407.35 L468.26,407.5 L468.72,407.66 L469.18,407.82 L469.65,407.99 L470.11,408.15 L470.57,408.33 L471.03,408.5 L471.5,408.68 L471.96,408.86 L472.42,409.05 L472.88,409.24 L473.34,409.43 L473.81,409.63 L474.27,409.82 L474.73,410.03 L475.19,410.23 L475.66,410.44 L476.12,410.65 L476.58,410.87 L477.04,411.09 L477.5,411.31 L477.97,411.54 L478.43,411.77 L478.89,412 L479.35,412.24 L479.82,412.48 L480.28,412.72 L480.74,412.97 L481.2,413.22 L481.66,413.47 L482.13,413.73 L482.59,413.99 L483.05,414.25 L483.51,414.52 L483.97,414.79 L484.44,415.07 L484.9,415.34 L485.36,415.62 L485.82,415.91 L486.29,416.2 L486.75,416.49 L487.21,416.78 L487.67,417.08 L488.13,417.38 L488.6,417.69 L489.06,417.99 L489.52,418.3 L489.98,418.62 L490.45,418.94 L490.91,419.26 L491.37,419.58 L491.83,419.91 L492.29,420.24 L492.76,420.58 L493.22,420.92 L493.68,421.26 L494.14,421.61 L494.61,421.96 L495.07,422.31 L495.53,422.66 L495.99,423.02 L496.45,423.38 L496.92,423.75 L497.38,424.12 L497.84,424.49 L498.3,424.87 L498.76,425.25 L499.23,425.63 L499.69,426.02 L500.15,426.41 L500.61,426.8 L501.08,427.2 L501.54,427.6 L502,428" stroke="#111" stroke-width="2.8" fill="none" stroke-linejoin="round" clip-path="url(#ic2)"/>
<path d="M389,418.5 L402,410.9 L417.5,405.8 L436,405 L448.4,407.8 L462.3,413.5 L477.8,424.3 L497,442" stroke="#2a2ae0" stroke-width="2.4" fill="none" stroke-linejoin="round" clip-path="url(#ic2)"/>
<path d="M389,428 L389.49,427.58 L389.97,427.16 L390.46,426.75 L390.95,426.33 L391.44,425.93 L391.92,425.52 L392.41,425.12 L392.9,424.73 L393.39,424.33 L393.87,423.94 L394.36,423.56 L394.85,423.17 L395.34,422.79 L395.82,422.42 L396.31,422.05 L396.8,421.68 L397.29,421.31 L397.77,420.95 L398.26,420.6 L398.75,420.24 L399.24,419.89 L399.72,419.54 L400.21,419.2 L400.7,418.86 L401.18,418.52 L401.67,418.19 L402.16,417.86 L402.65,417.54 L403.13,417.21 L403.62,416.9 L404.11,416.58 L404.6,416.27 L405.08,415.96 L405.57,415.66 L406.06,415.36 L406.55,415.06 L407.03,414.77 L407.52,414.48 L408.01,414.19 L408.5,413.91 L408.98,413.63 L409.47,413.35 L409.96,413.08 L410.45,412.81 L410.93,412.54 L411.42,412.28 L411.91,412.03 L412.39,411.77 L412.88,411.52 L413.37,411.27 L413.86,411.03 L414.34,410.79 L414.83,410.55 L415.32,410.32 L415.81,410.09 L416.29,409.86 L416.78,409.64 L417.27,409.42 L417.76,409.21 L418.24,408.99 L418.73,408.79 L419.22,408.58 L419.71,408.38 L420.19,408.18 L420.68,407.99 L421.17,407.8 L421.66,407.61 L422.14,407.43 L422.63,407.25 L423.12,407.07 L423.61,406.9 L424.09,406.73 L424.58,406.57 L425.07,406.4 L425.55,406.25 L426.04,406.09 L426.53,405.94 L427.02,405.79 L427.5,405.65 L427.99,405.51 L428.48,405.37 L428.97,405.24 L429.45,405.11 L429.94,404.98 L430.43,404.86 L430.92,404.74 L431.4,404.62 L431.89,404.51 L432.38,404.4 L432.87,404.3 L433.35,404.2 L433.84,404.1 L434.33,404 L434.82,403.91 L435.3,403.83 L435.79,403.74 L436.28,403.66 L436.76,403.58 L437.25,403.51 L437.74,403.44 L438.23,403.38 L438.71,403.31 L439.2,403.26 L439.69,403.2 L440.18,403.15 L440.66,403.1 L441.15,403.06 L441.64,403.02 L442.13,402.98 L442.61,402.94 L443.1,402.91 L443.59,402.89 L444.08,402.86 L444.56,402.84 L445.05,402.83 L445.54,402.82 L446.03,402.81 L446.51,402.8 L447,402.8 L447.46,402.8 L447.92,402.81 L448.39,402.81 L448.85,402.82 L449.31,402.84 L449.77,402.86 L450.24,402.88 L450.7,402.9 L451.16,402.92 L451.62,402.95 L452.08,402.99 L452.55,403.02 L453.01,403.06 L453.47,403.1 L453.93,403.14 L454.39,403.19 L454.86,403.24 L455.32,403.3 L455.78,403.35 L456.24,403.41 L456.71,403.48 L457.17,403.54 L457.63,403.61 L458.09,403.68 L458.55,403.76 L459.02,403.84 L459.48,403.92 L459.94,404 L460.4,404.09 L460.87,404.18 L461.33,404.27 L461.79,404.37 L462.25,404.47 L462.71,404.57 L463.18,404.68 L463.64,404.79 L464.1,404.9 L464.56,405.01 L465.03,405.13 L465.49,405.25 L465.95,405.38 L466.41,405.5 L466.87,405.63 L467.34,405.77 L467.8,405.9 L468.26,406.04 L468.72,406.19 L469.18,406.33 L469.65,406.48 L470.11,406.63 L470.57,406.79 L471.03,406.94 L471.5,407.1 L471.96,407.27 L472.42,407.44 L472.88,407.61 L473.34,407.78 L473.81,407.95 L474.27,408.13 L474.73,408.32 L475.19,408.5 L475.66,408.69 L476.12,408.88 L476.58,409.08 L477.04,409.27 L477.5,409.48 L477.97,409.68 L478.43,409.89 L478.89,410.1 L479.35,410.31 L479.82,410.52 L480.28,410.74 L480.74,410.97 L481.2,411.19 L481.66,411.42 L482.13,411.65 L482.59,411.89 L483.05,412.12 L483.51,412.36 L483.97,412.61 L484.44,412.85 L484.9,413.1 L485.36,413.36 L485.82,413.61 L486.29,413.87 L486.75,414.13 L487.21,414.4 L487.67,414.67 L488.13,414.94 L488.6,415.21 L489.06,415.49 L489.52,415.77 L489.98,416.05 L490.45,416.34 L490.91,416.63 L491.37,416.92 L491.83,417.22 L492.29,417.52 L492.76,417.82 L493.22,418.12 L493.68,418.43 L494.14,418.74 L494.61,419.06 L495.07,419.37 L495.53,419.69 L495.99,420.02 L496.45,420.34 L496.92,420.67 L497.38,421.01 L497.84,421.34 L498.3,421.68 L498.76,422.02 L499.23,422.37 L499.69,422.71 L500.15,423.07 L500.61,423.42 L501.08,423.78 L501.54,424.14 L502,424.5" stroke="#e81818" stroke-width="3.9" fill="none" stroke-linejoin="round" stroke-dasharray="7.7 8.5" clip-path="url(#ic2)" stroke-dashoffset="-3"/>
<rect x="390.4" y="396" width="109.8" height="45" fill="none" stroke="#e03030" stroke-width="1.8"/>
<rect x="504.5" y="493.7" width="109.5" height="43.6" fill="#fff"/>
<path d="M504.5,528.9 H614 M563.2,493.7 V537.3" stroke="#8a8a8a" stroke-width="1.4" fill="none"/>
<path d="M503,505 L503.52,505.36 L504.05,505.71 L504.57,506.07 L505.1,506.41 L505.62,506.76 L506.15,507.1 L506.67,507.44 L507.19,507.78 L507.72,508.11 L508.24,508.45 L508.77,508.77 L509.29,509.1 L509.82,509.42 L510.34,509.74 L510.87,510.05 L511.39,510.37 L511.91,510.68 L512.44,510.98 L512.96,511.29 L513.49,511.59 L514.01,511.89 L514.54,512.18 L515.06,512.47 L515.58,512.76 L516.11,513.05 L516.63,513.33 L517.16,513.61 L517.68,513.89 L518.21,514.16 L518.73,514.43 L519.26,514.7 L519.78,514.96 L520.3,515.22 L520.83,515.48 L521.35,515.74 L521.88,515.99 L522.4,516.24 L522.93,516.49 L523.45,516.73 L523.97,516.97 L524.5,517.21 L525.02,517.44 L525.55,517.67 L526.07,517.9 L526.6,518.12 L527.12,518.35 L527.65,518.57 L528.17,518.78 L528.69,519 L529.22,519.21 L529.74,519.41 L530.27,519.62 L530.79,519.82 L531.32,520.02 L531.84,520.21 L532.36,520.4 L532.89,520.59 L533.41,520.78 L533.94,520.96 L534.46,521.14 L534.99,521.32 L535.51,521.49 L536.04,521.66 L536.56,521.83 L537.08,521.99 L537.61,522.16 L538.13,522.31 L538.66,522.47 L539.18,522.62 L539.71,522.77 L540.23,522.92 L540.75,523.06 L541.28,523.2 L541.8,523.34 L542.33,523.47 L542.85,523.61 L543.38,523.73 L543.9,523.86 L544.43,523.98 L544.95,524.1 L545.47,524.22 L546,524.33 L546.52,524.44 L547.05,524.55 L547.57,524.65 L548.1,524.75 L548.62,524.85 L549.14,524.95 L549.67,525.04 L550.19,525.13 L550.72,525.22 L551.24,525.3 L551.77,525.38 L552.29,525.46 L552.82,525.53 L553.34,525.6 L553.86,525.67 L554.39,525.73 L554.91,525.8 L555.44,525.85 L555.96,525.91 L556.49,525.96 L557.01,526.01 L557.53,526.06 L558.06,526.1 L558.58,526.14 L559.11,526.18 L559.63,526.22 L560.16,526.25 L560.68,526.28 L561.21,526.3 L561.73,526.33 L562.25,526.35 L562.78,526.36 L563.3,526.38 L563.83,526.39 L564.35,526.39 L564.88,526.4 L565.4,526.4 L565.83,526.4 L566.25,526.39 L566.68,526.39 L567.1,526.38 L567.53,526.36 L567.95,526.35 L568.38,526.33 L568.8,526.31 L569.23,526.28 L569.65,526.26 L570.08,526.23 L570.5,526.19 L570.93,526.16 L571.35,526.12 L571.78,526.08 L572.2,526.03 L572.63,525.98 L573.05,525.93 L573.48,525.88 L573.9,525.82 L574.33,525.76 L574.75,525.7 L575.18,525.64 L575.61,525.57 L576.03,525.5 L576.46,525.43 L576.88,525.35 L577.31,525.27 L577.73,525.19 L578.16,525.1 L578.58,525.02 L579.01,524.92 L579.43,524.83 L579.86,524.73 L580.28,524.64 L580.71,524.53 L581.13,524.43 L581.56,524.32 L581.98,524.21 L582.41,524.1 L582.83,523.98 L583.26,523.86 L583.68,523.74 L584.11,523.61 L584.53,523.48 L584.96,523.35 L585.38,523.22 L585.81,523.08 L586.24,522.94 L586.66,522.8 L587.09,522.65 L587.51,522.5 L587.94,522.35 L588.36,522.2 L588.79,522.04 L589.21,521.88 L589.64,521.72 L590.06,521.55 L590.49,521.39 L590.91,521.21 L591.34,521.04 L591.76,520.86 L592.19,520.68 L592.61,520.5 L593.04,520.31 L593.46,520.12 L593.89,519.93 L594.31,519.74 L594.74,519.54 L595.16,519.34 L595.59,519.14 L596.02,518.93 L596.44,518.72 L596.87,518.51 L597.29,518.3 L597.72,518.08 L598.14,517.86 L598.57,517.64 L598.99,517.41 L599.42,517.18 L599.84,516.95 L600.27,516.71 L600.69,516.48 L601.12,516.24 L601.54,515.99 L601.97,515.75 L602.39,515.5 L602.82,515.24 L603.24,514.99 L603.67,514.73 L604.09,514.47 L604.52,514.21 L604.94,513.94 L605.37,513.67 L605.79,513.4 L606.22,513.12 L606.65,512.85 L607.07,512.56 L607.5,512.28 L607.92,511.99 L608.35,511.7 L608.77,511.41 L609.2,511.12 L609.62,510.82 L610.05,510.52 L610.47,510.21 L610.9,509.91 L611.32,509.6 L611.75,509.28 L612.17,508.97 L612.6,508.65 L613.02,508.33 L613.45,508.01 L613.87,507.68 L614.3,507.35 L614.72,507.02 L615.15,506.68 L615.57,506.34 L616,506" stroke="#111" stroke-width="3.4" fill="none" stroke-linejoin="round" clip-path="url(#ic3)"/>
<path d="M503,521.8 L516.8,525.2 L535.2,525.2 L550.3,521 L568.7,512.6 L585.5,502.6 L597,490" stroke="#2a2ae0" stroke-width="2.4" fill="none" stroke-linejoin="round" clip-path="url(#ic3)"/>
<path d="M503,503 L503.5,503.44 L503.99,503.87 L504.49,504.3 L504.98,504.73 L505.48,505.16 L505.97,505.58 L506.47,505.99 L506.97,506.4 L507.46,506.81 L507.96,507.22 L508.45,507.62 L508.95,508.02 L509.45,508.41 L509.94,508.8 L510.44,509.19 L510.93,509.57 L511.43,509.95 L511.92,510.33 L512.42,510.7 L512.92,511.07 L513.41,511.43 L513.91,511.79 L514.4,512.15 L514.9,512.5 L515.39,512.85 L515.89,513.2 L516.39,513.54 L516.88,513.88 L517.38,514.21 L517.87,514.54 L518.37,514.87 L518.87,515.2 L519.36,515.52 L519.86,515.83 L520.35,516.15 L520.85,516.45 L521.34,516.76 L521.84,517.06 L522.34,517.36 L522.83,517.65 L523.33,517.94 L523.82,518.23 L524.32,518.51 L524.82,518.79 L525.31,519.07 L525.81,519.34 L526.3,519.61 L526.8,519.87 L527.29,520.13 L527.79,520.39 L528.29,520.64 L528.78,520.89 L529.28,521.14 L529.77,521.38 L530.27,521.62 L530.76,521.86 L531.26,522.09 L531.76,522.32 L532.25,522.54 L532.75,522.76 L533.24,522.98 L533.74,523.19 L534.24,523.4 L534.73,523.6 L535.23,523.8 L535.72,524 L536.22,524.2 L536.71,524.39 L537.21,524.57 L537.71,524.76 L538.2,524.94 L538.7,525.11 L539.19,525.29 L539.69,525.45 L540.18,525.62 L540.68,525.78 L541.18,525.94 L541.67,526.09 L542.17,526.24 L542.66,526.39 L543.16,526.53 L543.66,526.67 L544.15,526.8 L544.65,526.93 L545.14,527.06 L545.64,527.19 L546.13,527.31 L546.63,527.42 L547.13,527.53 L547.62,527.64 L548.12,527.75 L548.61,527.85 L549.11,527.95 L549.61,528.04 L550.1,528.13 L550.6,528.22 L551.09,528.3 L551.59,528.38 L552.08,528.46 L552.58,528.53 L553.08,528.6 L553.57,528.67 L554.07,528.73 L554.56,528.78 L555.06,528.84 L555.55,528.89 L556.05,528.93 L556.55,528.98 L557.04,529.01 L557.54,529.05 L558.03,529.08 L558.53,529.11 L559.03,529.13 L559.52,529.15 L560.02,529.17 L560.51,529.18 L561.01,529.19 L561.5,529.2 L562,529.2 L562.45,529.2 L562.91,529.19 L563.36,529.19 L563.82,529.18 L564.27,529.16 L564.72,529.15 L565.18,529.13 L565.63,529.11 L566.08,529.08 L566.54,529.05 L566.99,529.02 L567.45,528.99 L567.9,528.95 L568.35,528.91 L568.81,528.87 L569.26,528.83 L569.71,528.78 L570.17,528.73 L570.62,528.67 L571.08,528.62 L571.53,528.56 L571.98,528.49 L572.44,528.43 L572.89,528.36 L573.34,528.29 L573.8,528.21 L574.25,528.13 L574.71,528.05 L575.16,527.97 L575.61,527.88 L576.07,527.8 L576.52,527.7 L576.97,527.61 L577.43,527.51 L577.88,527.41 L578.34,527.31 L578.79,527.2 L579.24,527.09 L579.7,526.98 L580.15,526.86 L580.61,526.74 L581.06,526.62 L581.51,526.5 L581.97,526.37 L582.42,526.24 L582.87,526.11 L583.33,525.97 L583.78,525.83 L584.24,525.69 L584.69,525.55 L585.14,525.4 L585.6,525.25 L586.05,525.09 L586.5,524.94 L586.96,524.78 L587.41,524.62 L587.87,524.45 L588.32,524.28 L588.77,524.11 L589.23,523.94 L589.68,523.76 L590.13,523.58 L590.59,523.4 L591.04,523.21 L591.5,523.02 L591.95,522.83 L592.4,522.64 L592.86,522.44 L593.31,522.24 L593.76,522.04 L594.22,521.83 L594.67,521.62 L595.13,521.41 L595.58,521.2 L596.03,520.98 L596.49,520.76 L596.94,520.53 L597.39,520.31 L597.85,520.08 L598.3,519.84 L598.76,519.61 L599.21,519.37 L599.66,519.13 L600.12,518.89 L600.57,518.64 L601.03,518.39 L601.48,518.14 L601.93,517.88 L602.39,517.62 L602.84,517.36 L603.29,517.1 L603.75,516.83 L604.2,516.56 L604.66,516.28 L605.11,516.01 L605.56,515.73 L606.02,515.45 L606.47,515.16 L606.92,514.87 L607.38,514.58 L607.83,514.29 L608.29,513.99 L608.74,513.69 L609.19,513.39 L609.65,513.08 L610.1,512.78 L610.55,512.46 L611.01,512.15 L611.46,511.83 L611.92,511.51 L612.37,511.19 L612.82,510.86 L613.28,510.53 L613.73,510.2 L614.18,509.87 L614.64,509.53 L615.09,509.19 L615.55,508.85 L616,508.5" stroke="#e81818" stroke-width="4.4" fill="none" stroke-linejoin="round" stroke-dasharray="9.5 9.5" clip-path="url(#ic3)" stroke-dashoffset="-1"/>
<rect x="504.5" y="493.7" width="109.5" height="43.6" fill="none" stroke="#e04040" stroke-width="1.3"/>
<rect x="51.4" y="392.2" width="681.6" height="147.6" fill="none" stroke="#262626" stroke-width="1.5"/>
<path d="M51.5,539.8 v5.5 M51.5,392.2 v-5.5 M62.5,539.8 v3.5 M62.5,392.2 v-3.5 M74.5,539.8 v3.5 M74.5,392.2 v-3.5 M85.5,539.8 v3.5 M85.5,392.2 v-3.5 M96.5,539.8 v3.5 M96.5,392.2 v-3.5 M108.5,539.8 v5.5 M108.5,392.2 v-5.5 M119.5,539.8 v3.5 M119.5,392.2 v-3.5 M130.5,539.8 v3.5 M130.5,392.2 v-3.5 M142.5,539.8 v3.5 M142.5,392.2 v-3.5 M153.5,539.8 v3.5 M153.5,392.2 v-3.5 M165.5,539.8 v5.5 M165.5,392.2 v-5.5 M176.5,539.8 v3.5 M176.5,392.2 v-3.5 M187.5,539.8 v3.5 M187.5,392.2 v-3.5 M199.5,539.8 v3.5 M199.5,392.2 v-3.5 M210.5,539.8 v3.5 M210.5,392.2 v-3.5 M221.5,539.8 v5.5 M221.5,392.2 v-5.5 M233.5,539.8 v3.5 M233.5,392.2 v-3.5 M244.5,539.8 v3.5 M244.5,392.2 v-3.5 M255.5,539.8 v3.5 M255.5,392.2 v-3.5 M267.5,539.8 v3.5 M267.5,392.2 v-3.5 M278.5,539.8 v5.5 M278.5,392.2 v-5.5 M290.5,539.8 v3.5 M290.5,392.2 v-3.5 M301.5,539.8 v3.5 M301.5,392.2 v-3.5 M312.5,539.8 v3.5 M312.5,392.2 v-3.5 M324.5,539.8 v3.5 M324.5,392.2 v-3.5 M335.5,539.8 v5.5 M335.5,392.2 v-5.5 M346.5,539.8 v3.5 M346.5,392.2 v-3.5 M358.5,539.8 v3.5 M358.5,392.2 v-3.5 M369.5,539.8 v3.5 M369.5,392.2 v-3.5 M380.5,539.8 v3.5 M380.5,392.2 v-3.5 M392.5,539.8 v5.5 M392.5,392.2 v-5.5 M403.5,539.8 v3.5 M403.5,392.2 v-3.5 M415.5,539.8 v3.5 M415.5,392.2 v-3.5 M426.5,539.8 v3.5 M426.5,392.2 v-3.5 M437.5,539.8 v3.5 M437.5,392.2 v-3.5 M449.5,539.8 v5.5 M449.5,392.2 v-5.5 M460.5,539.8 v3.5 M460.5,392.2 v-3.5 M471.5,539.8 v3.5 M471.5,392.2 v-3.5 M483.5,539.8 v3.5 M483.5,392.2 v-3.5 M494.5,539.8 v3.5 M494.5,392.2 v-3.5 M505.5,539.8 v5.5 M505.5,392.2 v-5.5 M517.5,539.8 v3.5 M517.5,392.2 v-3.5 M528.5,539.8 v3.5 M528.5,392.2 v-3.5 M540.5,539.8 v3.5 M540.5,392.2 v-3.5 M551.5,539.8 v3.5 M551.5,392.2 v-3.5 M562.5,539.8 v5.5 M562.5,392.2 v-5.5 M574.5,539.8 v3.5 M574.5,392.2 v-3.5 M585.5,539.8 v3.5 M585.5,392.2 v-3.5 M596.5,539.8 v3.5 M596.5,392.2 v-3.5 M608.5,539.8 v3.5 M608.5,392.2 v-3.5 M619.5,539.8 v5.5 M619.5,392.2 v-5.5 M630.5,539.8 v3.5 M630.5,392.2 v-3.5 M642.5,539.8 v3.5 M642.5,392.2 v-3.5 M653.5,539.8 v3.5 M653.5,392.2 v-3.5 M665.5,539.8 v3.5 M665.5,392.2 v-3.5 M676.5,539.8 v5.5 M676.5,392.2 v-5.5 M687.5,539.8 v3.5 M687.5,392.2 v-3.5 M699.5,539.8 v3.5 M699.5,392.2 v-3.5 M710.5,539.8 v3.5 M710.5,392.2 v-3.5 M721.5,539.8 v3.5 M721.5,392.2 v-3.5 M733.5,539.8 v5.5 M733.5,392.2 v-5.5 M51.4,534.5 h-5.5 M733,534.5 h5.5 M51.4,522.5 h-3.5 M733,522.5 h3.5 M51.4,511.5 h-5.5 M733,511.5 h5.5 M51.4,500.5 h-3.5 M733,500.5 h3.5 M51.4,488.5 h-5.5 M733,488.5 h5.5 M51.4,477.5 h-3.5 M733,477.5 h3.5 M51.4,466.5 h-5.5 M733,466.5 h5.5 M51.4,454.5 h-3.5 M733,454.5 h3.5 M51.4,443.5 h-5.5 M733,443.5 h5.5 M51.4,432.5 h-3.5 M733,432.5 h3.5 M51.4,420.5 h-5.5 M733,420.5 h5.5 M51.4,409.5 h-3.5 M733,409.5 h3.5 M51.4,397.5 h-5.5 M733,397.5 h5.5" stroke="#262626" stroke-width="1.1" fill="none"/>
<text x="51.4" y="557.37" font-size="10.8" text-anchor="middle" fill="#222" stroke="#222" stroke-width="0.25">0</text>
<text x="108.22" y="557.37" font-size="10.8" text-anchor="middle" fill="#222" stroke="#222" stroke-width="0.25">500</text>
<text x="165.03" y="557.37" font-size="10.8" text-anchor="middle" fill="#222" stroke="#222" stroke-width="0.25">1000</text>
<text x="221.84" y="557.37" font-size="10.8" text-anchor="middle" fill="#222" stroke="#222" stroke-width="0.25">1500</text>
<text x="278.66" y="557.37" font-size="10.8" text-anchor="middle" fill="#222" stroke="#222" stroke-width="0.25">2000</text>
<text x="335.47" y="557.37" font-size="10.8" text-anchor="middle" fill="#222" stroke="#222" stroke-width="0.25">2500</text>
<text x="392.29" y="557.37" font-size="10.8" text-anchor="middle" fill="#222" stroke="#222" stroke-width="0.25">3000</text>
<text x="449.1" y="557.37" font-size="10.8" text-anchor="middle" fill="#222" stroke="#222" stroke-width="0.25">3500</text>
<text x="505.92" y="557.37" font-size="10.8" text-anchor="middle" fill="#222" stroke="#222" stroke-width="0.25">4000</text>
<text x="562.74" y="557.37" font-size="10.8" text-anchor="middle" fill="#222" stroke="#222" stroke-width="0.25">4500</text>
<text x="619.55" y="557.37" font-size="10.8" text-anchor="middle" fill="#222" stroke="#222" stroke-width="0.25">5000</text>
<text x="676.36" y="557.37" font-size="10.8" text-anchor="middle" fill="#222" stroke="#222" stroke-width="0.25">5500</text>
<text x="733.18" y="557.37" font-size="10.8" text-anchor="middle" fill="#222" stroke="#222" stroke-width="0.25">6000</text>
<text x="42.2" y="537.13" font-size="10.8" text-anchor="end" fill="#222" stroke="#222" stroke-width="0.25">-600</text>
<text x="42.2" y="514.41" font-size="10.8" text-anchor="end" fill="#222" stroke="#222" stroke-width="0.25">-400</text>
<text x="42.2" y="491.69" font-size="10.8" text-anchor="end" fill="#222" stroke="#222" stroke-width="0.25">-200</text>
<text x="42.2" y="468.97" font-size="10.8" text-anchor="end" fill="#222" stroke="#222" stroke-width="0.25">0</text>
<text x="42.2" y="446.25" font-size="10.8" text-anchor="end" fill="#222" stroke="#222" stroke-width="0.25">200</text>
<text x="42.2" y="423.53" font-size="10.8" text-anchor="end" fill="#222" stroke="#222" stroke-width="0.25">400</text>
<text x="42.2" y="400.81" font-size="10.8" text-anchor="end" fill="#222" stroke="#222" stroke-width="0.25">600</text>
<text x="390.7" y="569.5" font-size="15" text-anchor="middle" font-family="Liberation Serif, serif" fill="#111" stroke="#111" stroke-width="0.2">X (mm)</text>
<text x="17.5" y="468.2" font-size="15" text-anchor="middle" font-family="Liberation Serif, serif" fill="#111" stroke="#111" stroke-width="0.2" transform="rotate(-90 17.5 468.2)">Y (mm)</text>
<text x="759.5" y="542.6" font-size="18" text-anchor="middle" font-family="Liberation Serif, serif" font-weight="bold" fill="#111" stroke="#111" stroke-width="0.2">(c)</text>
<path d="M60.5,583.4 V879.2 M88.5,583.4 V879.2 M116.5,583.4 V879.2 M145.5,583.4 V879.2 M173.5,583.4 V879.2 M202.5,583.4 V879.2 M230.5,583.4 V879.2 M259.5,583.4 V879.2 M287.5,583.4 V879.2 M316.5,583.4 V879.2 M344.5,583.4 V879.2 M54.4,874.5 H350.3 M54.4,845.5 H350.3 M54.4,817.5 H350.3 M54.4,788.5 H350.3 M54.4,760.5 H350.3 M54.4,731.5 H350.3 M54.4,703.5 H350.3 M54.4,674.5 H350.3 M54.4,646.5 H350.3 M54.4,617.5 H350.3 M54.4,589.5 H350.3" stroke="#a8a8a8" stroke-width="1.0" fill="none"/>
<path d="M268.95,607.11 L270.35,607.87 L271.76,608.61 L273.17,609.33 L274.58,610.08 L275.98,610.84 L277.38,611.61 L278.76,612.4 L280.14,613.21 L281.51,614.03 L282.87,614.87 L284.2,615.76 L285.5,616.69 L286.78,617.63 L288.06,618.59 L289.33,619.57 L290.58,620.56 L291.83,621.56 L293.06,622.57 L294.28,623.6 L295.49,624.65 L296.68,625.71 L297.87,626.78 L299.04,627.86 L300.2,628.96 L301.35,630.07 L302.49,631.19 L303.61,632.33 L304.72,633.48 L305.82,634.64 L306.9,635.81 L307.97,637 L309.03,638.2 L310.07,639.41 L311.1,640.63 L312.12,641.86 L313.12,643.1 L314.11,644.36 L315.08,645.62 L316.04,646.9 L316.99,648.19 L317.92,649.49 L318.83,650.8 L319.74,652.12 L320.62,653.45 L321.49,654.79 L322.35,656.13 L323.19,657.49 L324.02,658.86 L324.83,660.24 L325.62,661.63 L326.39,663.03 L327.14,664.44 L327.88,665.85 L328.6,667.28 L329.31,668.71 L330,670.15 L330.67,671.6 L331.33,673.05 L331.97,674.52 L332.6,675.99 L333.2,677.46 L333.79,678.95 L334.37,680.44 L334.93,681.93 L335.47,683.43 L335.99,684.94 L336.5,686.46 L336.99,687.97 L337.46,689.5 L337.92,691.03 L338.35,692.56 L338.77,694.1 L339.18,695.65 L339.56,697.19 L339.93,698.75 L340.28,700.3 L340.62,701.86 L340.93,703.43 L341.23,704.99 L341.51,706.56 L341.77,708.14 L342.02,709.71 L342.24,711.29 L342.45,712.87 L342.65,714.45 L342.82,716.04 L342.98,717.63 L343.11,719.21 L343.23,720.8 L343.34,722.39 L343.42,723.99 L343.49,725.58 L343.53,727.17 L343.57,728.76 L343.58,730.36 L343.58,731.95 L343.57,733.54 L343.54,735.14 L343.5,736.73 L343.43,738.32 L343.35,739.91 L343.26,741.5 L343.14,743.09 L343.01,744.68 L342.85,746.27 L342.68,747.85 L342.5,749.43 L342.29,751.01 L342.07,752.59 L341.83,754.17 L341.57,755.74 L341.29,757.31 L341,758.88 L340.69,760.44 L340.36,762 L340.01,763.56 L339.65,765.11 L339.27,766.66 L338.87,768.2 L338.45,769.74 L338.02,771.27 L337.57,772.8 L337.1,774.33 L336.61,775.85 L336.11,777.36 L335.59,778.87 L335.05,780.37 L334.5,781.86 L333.93,783.35 L333.34,784.84 L332.74,786.31 L332.12,787.78 L331.48,789.24 L330.83,790.7 L330.16,792.15 L329.48,793.59 L328.78,795.02 L328.06,796.44 L327.32,797.86 L326.57,799.27 L325.81,800.67 L325.03,802.06 L324.23,803.44 L323.42,804.81 L322.59,806.18 L321.75,807.53 L320.89,808.88 L320.01,810.21 L319.12,811.54 L318.22,812.85 L317.3,814.16 L316.37,815.45 L315.42,816.74 L314.46,818.01 L313.48,819.27 L312.49,820.52 L311.49,821.76 L310.47,822.99 L309.44,824.21 L308.39,825.41 L307.33,826.61 L306.26,827.79 L305.18,828.96 L304.08,830.12 L302.96,831.26 L301.84,832.39 L300.71,833.52 L299.56,834.63 L298.4,835.72 L297.22,836.81 L296.04,837.88 L294.84,838.93 L293.63,839.97 L292.41,841 L291.18,842.02 L289.94,843.02 L288.68,844.01 L287.41,844.98 L286.14,845.94 L284.85,846.89 L283.55,847.82 L282.24,848.73 L280.92,849.63 L279.59,850.52 L278.25,851.39 L276.91,852.25 L275.55,853.09 L274.18,853.91 L272.8,854.72 L271.42,855.52 L270.02,856.29 L268.62,857.06 L267.2,857.8 L265.78,858.54 L264.35,859.25 L262.91,859.95 L261.47,860.63 L260.02,861.3 L258.56,861.95 L257.09,862.58 L255.61,863.2 L254.13,863.8 L252.64,864.38 L251.15,864.95 L249.65,865.5 L248.14,866.03 L246.62,866.55 L245.1,867.05 L243.58,867.53 L242.05,868 L240.51,868.44 L238.97,868.87 L237.43,869.29 L235.88,869.68 L234.32,870.06 L232.76,870.42 L231.2,870.76 L229.63,871.09 L228.06,871.4 L226.49,871.69 L224.91,871.96 L223.33,872.21 L221.75,872.45 L220.16,872.67 L218.57,872.87 L216.98,873.05 L215.39,873.21 L213.8,873.36 L212.2,873.49 L210.6,873.6 L209.01,873.69 L207.41,873.77 L205.81,873.82 L204.2,873.86 L202.6,873.88 L201,873.88 L199.4,873.86 L197.8,873.82 L196.2,873.76 L194.6,873.68 L193,873.59 L191.4,873.48 L189.8,873.34 L188.21,873.2 L186.62,873.03 L185.02,872.84 L183.44,872.64 L181.85,872.42 L180.27,872.18 L178.68,871.93 L177.11,871.65 L175.53,871.36 L173.96,871.05 L172.39,870.72 L170.83,870.38 L169.27,870.02 L167.71,869.64 L166.16,869.24 L164.61,868.82 L163.07,868.39 L161.53,867.94 L160,867.47 L158.47,866.99 L156.95,866.49 L155.43,865.97 L153.92,865.43 L152.42,864.88 L150.92,864.31 L149.43,863.72 L147.94,863.12 L146.47,862.5 L145,861.86 L143.53,861.21 L142.08,860.54 L140.63,859.85 L139.19,859.15 L137.76,858.43 L136.33,857.7 L134.92,856.95 L133.51,856.18 L132.11,855.4 L130.72,854.6 L129.34,853.79 L127.97,852.96 L126.61,852.11 L125.25,851.25 L123.91,850.38 L122.58,849.49 L121.25,848.58 L119.94,847.66 L118.64,846.72 L117.35,845.77 L116.07,844.81 L114.8,843.83 L113.54,842.84 L112.29,841.83 L111.06,840.81 L109.83,839.78 L108.62,838.73 L107.42,837.67 L106.23,836.59 L105.05,835.5 L103.89,834.4 L102.74,833.28 L101.6,832.15 L100.47,831.01 L99.36,829.86 L98.25,828.69 L97.17,827.51 L96.09,826.32 L95.03,825.12 L93.99,823.91 L92.95,822.68 L91.93,821.44 L90.93,820.19 L89.94,818.93 L88.96,817.66 L88,816.38 L87.05,815.08 L86.11,813.78 L85.2,812.46 L84.29,811.14 L83.4,809.8 L82.53,808.46 L81.67,807.1 L80.83,805.74 L80,804.37 L79.18,802.98 L78.39,801.59 L77.62,800.18 L76.86,798.77 L76.11,797.35 L75.38,795.92 L74.67,794.48 L73.98,793.04 L73.3,791.58 L72.63,790.12 L71.99,788.66 L71.36,787.18 L70.74,785.7 L70.15,784.21 L69.57,782.71 L69.01,781.21 L68.46,779.7 L67.93,778.19 L67.42,776.67 L66.92,775.15 L66.45,773.62 L65.99,772.08 L65.54,770.54 L65.12,768.99 L64.71,767.44 L64.32,765.89 L63.95,764.33 L63.59,762.76 L63.26,761.2 L62.94,759.63 L62.63,758.05 L62.35,756.47 L62.08,754.89 L61.83,753.31 L61.6,751.72 L61.39,750.14 L61.19,748.54 L61.02,746.95 L60.86,745.36 L60.71,743.76 L60.59,742.16 L60.49,740.56 L60.4,738.96 L60.33,737.36 L60.28,735.76 L60.24,734.16 L60.23,732.56 L60.23,730.96 L60.24,729.35 L60.28,727.75 L60.33,726.15 L60.4,724.55 L60.49,722.95 L60.59,721.35 L60.72,719.75 L60.86,718.16 L61.02,716.56 L61.2,714.97 L61.39,713.38 L61.61,711.79 L61.84,710.21 L62.09,708.63 L62.35,707.05 L62.64,705.47 L62.94,703.9 L63.26,702.33 L63.6,700.76 L63.95,699.2 L64.32,697.64 L64.72,696.09 L65.12,694.54 L65.55,692.99 L65.99,691.45 L66.45,689.92 L66.93,688.39 L67.42,686.87 L67.93,685.35 L68.46,683.84 L69.01,682.33 L69.58,680.83 L70.17,679.34 L70.77,677.86 L71.39,676.38 L72.02,674.91 L72.68,673.45 L73.34,671.99 L74.03,670.55 L74.73,669.11 L75.45,667.68 L76.18,666.25 L76.93,664.84 L77.7,663.43 L78.48,662.04 L79.27,660.65 L80.08,659.27 L80.91,657.9 L81.75,656.54 L82.61,655.19 L83.49,653.85 L84.37,652.52 L85.28,651.19 L86.19,649.88 L87.13,648.58 L88.07,647.3 L89.03,646.02 L90.01,644.75 L91,643.49 L92,642.25 L93.02,641.02 L94.05,639.79 L95.1,638.58 L96.16,637.39 L97.23,636.2 L98.31,635.03 L99.41,633.86 L100.52,632.72 L101.65,631.58 L102.78,630.46 L103.93,629.35 L105.09,628.25 L106.27,627.16 L107.45,626.09 L108.65,625.04 L109.86,623.99 L111.08,622.96 L112.31,621.95 L113.56,620.94 L114.81,619.96 L116.08,618.98 L117.35,618.02 L118.64,617.08 L119.94,616.15 L121.25,615.23 L122.56,614.33 L123.89,613.45 L125.23,612.58 L126.58,611.72 L127.93,610.88 L129.3,610.06 L130.68,609.25 L132.06,608.46 L133.46,607.69 L134.87,606.93 L136.28,606.19 L137.7,605.47 L139.13,604.76 L140.57,604.07 L142.02,603.4 L143.47,602.74 L144.93,602.1 L146.39,601.48 L147.87,600.87 L149.35,600.28 L150.83,599.71 L152.33,599.15 L153.82,598.61 L155.33,598.09 L156.84,597.58 L158.35,597.09 L159.87,596.62 L161.4,596.16 L162.93,595.73 L164.47,595.31 L166.01,594.9 L167.55,594.52 L169.1,594.15 L170.65,593.8 L172.2,593.47 L173.76,593.15 L175.33,592.86 L176.89,592.58 L178.46,592.31 L180.03,592.07 L181.6,591.84 L183.18,591.64 L184.76,591.44 L186.34,591.27 L187.92,591.12 L189.5,590.98 L191.08,590.86 L192.67,590.76 L194.25,590.67 L195.84,590.61 L197.43,590.56 L199.02,590.53 L200.6,590.52 L202.19,590.52 L203.78,590.54 L205.36,590.57 L206.95,590.62 L208.53,590.69 L210.12,590.77 L211.7,590.88 L213.28,591 L214.86,591.14 L216.44,591.29 L218.02,591.47 L219.59,591.66 L221.17,591.87 L222.74,592.1 L224.3,592.34 L225.87,592.61 L227.43,592.89 L228.99,593.19 L230.54,593.5 L232.09,593.84 L233.64,594.19 L235.18,594.56 L236.72,594.94 L238.25,595.34 L239.78,595.76 L241.3,596.2 L242.82,596.66 L244.34,597.13 L245.84,597.62 L247.35,598.12 L248.84,598.64 L250.33,599.18 L251.82,599.74 L253.29,600.31 L254.77,600.9 L256.23,601.51 L257.69,602.13 L259.14,602.77 L260.58,603.42 L262.02,604.09 L263.44,604.78 L264.86,605.48 L266.28,606.2 L267.68,606.94 L269.07,607.69 L270.46,608.46" stroke="#222" stroke-width="1.0" fill="none" stroke-linejoin="round" clip-path="url(#cd)"/>
<path d="M270.32,606.99 L271.66,605.24 L272.92,606 L274.17,606.77 L275.41,607.54 L276.64,608.34 L277.87,609.14 L279.09,609.95 L280.3,610.77 L281.51,611.6 L282.7,612.44 L283.89,613.29 L285.07,614.15 L286.24,615.03 L287.4,615.92 L288.55,616.82 L289.69,617.73 L290.82,618.65 L291.95,619.58 L293.06,620.53 L294.16,621.48 L295.25,622.45 L296.34,623.43 L297.41,624.42 L298.47,625.41 L299.52,626.42 L300.56,627.44 L301.59,628.47 L302.61,629.51 L303.62,630.56 L304.62,631.62 L305.61,632.69 L306.59,633.76 L307.56,634.85 L308.52,635.94 L309.47,637.05 L310.4,638.16 L311.33,639.28 L312.24,640.42 L313.14,641.56 L314.03,642.71 L314.9,643.87 L315.77,645.03 L316.62,646.21 L317.46,647.4 L318.29,648.59 L319.1,649.79 L319.91,651 L320.7,652.22 L321.47,653.44 L322.24,654.67 L322.99,655.91 L323.73,657.16 L324.46,658.41 L325.17,659.68 L325.86,660.95 L326.52,662.24 L327.16,663.54 L327.79,664.85 L328.41,666.16 L329.02,667.47 L329.61,668.79 L330.18,670.12 L330.75,671.45 L331.29,672.79 L331.83,674.13 L332.35,675.48 L332.86,676.83 L333.35,678.18 L333.83,679.54 L334.29,680.91 L334.75,682.28 L335.18,683.65 L335.61,685.02 L336.01,686.4 L336.41,687.79 L336.79,689.17 L337.15,690.56 L337.5,691.96 L337.84,693.35 L338.16,694.75 L338.47,696.15 L338.77,697.56 L339.05,698.96 L339.31,700.37 L339.56,701.78 L339.81,703.19 L340.06,704.6 L340.3,706.01 L340.52,707.42 L340.72,708.83 L340.91,710.25 L341.09,711.67 L341.25,713.09 L341.4,714.51 L341.53,715.93 L341.65,717.35 L341.75,718.78 L341.84,720.2 L341.92,721.62 L341.98,723.05 L342.02,724.47 L342.06,725.9 L342.07,727.32 L342.08,728.75 L342.06,730.17 L342.04,731.6 L342.04,733.02 L342.03,734.44 L342,735.87 L341.95,737.29 L341.9,738.71 L341.83,740.13 L341.74,741.56 L341.64,742.98 L341.52,744.4 L341.39,745.81 L341.25,747.23 L341.09,748.65 L340.92,750.06 L340.73,751.47 L340.53,752.88 L340.31,754.29 L340.08,755.7 L339.84,757.1 L339.58,758.5 L339.31,759.9 L339.03,761.3 L338.76,762.7 L338.47,764.1 L338.17,765.49 L337.86,766.88 L337.53,768.27 L337.18,769.66 L336.83,771.04 L336.45,772.42 L336.07,773.8 L335.67,775.17 L335.25,776.54 L334.83,777.9 L334.38,779.26 L333.93,780.62 L333.46,781.97 L332.97,783.32 L332.47,784.66 L331.96,786 L331.44,787.33 L330.9,788.66 L330.35,789.98 L329.78,791.3 L329.2,792.61 L328.61,793.92 L328,795.22 L327.38,796.51 L326.75,797.8 L326.1,799.08 L325.44,800.36 L324.77,801.63 L324.08,802.89 L323.38,804.15 L322.67,805.4 L321.95,806.64 L321.21,807.88 L320.46,809.11 L319.69,810.33 L318.92,811.54 L318.13,812.74 L317.33,813.94 L316.52,815.13 L315.69,816.31 L314.86,817.49 L314.01,818.65 L313.14,819.81 L312.27,820.96 L311.39,822.1 L310.48,823.22 L309.56,824.33 L308.62,825.43 L307.67,826.52 L306.71,827.6 L305.74,828.67 L304.76,829.73 L303.77,830.78 L302.77,831.82 L301.76,832.85 L300.73,833.87 L299.7,834.88 L298.66,835.88 L297.6,836.87 L296.54,837.85 L295.46,838.81 L294.38,839.77 L293.28,840.71 L292.18,841.65 L291.07,842.57 L289.94,843.48 L288.81,844.38 L287.67,845.27 L286.52,846.15 L285.36,847.01 L284.19,847.87 L283.01,848.71 L281.83,849.54 L280.63,850.36 L279.43,851.16 L278.22,851.96 L277,852.74 L275.77,853.51 L274.54,854.26 L273.3,855.01 L272.04,855.73 L270.78,856.45 L269.51,857.15 L268.24,857.83 L266.96,858.51 L265.67,859.17 L264.37,859.82 L263.07,860.46 L261.76,861.08 L260.45,861.69 L259.12,862.28 L257.8,862.87 L256.46,863.43 L255.12,863.99 L253.78,864.53 L252.43,865.06 L251.07,865.57 L249.71,866.07 L248.35,866.56 L246.97,867.03 L245.6,867.49 L244.22,867.94 L242.83,868.37 L241.44,868.78 L240.05,869.19 L238.65,869.57 L237.25,869.95 L235.84,870.31 L234.43,870.65 L233.02,870.98 L231.6,871.3 L230.18,871.6 L228.76,871.89 L227.33,872.16 L225.9,872.42 L224.47,872.67 L223.04,872.89 L221.6,873.11 L220.16,873.31 L218.72,873.5 L217.28,873.67 L215.84,873.82 L214.39,873.96 L212.94,874.09 L211.49,874.2 L210.04,874.3 L208.59,874.38 L207.14,874.45 L205.69,874.5 L204.24,874.54 L202.78,874.57 L201.33,874.56 L199.87,874.54 L198.42,874.5 L196.97,874.45 L195.52,874.38 L194.07,874.3 L192.62,874.2 L191.17,874.09 L189.72,873.97 L188.27,873.82 L186.83,873.67 L185.38,873.5 L183.94,873.31 L182.5,873.11 L181.07,872.9 L179.63,872.67 L178.2,872.43 L176.77,872.17 L175.34,871.9 L173.92,871.61 L172.5,871.31 L171.08,870.99 L169.66,870.66 L168.25,870.31 L166.85,869.96 L165.44,869.58 L164.04,869.19 L162.65,868.79 L161.26,868.38 L159.87,867.94 L158.49,867.5 L157.11,867.04 L155.73,866.57 L154.37,866.08 L153,865.58 L151.65,865.07 L150.29,864.54 L148.95,864 L147.6,863.44 L146.27,862.87 L144.94,862.29 L143.62,861.69 L142.3,861.08 L140.99,860.46 L139.68,859.83 L138.38,859.18 L137.09,858.51 L135.81,857.84 L134.53,857.15 L133.26,856.45 L132,855.73 L130.74,855.01 L129.49,854.26 L128.25,853.51 L127.02,852.74 L125.8,851.96 L124.58,851.17 L123.37,850.37 L122.17,849.55 L120.98,848.72 L119.8,847.88 L118.62,847.03 L117.46,846.17 L116.3,845.29 L115.16,844.4 L114.02,843.5 L112.89,842.59 L111.77,841.67 L110.66,840.74 L109.56,839.79 L108.47,838.84 L107.39,837.87 L106.32,836.89 L105.26,835.9 L104.2,834.91 L103.16,833.9 L102.13,832.88 L101.11,831.84 L100.11,830.8 L99.11,829.75 L98.12,828.69 L97.14,827.62 L96.18,826.54 L95.22,825.45 L94.28,824.35 L93.35,823.24 L92.43,822.12 L91.52,820.99 L90.62,819.85 L89.73,818.71 L88.86,817.55 L88.02,816.37 L87.2,815.17 L86.4,813.97 L85.6,812.76 L84.82,811.54 L84.06,810.31 L83.3,809.07 L82.56,807.83 L81.83,806.58 L81.11,805.33 L80.41,804.07 L79.72,802.8 L79.06,801.51 L78.42,800.22 L77.79,798.92 L77.18,797.61 L76.58,796.3 L75.99,794.99 L75.42,793.66 L74.86,792.34 L74.31,791 L73.78,789.67 L73.26,788.33 L72.76,786.98 L72.27,785.63 L71.79,784.28 L71.33,782.92 L70.88,781.56 L70.45,780.19 L70.03,778.82 L69.62,777.45 L69.23,776.07 L68.85,774.69 L68.49,773.31 L68.14,771.92 L67.81,770.53 L67.49,769.14 L67.18,767.75 L66.89,766.35 L66.62,764.95 L66.35,763.55 L66.11,762.15 L65.88,760.74 L65.67,759.34 L65.47,757.93 L65.29,756.52 L65.12,755.11 L64.97,753.7 L64.83,752.28 L64.7,750.87 L64.59,749.46 L64.5,748.05 L64.41,746.63 L64.35,745.22 L64.29,743.81 L64.26,742.39 L64.23,740.98 L64.22,739.57 L64.23,738.16 L64.24,736.75 L64.28,735.34 L64.33,733.93 L64.39,732.53 L64.46,731.12 L64.52,729.72 L64.61,728.32 L64.7,726.92 L64.81,725.52 L64.93,724.12 L65.07,722.73 L65.22,721.33 L65.39,719.94 L65.57,718.55 L65.76,717.17 L65.97,715.78 L66.19,714.4 L66.43,713.02 L66.68,711.65 L66.94,710.28 L67.22,708.91 L67.51,707.54 L67.82,706.18 L68.14,704.82 L68.47,703.47 L68.81,702.12 L69.17,700.77 L69.54,699.43 L69.92,698.09 L70.32,696.76 L70.73,695.43 L71.15,694.1 L71.59,692.79 L72.04,691.47 L72.5,690.16 L72.98,688.86 L73.47,687.56 L73.97,686.27 L74.49,684.98 L75.01,683.7 L75.55,682.42 L76.11,681.15 L76.67,679.89 L77.25,678.63 L77.83,677.37 L78.41,676.12 L79.01,674.87 L79.62,673.63 L80.24,672.4 L80.87,671.17 L81.52,669.95 L82.17,668.74 L82.84,667.53 L83.53,666.33 L84.22,665.14 L84.93,663.95 L85.65,662.78 L86.38,661.61 L87.12,660.44 L87.87,659.29 L88.64,658.14 L89.41,657.01 L90.2,655.88 L91,654.75 L91.81,653.64 L92.63,652.54 L93.46,651.44 L94.31,650.35 L95.16,649.28 L96.02,648.21 L96.9,647.15 L97.79,646.1 L98.68,645.05 L99.59,644.02 L100.51,643 L101.43,641.99 L102.37,640.98 L103.32,639.99 L104.28,639.01 L105.24,638.04 L106.22,637.07 L107.21,636.12 L108.2,635.18 L109.21,634.24 L110.22,633.32 L111.24,632.41 L112.28,631.51 L113.32,630.62 L114.37,629.74 L115.43,628.87 L116.49,628.02 L117.57,627.17 L118.65,626.34 L119.74,625.51 L120.84,624.7 L121.95,623.9 L123.07,623.11 L124.19,622.33 L125.32,621.57 L126.46,620.81 L127.61,620.07 L128.76,619.34 L129.92,618.63 L131.1,617.93 L132.28,617.25 L133.47,616.58 L134.66,615.92 L135.86,615.27 L137.06,614.64 L138.28,614.01 L139.49,613.4 L140.72,612.81 L141.94,612.22 L143.18,611.65 L144.42,611.09 L145.66,610.55 L146.9,609.99 L148.14,609.43 L149.38,608.88 L150.63,608.35 L151.89,607.83 L153.15,607.33 L154.42,606.84 L155.69,606.36 L156.96,605.89 L158.24,605.43 L159.53,604.99 L160.82,604.57 L162.11,604.15 L163.41,603.75 L164.71,603.36 L166.01,602.99 L167.32,602.62 L168.64,602.28 L169.95,601.94 L171.27,601.62 L172.59,601.31 L173.92,601.02 L175.25,600.74 L176.58,600.47 L177.91,600.21 L179.25,599.97 L180.59,599.75 L181.93,599.53 L183.27,599.34 L184.62,599.15 L185.97,598.98 L187.31,598.82 L188.66,598.67 L190.02,598.54 L191.37,598.43 L192.72,598.32 L194.08,598.23 L195.43,598.16 L196.79,598.1 L198.15,598.05 L199.5,598.02 L200.86,598 L202.22,597.99 L203.58,598 L204.93,598.02 L206.29,598.05 L207.65,598.1 L209,598.16 L210.36,598.24 L211.71,598.33 L213.07,598.43 L214.42,598.55 L215.77,598.68 L217.12,598.83 L218.47,598.99 L219.82,599.16 L221.16,599.35 L222.5,599.55 L223.84,599.76 L225.18,599.99 L226.52,600.23 L227.85,600.48 L229.18,600.75 L230.51,601.03 L231.84,601.33 L233.16,601.64 L234.48,601.96 L235.79,602.29 L237.1,602.64 L238.41,603.01 L239.72,603.38 L241.02,603.77 L242.31,604.17 L243.61,604.59 L244.89,605.02 L246.18,605.46 L247.46,605.91 L248.73,606.38 L250,606.86 L251.26,607.35 L252.52,607.86 L253.78,608.38 L255.03,608.91 L256.27,609.45 L257.51,610.01 L258.74,610.58 L259.97,611.16 L261.19,611.76 L262.4,612.37 L263.61,612.98 L264.81,613.62 L266.01,614.26 L267.19,614.92 L268.38,615.58" stroke="#7474ea" stroke-width="1.3" fill="none" stroke-linejoin="round" clip-path="url(#cd)"/>
<path d="M344.6,731.55 L344.59,729.89 L344.56,728.24 L344.51,726.58 L344.45,724.92 L344.36,723.27 L344.25,721.61 L344.13,719.96 L343.98,718.31 L343.82,716.66 L343.64,715.01 L343.44,713.37 L343.22,711.72 L342.98,710.08 L342.72,708.45 L342.44,706.81 L342.14,705.18 L341.83,703.56 L341.49,701.93 L341.14,700.31 L340.76,698.7 L340.37,697.09 L339.96,695.48 L339.53,693.88 L339.09,692.29 L338.62,690.69 L338.14,689.11 L337.64,687.53 L337.11,685.96 L336.58,684.39 L336.02,682.83 L335.44,681.28 L334.85,679.73 L334.24,678.19 L333.61,676.65 L332.96,675.13 L332.3,673.61 L331.62,672.1 L330.92,670.6 L330.2,669.1 L329.46,667.62 L328.71,666.14 L327.94,664.67 L327.16,663.21 L326.35,661.77 L325.54,660.32 L324.7,658.89 L323.85,657.47 L322.98,656.06 L322.09,654.66 L321.19,653.27 L320.27,651.89 L319.34,650.52 L318.39,649.17 L317.42,647.82 L316.44,646.48 L315.45,645.16 L314.43,643.85 L313.41,642.55 L312.37,641.26 L311.31,639.98 L310.24,638.72 L309.15,637.47 L308.05,636.23 L306.93,635.01 L305.81,633.79 L304.66,632.6 L303.5,631.41 L302.33,630.24 L301.15,629.08 L299.95,627.94 L298.74,626.81 L297.52,625.69 L296.28,624.59 L295.03,623.5 L293.77,622.43 L292.49,621.37 L291.21,620.33 L289.91,619.3 L288.6,618.29 L287.28,617.29 L285.94,616.31 L284.6,615.34 L283.24,614.39 L281.87,613.45 L280.5,612.53 L279.11,611.63 L277.71,610.75 L276.3,609.88 L274.88,609.02 L273.45,608.18 L272.01,607.36 L270.56,606.56 L269.11,605.77 L267.64,605 L266.16,604.25 L264.68,603.52 L263.19,602.8 L261.69,602.1 L260.18,601.42 L258.66,600.75 L257.14,600.1 L255.61,599.47 L254.07,598.86 L252.52,598.27 L250.97,597.69 L249.41,597.13 L247.84,596.59 L246.27,596.07 L244.7,595.57 L243.11,595.08 L241.52,594.62 L239.93,594.17 L238.33,593.74 L236.73,593.33 L235.12,592.94 L233.5,592.57 L231.89,592.21 L230.26,591.88 L228.64,591.56 L227.01,591.26 L225.38,590.99 L223.74,590.73 L222.1,590.49 L220.46,590.27 L218.82,590.06 L217.17,589.88 L215.53,589.72 L213.88,589.57 L212.23,589.45 L210.57,589.34 L208.92,589.25 L207.27,589.19 L205.61,589.14 L203.96,589.11 L202.3,589.1 L200.64,589.11 L198.99,589.14 L197.33,589.19 L195.68,589.25 L194.03,589.34 L192.37,589.45 L190.72,589.57 L189.07,589.72 L187.43,589.88 L185.78,590.06 L184.14,590.27 L182.5,590.49 L180.86,590.73 L179.22,590.99 L177.59,591.26 L175.96,591.56 L174.34,591.88 L172.71,592.21 L171.1,592.57 L169.48,592.94 L167.87,593.33 L166.27,593.74 L164.67,594.17 L163.08,594.62 L161.49,595.08 L159.9,595.57 L158.33,596.07 L156.76,596.59 L155.19,597.13 L153.63,597.69 L152.08,598.27 L150.53,598.86 L148.99,599.47 L147.46,600.1 L145.94,600.75 L144.42,601.42 L142.91,602.1 L141.41,602.8 L139.92,603.52 L138.44,604.25 L136.96,605 L135.49,605.77 L134.04,606.56 L132.59,607.36 L131.15,608.18 L129.72,609.02 L128.3,609.88 L126.89,610.75 L125.49,611.63 L124.1,612.53 L122.73,613.45 L121.36,614.39 L120,615.34 L118.66,616.31 L117.32,617.29 L116,618.29 L114.69,619.3 L113.39,620.33 L112.11,621.37 L110.83,622.43 L109.57,623.5 L108.32,624.59 L107.08,625.69 L105.86,626.81 L104.65,627.94 L103.45,629.08 L102.27,630.24 L101.1,631.41 L99.94,632.6 L98.79,633.79 L97.67,635.01 L96.55,636.23 L95.45,637.47 L94.36,638.72 L93.29,639.98 L92.23,641.26 L91.19,642.55 L90.17,643.85 L89.15,645.16 L88.16,646.48 L87.18,647.82 L86.21,649.17 L85.26,650.52 L84.33,651.89 L83.41,653.27 L82.51,654.66 L81.62,656.06 L80.75,657.47 L79.9,658.89 L79.06,660.32 L78.25,661.77 L77.44,663.21 L76.66,664.67 L75.89,666.14 L75.14,667.62 L74.4,669.1 L73.68,670.6 L72.98,672.1 L72.3,673.61 L71.64,675.13 L70.99,676.65 L70.36,678.19 L69.75,679.73 L69.16,681.28 L68.58,682.83 L68.02,684.39 L67.49,685.96 L66.96,687.53 L66.46,689.11 L65.98,690.69 L65.51,692.29 L65.07,693.88 L64.64,695.48 L64.23,697.09 L63.84,698.7 L63.46,700.31 L63.11,701.93 L62.77,703.56 L62.46,705.18 L62.16,706.81 L61.88,708.45 L61.62,710.08 L61.38,711.72 L61.16,713.37 L60.96,715.01 L60.78,716.66 L60.62,718.31 L60.47,719.96 L60.35,721.61 L60.24,723.27 L60.15,724.92 L60.09,726.58 L60.04,728.24 L60.01,729.89 L60,731.55 L60.01,733.21 L60.04,734.86 L60.09,736.52 L60.15,738.18 L60.24,739.83 L60.35,741.49 L60.47,743.14 L60.62,744.79 L60.78,746.44 L60.96,748.09 L61.16,749.73 L61.38,751.38 L61.62,753.02 L61.88,754.65 L62.16,756.29 L62.46,757.92 L62.77,759.54 L63.11,761.17 L63.46,762.79 L63.84,764.4 L64.23,766.01 L64.64,767.62 L65.07,769.22 L65.51,770.81 L65.98,772.41 L66.46,773.99 L66.96,775.57 L67.49,777.14 L68.02,778.71 L68.58,780.27 L69.16,781.82 L69.75,783.37 L70.36,784.91 L70.99,786.45 L71.64,787.97 L72.3,789.49 L72.98,791 L73.68,792.5 L74.4,794 L75.14,795.48 L75.89,796.96 L76.66,798.43 L77.44,799.89 L78.25,801.33 L79.06,802.77 L79.9,804.21 L80.75,805.63 L81.62,807.04 L82.51,808.44 L83.41,809.83 L84.33,811.21 L85.26,812.58 L86.21,813.93 L87.18,815.28 L88.16,816.62 L89.15,817.94 L90.17,819.25 L91.19,820.55 L92.23,821.84 L93.29,823.12 L94.36,824.38 L95.45,825.63 L96.55,826.87 L97.67,828.09 L98.79,829.31 L99.94,830.5 L101.1,831.69 L102.27,832.86 L103.45,834.02 L104.65,835.16 L105.86,836.29 L107.08,837.41 L108.32,838.51 L109.57,839.6 L110.83,840.67 L112.11,841.73 L113.39,842.77 L114.69,843.8 L116,844.81 L117.32,845.81 L118.66,846.79 L120,847.76 L121.36,848.71 L122.73,849.65 L124.1,850.57 L125.49,851.47 L126.89,852.35 L128.3,853.22 L129.72,854.08 L131.15,854.92 L132.59,855.74 L134.04,856.54 L135.49,857.33 L136.96,858.1 L138.44,858.85 L139.92,859.58 L141.41,860.3 L142.91,861 L144.42,861.68 L145.94,862.35 L147.46,863 L148.99,863.63 L150.53,864.24 L152.08,864.83 L153.63,865.41 L155.19,865.97 L156.76,866.51 L158.33,867.03 L159.9,867.53 L161.49,868.02 L163.08,868.48 L164.67,868.93 L166.27,869.36 L167.87,869.77 L169.48,870.16 L171.1,870.53 L172.71,870.89 L174.34,871.22 L175.96,871.54 L177.59,871.84 L179.22,872.11 L180.86,872.37 L182.5,872.61 L184.14,872.83 L185.78,873.04 L187.43,873.22 L189.07,873.38 L190.72,873.53 L192.37,873.65 L194.03,873.76 L195.68,873.85 L197.33,873.91 L198.99,873.96 L200.64,873.99 L202.3,874 L203.96,873.99 L205.61,873.96 L207.27,873.91 L208.92,873.85 L210.57,873.76 L212.23,873.65 L213.88,873.53 L215.53,873.38 L217.17,873.22 L218.82,873.04 L220.46,872.83 L222.1,872.61 L223.74,872.37 L225.38,872.11 L227.01,871.84 L228.64,871.54 L230.26,871.22 L231.89,870.89 L233.5,870.53 L235.12,870.16 L236.73,869.77 L238.33,869.36 L239.93,868.93 L241.52,868.48 L243.11,868.02 L244.7,867.53 L246.27,867.03 L247.84,866.51 L249.41,865.97 L250.97,865.41 L252.52,864.83 L254.07,864.24 L255.61,863.63 L257.14,863 L258.66,862.35 L260.18,861.68 L261.69,861 L263.19,860.3 L264.68,859.58 L266.16,858.85 L267.64,858.1 L269.11,857.33 L270.56,856.54 L272.01,855.74 L273.45,854.92 L274.88,854.08 L276.3,853.22 L277.71,852.35 L279.11,851.47 L280.5,850.57 L281.87,849.65 L283.24,848.71 L284.6,847.76 L285.94,846.79 L287.28,845.81 L288.6,844.81 L289.91,843.8 L291.21,842.77 L292.49,841.73 L293.77,840.67 L295.03,839.6 L296.28,838.51 L297.52,837.41 L298.74,836.29 L299.95,835.16 L301.15,834.02 L302.33,832.86 L303.5,831.69 L304.66,830.5 L305.81,829.31 L306.93,828.09 L308.05,826.87 L309.15,825.63 L310.24,824.38 L311.31,823.12 L312.37,821.84 L313.41,820.55 L314.43,819.25 L315.45,817.94 L316.44,816.62 L317.42,815.28 L318.39,813.93 L319.34,812.58 L320.27,811.21 L321.19,809.83 L322.09,808.44 L322.98,807.04 L323.85,805.63 L324.7,804.21 L325.54,802.77 L326.35,801.33 L327.16,799.89 L327.94,798.43 L328.71,796.96 L329.46,795.48 L330.2,794 L330.92,792.5 L331.62,791 L332.3,789.49 L332.96,787.97 L333.61,786.45 L334.24,784.91 L334.85,783.37 L335.44,781.82 L336.02,780.27 L336.58,778.71 L337.11,777.14 L337.64,775.57 L338.14,773.99 L338.62,772.41 L339.09,770.81 L339.53,769.22 L339.96,767.62 L340.37,766.01 L340.76,764.4 L341.14,762.79 L341.49,761.17 L341.83,759.54 L342.14,757.92 L342.44,756.29 L342.72,754.65 L342.98,753.02 L343.22,751.38 L343.44,749.73 L343.64,748.09 L343.82,746.44 L343.98,744.79 L344.13,743.14 L344.25,741.49 L344.36,739.83 L344.45,738.18 L344.51,736.52 L344.56,734.86 L344.59,733.21 L344.6,731.55" stroke="#d22828" stroke-width="1.3" fill="none" stroke-linejoin="round" stroke-dasharray="1.8 1.5" clip-path="url(#cd)"/>
<rect x="54.4" y="583.4" width="295.9" height="295.8" fill="none" stroke="#262626" stroke-width="1.3"/>
<path d="M54.5,879.2 v2.4 M54.5,583.4 v-2.4 M60.5,879.2 v4.4 M60.5,583.4 v-4.4 M65.5,879.2 v2.4 M65.5,583.4 v-2.4 M71.5,879.2 v2.4 M71.5,583.4 v-2.4 M77.5,879.2 v2.4 M77.5,583.4 v-2.4 M82.5,879.2 v2.4 M82.5,583.4 v-2.4 M88.5,879.2 v4.4 M88.5,583.4 v-4.4 M94.5,879.2 v2.4 M94.5,583.4 v-2.4 M99.5,879.2 v2.4 M99.5,583.4 v-2.4 M105.5,879.2 v2.4 M105.5,583.4 v-2.4 M111.5,879.2 v2.4 M111.5,583.4 v-2.4 M116.5,879.2 v4.4 M116.5,583.4 v-4.4 M122.5,879.2 v2.4 M122.5,583.4 v-2.4 M128.5,879.2 v2.4 M128.5,583.4 v-2.4 M133.5,879.2 v2.4 M133.5,583.4 v-2.4 M139.5,879.2 v2.4 M139.5,583.4 v-2.4 M145.5,879.2 v4.4 M145.5,583.4 v-4.4 M151.5,879.2 v2.4 M151.5,583.4 v-2.4 M156.5,879.2 v2.4 M156.5,583.4 v-2.4 M162.5,879.2 v2.4 M162.5,583.4 v-2.4 M168.5,879.2 v2.4 M168.5,583.4 v-2.4 M173.5,879.2 v4.4 M173.5,583.4 v-4.4 M179.5,879.2 v2.4 M179.5,583.4 v-2.4 M185.5,879.2 v2.4 M185.5,583.4 v-2.4 M190.5,879.2 v2.4 M190.5,583.4 v-2.4 M196.5,879.2 v2.4 M196.5,583.4 v-2.4 M202.5,879.2 v4.4 M202.5,583.4 v-4.4 M207.5,879.2 v2.4 M207.5,583.4 v-2.4 M213.5,879.2 v2.4 M213.5,583.4 v-2.4 M219.5,879.2 v2.4 M219.5,583.4 v-2.4 M225.5,879.2 v2.4 M225.5,583.4 v-2.4 M230.5,879.2 v4.4 M230.5,583.4 v-4.4 M236.5,879.2 v2.4 M236.5,583.4 v-2.4 M242.5,879.2 v2.4 M242.5,583.4 v-2.4 M247.5,879.2 v2.4 M247.5,583.4 v-2.4 M253.5,879.2 v2.4 M253.5,583.4 v-2.4 M259.5,879.2 v4.4 M259.5,583.4 v-4.4 M264.5,879.2 v2.4 M264.5,583.4 v-2.4 M270.5,879.2 v2.4 M270.5,583.4 v-2.4 M276.5,879.2 v2.4 M276.5,583.4 v-2.4 M281.5,879.2 v2.4 M281.5,583.4 v-2.4 M287.5,879.2 v4.4 M287.5,583.4 v-4.4 M293.5,879.2 v2.4 M293.5,583.4 v-2.4 M299.5,879.2 v2.4 M299.5,583.4 v-2.4 M304.5,879.2 v2.4 M304.5,583.4 v-2.4 M310.5,879.2 v2.4 M310.5,583.4 v-2.4 M316.5,879.2 v4.4 M316.5,583.4 v-4.4 M321.5,879.2 v2.4 M321.5,583.4 v-2.4 M327.5,879.2 v2.4 M327.5,583.4 v-2.4 M333.5,879.2 v2.4 M333.5,583.4 v-2.4 M338.5,879.2 v2.4 M338.5,583.4 v-2.4 M344.5,879.2 v4.4 M344.5,583.4 v-4.4 M350.5,879.2 v2.4 M350.5,583.4 v-2.4 M54.4,879.5 h-2.4 M350.3,879.5 h2.4 M54.4,874.5 h-4.4 M350.3,874.5 h4.4 M54.4,868.5 h-2.4 M350.3,868.5 h2.4 M54.4,862.5 h-2.4 M350.3,862.5 h2.4 M54.4,856.5 h-2.4 M350.3,856.5 h2.4 M54.4,851.5 h-2.4 M350.3,851.5 h2.4 M54.4,845.5 h-4.4 M350.3,845.5 h4.4 M54.4,839.5 h-2.4 M350.3,839.5 h2.4 M54.4,834.5 h-2.4 M350.3,834.5 h2.4 M54.4,828.5 h-2.4 M350.3,828.5 h2.4 M54.4,822.5 h-2.4 M350.3,822.5 h2.4 M54.4,817.5 h-4.4 M350.3,817.5 h4.4 M54.4,811.5 h-2.4 M350.3,811.5 h2.4 M54.4,805.5 h-2.4 M350.3,805.5 h2.4 M54.4,799.5 h-2.4 M350.3,799.5 h2.4 M54.4,794.5 h-2.4 M350.3,794.5 h2.4 M54.4,788.5 h-4.4 M350.3,788.5 h4.4 M54.4,782.5 h-2.4 M350.3,782.5 h2.4 M54.4,777.5 h-2.4 M350.3,777.5 h2.4 M54.4,771.5 h-2.4 M350.3,771.5 h2.4 M54.4,765.5 h-2.4 M350.3,765.5 h2.4 M54.4,760.5 h-4.4 M350.3,760.5 h4.4 M54.4,754.5 h-2.4 M350.3,754.5 h2.4 M54.4,748.5 h-2.4 M350.3,748.5 h2.4 M54.4,742.5 h-2.4 M350.3,742.5 h2.4 M54.4,737.5 h-2.4 M350.3,737.5 h2.4 M54.4,731.5 h-4.4 M350.3,731.5 h4.4 M54.4,725.5 h-2.4 M350.3,725.5 h2.4 M54.4,720.5 h-2.4 M350.3,720.5 h2.4 M54.4,714.5 h-2.4 M350.3,714.5 h2.4 M54.4,708.5 h-2.4 M350.3,708.5 h2.4 M54.4,703.5 h-4.4 M350.3,703.5 h4.4 M54.4,697.5 h-2.4 M350.3,697.5 h2.4 M54.4,691.5 h-2.4 M350.3,691.5 h2.4 M54.4,685.5 h-2.4 M350.3,685.5 h2.4 M54.4,680.5 h-2.4 M350.3,680.5 h2.4 M54.4,674.5 h-4.4 M350.3,674.5 h4.4 M54.4,668.5 h-2.4 M350.3,668.5 h2.4 M54.4,663.5 h-2.4 M350.3,663.5 h2.4 M54.4,657.5 h-2.4 M350.3,657.5 h2.4 M54.4,651.5 h-2.4 M350.3,651.5 h2.4 M54.4,646.5 h-4.4 M350.3,646.5 h4.4 M54.4,640.5 h-2.4 M350.3,640.5 h2.4 M54.4,634.5 h-2.4 M350.3,634.5 h2.4 M54.4,628.5 h-2.4 M350.3,628.5 h2.4 M54.4,623.5 h-2.4 M350.3,623.5 h2.4 M54.4,617.5 h-4.4 M350.3,617.5 h4.4 M54.4,611.5 h-2.4 M350.3,611.5 h2.4 M54.4,606.5 h-2.4 M350.3,606.5 h2.4 M54.4,600.5 h-2.4 M350.3,600.5 h2.4 M54.4,594.5 h-2.4 M350.3,594.5 h2.4 M54.4,589.5 h-4.4 M350.3,589.5 h4.4 M54.4,583.5 h-2.4 M350.3,583.5 h2.4" stroke="#262626" stroke-width="1.0" fill="none"/>
<text x="60" y="894.69" font-size="8.9" text-anchor="middle" fill="#222" stroke="#222" stroke-width="0.25">-2500</text>
<text x="88.46" y="894.69" font-size="8.9" text-anchor="middle" fill="#222" stroke="#222" stroke-width="0.25">-2000</text>
<text x="116.92" y="894.69" font-size="8.9" text-anchor="middle" fill="#222" stroke="#222" stroke-width="0.25">-1500</text>
<text x="145.38" y="894.69" font-size="8.9" text-anchor="middle" fill="#222" stroke="#222" stroke-width="0.25">-1000</text>
<text x="173.84" y="894.69" font-size="8.9" text-anchor="middle" fill="#222" stroke="#222" stroke-width="0.25">-500</text>
<text x="202.3" y="894.69" font-size="8.9" text-anchor="middle" fill="#222" stroke="#222" stroke-width="0.25">0</text>
<text x="230.76" y="894.69" font-size="8.9" text-anchor="middle" fill="#222" stroke="#222" stroke-width="0.25">500</text>
<text x="259.22" y="894.69" font-size="8.9" text-anchor="middle" fill="#222" stroke="#222" stroke-width="0.25">1000</text>
<text x="287.68" y="894.69" font-size="8.9" text-anchor="middle" fill="#222" stroke="#222" stroke-width="0.25">1500</text>
<text x="316.14" y="894.69" font-size="8.9" text-anchor="middle" fill="#222" stroke="#222" stroke-width="0.25">2000</text>
<text x="344.6" y="894.69" font-size="8.9" text-anchor="middle" fill="#222" stroke="#222" stroke-width="0.25">2500</text>
<text x="45.5" y="877.19" font-size="8.9" text-anchor="end" fill="#222" stroke="#222" stroke-width="0.25">-2500</text>
<text x="45.5" y="848.7" font-size="8.9" text-anchor="end" fill="#222" stroke="#222" stroke-width="0.25">-2000</text>
<text x="45.5" y="820.21" font-size="8.9" text-anchor="end" fill="#222" stroke="#222" stroke-width="0.25">-1500</text>
<text x="45.5" y="791.72" font-size="8.9" text-anchor="end" fill="#222" stroke="#222" stroke-width="0.25">-1000</text>
<text x="45.5" y="763.23" font-size="8.9" text-anchor="end" fill="#222" stroke="#222" stroke-width="0.25">-500</text>
<text x="45.5" y="734.74" font-size="8.9" text-anchor="end" fill="#222" stroke="#222" stroke-width="0.25">0</text>
<text x="45.5" y="706.25" font-size="8.9" text-anchor="end" fill="#222" stroke="#222" stroke-width="0.25">500</text>
<text x="45.5" y="677.76" font-size="8.9" text-anchor="end" fill="#222" stroke="#222" stroke-width="0.25">1000</text>
<text x="45.5" y="649.27" font-size="8.9" text-anchor="end" fill="#222" stroke="#222" stroke-width="0.25">1500</text>
<text x="45.5" y="620.78" font-size="8.9" text-anchor="end" fill="#222" stroke="#222" stroke-width="0.25">2000</text>
<text x="45.5" y="592.29" font-size="8.9" text-anchor="end" fill="#222" stroke="#222" stroke-width="0.25">2500</text>
<text x="194.6" y="909.8" font-size="15.5" text-anchor="middle" font-family="Liberation Serif, serif" fill="#111" stroke="#111" stroke-width="0.2">X (mm)</text>
<text x="18.2" y="738" font-size="15.5" text-anchor="middle" font-family="Liberation Serif, serif" fill="#111" stroke="#111" stroke-width="0.2" transform="rotate(-90 18.2 738)">Y (mm)</text>
<text x="198.4" y="929.4" font-size="18" text-anchor="middle" font-family="Liberation Serif, serif" font-weight="bold" fill="#111" stroke="#111" stroke-width="0.2">(d)</text>
<path d="M440.5,583.5 V878.5 M469.5,583.5 V878.5 M497.5,583.5 V878.5 M525.5,583.5 V878.5 M554.5,583.5 V878.5 M582.5,583.5 V878.5 M611.5,583.5 V878.5 M639.5,583.5 V878.5 M667.5,583.5 V878.5 M696.5,583.5 V878.5 M724.5,583.5 V878.5 M435.4,873.5 H730.4 M435.4,844.5 H730.4 M435.4,816.5 H730.4 M435.4,788.5 H730.4 M435.4,759.5 H730.4 M435.4,731.5 H730.4 M435.4,702.5 H730.4 M435.4,674.5 H730.4 M435.4,645.5 H730.4 M435.4,617.5 H730.4 M435.4,589.5 H730.4" stroke="#d9d9d9" stroke-width="1.0" fill="none"/>
<path d="M624.78,590.71 L622.41,590.53 L620.02,590.36 L617.63,590.2 L615.22,590.05 L612.8,589.92 L610.38,589.79 L607.94,589.67 L605.5,589.57 L603.05,589.47 L600.59,589.39 L598.13,589.31 L595.67,589.25 L593.2,589.2 L590.72,589.16 L588.25,589.13 L585.77,589.11 L583.29,589.1 L580.82,589.1 L578.34,589.12 L575.86,589.14 L573.39,589.17 L570.92,589.22 L568.45,589.28 L565.98,589.34 L563.52,589.42 L561.07,589.51 L558.63,589.61 L556.19,589.72 L553.76,589.84 L551.33,589.97 L548.92,590.12 L546.52,590.27 L544.13,590.44 L541.75,590.61 L539.38,590.8 L537.03,590.99 L534.69,591.2 L532.36,591.42 L530.05,591.64 L527.76,591.88 L525.48,592.13 L523.22,592.39 L520.98,592.66 L518.75,592.95 L516.55,593.24 L514.36,593.54 L512.2,593.85 L510.06,594.18 L507.94,594.51 L505.84,594.85 L503.77,595.21 L501.72,595.57 L499.7,595.95 L497.7,596.33 L495.72,596.73 L493.78,597.14 L491.86,597.55 L489.96,597.98 L488.1,598.41 L486.26,598.86 L484.46,599.32 L482.68,599.78 L480.94,600.26 L479.22,600.75 L477.54,601.24 L475.89,601.75 L474.27,602.27 L472.68,602.79 L471.13,603.33 L469.61,603.88 L468.13,604.43 L466.68,605 L465.27,605.57 L463.89,606.15 L462.55,606.75 L461.24,607.35 L459.97,607.96 L458.74,608.59 L457.55,609.22 L456.39,609.86 L455.28,610.51 L454.2,611.17 L453.16,611.84 L452.16,612.51 L451.2,613.2 L450.28,613.9 L449.4,614.6 L448.56,615.31 L447.77,616.03 L447.01,616.77 L446.29,617.51 L445.62,618.25 L444.99,619.01 L444.4,619.78 L443.85,620.55 L443.34,621.33 L442.88,622.12 L442.46,622.92 L442.08,623.73 L441.74,624.54 L441.45,625.37 L441.2,626.2 L441,627.04 L440.83,627.89 L440.71,628.74 L440.64,629.6 L440.6,630.47 L440.61,631.35 L440.66,632.24 L440.76,633.13 L440.9,634.03 L441.08,634.94 L441.31,635.86 L441.58,636.78 L441.89,637.71 L442.24,638.65 L442.64,639.59 L443.08,640.55 L443.56,641.5 L444.09,642.47 L444.65,643.44 L445.26,644.42 L445.91,645.41 L446.6,646.4 L447.34,647.4 L448.11,648.4 L448.93,649.41 L449.78,650.43 L450.68,651.45 L451.62,652.48 L452.6,653.52 L453.61,654.56 L454.67,655.6 L455.76,656.66 L456.9,657.72 L458.07,658.78 L459.28,659.85 L460.53,660.92 L461.81,662.01 L463.13,663.09 L464.49,664.18 L465.88,665.28 L467.31,666.38 L468.78,667.48 L470.28,668.6 L471.81,669.71 L473.38,670.83 L474.98,671.96 L476.61,673.09 L478.28,674.22 L479.97,675.36 L481.7,676.5 L483.46,677.65 L485.25,678.8 L487.07,679.95 L488.92,681.11 L490.79,682.27 L492.7,683.44 L494.63,684.61 L496.59,685.78 L498.57,686.96 L500.58,688.14 L502.62,689.32 L504.68,690.51 L506.76,691.7 L508.87,692.89 L511,694.09 L513.15,695.28 L515.32,696.49 L517.52,697.69 L519.73,698.9 L521.96,700.11 L524.21,701.32 L526.48,702.53 L528.76,703.75 L531.06,704.96 L533.38,706.18 L535.71,707.4 L538.06,708.63 L540.42,709.85 L542.79,711.08 L545.18,712.31 L547.57,713.54 L549.98,714.77 L552.4,716 L554.82,717.23 L557.26,718.47 L559.7,719.7 L562.15,720.94 L564.61,722.18 L567.07,723.42 L569.53,724.65 L572,725.89 L574.48,727.13 L576.95,728.37 L579.43,729.61 L581.91,730.85 L584.38,732.09 L586.86,733.33 L589.34,734.57 L591.81,735.81 L594.28,737.05 L596.75,738.29 L599.22,739.53 L601.68,740.77 L604.13,742 L606.57,743.24 L609.01,744.47 L611.44,745.71 L613.87,746.94 L616.28,748.17 L618.68,749.4 L621.07,750.63 L623.45,751.86 L625.82,753.09 L628.17,754.31 L630.51,755.53 L632.84,756.75 L635.15,757.97 L637.44,759.19 L639.72,760.4 L641.98,761.62 L644.22,762.83 L646.45,764.03 L648.65,765.24 L650.84,766.44 L653,767.64 L655.14,768.84 L657.26,770.03 L659.36,771.23 L661.43,772.41 L663.48,773.6 L665.5,774.78 L667.5,775.96 L669.48,777.13 L671.42,778.31 L673.34,779.47 L675.24,780.64 L677.1,781.8 L678.94,782.96 L680.74,784.11 L682.52,785.26 L684.26,786.4 L685.98,787.54 L687.66,788.68 L689.31,789.81 L690.93,790.94 L692.52,792.06 L694.07,793.18 L695.59,794.29 L697.07,795.4 L698.52,796.51 L699.93,797.61 L701.31,798.7 L702.65,799.79 L703.96,800.87 L705.23,801.95 L706.46,803.02 L707.65,804.09 L708.81,805.15 L709.92,806.21 L711,807.26 L712.04,808.3 L713.04,809.34 L714,810.37 L714.92,811.4 L715.8,812.42 L716.64,813.43 L717.43,814.44 L718.19,815.44 L718.91,816.44 L719.58,817.43 L720.21,818.41 L720.8,819.39 L721.35,820.36 L721.86,821.32 L722.32,822.27 L722.74,823.22 L723.12,824.16 L723.46,825.1 L723.75,826.03 L724,826.95 L724.2,827.86 L724.37,828.76 L724.49,829.66 L724.56,830.55 L724.6,831.43 L724.59,832.31 L724.54,833.18 L724.44,834.04 L724.3,834.89 L724.12,835.73 L723.89,836.57 L723.62,837.4 L723.31,838.22 L722.96,839.03 L722.56,839.83 L722.12,840.63 L721.64,841.41 L721.11,842.19 L720.55,842.96 L719.94,843.72 L719.29,844.48 L718.6,845.22 L717.86,845.96 L717.09,846.68 L716.27,847.4 L715.42,848.11 L714.52,848.81 L713.58,849.5 L712.6,850.19 L711.59,850.86 L710.53,851.52 L709.44,852.18 L708.3,852.82 L707.13,853.46 L705.92,854.09 L704.67,854.71 L703.39,855.31 L702.07,855.91 L700.71,856.5 L699.32,857.08 L697.89,857.65 L696.42,858.21 L694.92,858.77 L693.39,859.31 L691.82,859.84 L690.22,860.36 L688.59,860.87 L686.92,861.38 L685.23,861.87 L683.5,862.35 L681.74,862.82 L679.95,863.28 L678.13,863.74 L676.28,864.18 L674.41,864.61 L672.5,865.03 L670.57,865.44 L668.61,865.85 L666.63,866.24 L664.62,866.62 L662.58,866.99 L660.52,867.35 L658.44,867.7 L656.33,868.04 L654.2,868.37 L652.05,868.69 L649.88,868.99 L647.68,869.29 L645.47,869.58 L643.24,869.86 L640.99,870.12 L638.72,870.38 L636.44,870.62 L634.14,870.86 L631.82,871.08 L629.49,871.29 L627.14,871.5 L624.78,871.69 L622.41,871.87 L620.02,872.04 L617.63,872.2 L615.22,872.35 L612.8,872.48 L610.38,872.61 L607.94,872.73 L605.5,872.83 L603.05,872.93 L600.59,873.01 L598.13,873.09 L595.67,873.15 L593.2,873.2 L590.72,873.24 L588.25,873.27 L585.77,873.29 L583.29,873.3 L580.82,873.3 L578.34,873.28 L575.86,873.26 L573.39,873.23 L570.92,873.18 L568.45,873.12 L565.98,873.06 L563.52,872.98 L561.07,872.89 L558.63,872.79 L556.19,872.68 L553.76,872.56 L551.33,872.43 L548.92,872.28 L546.52,872.13 L544.13,871.96 L541.75,871.79 L539.38,871.6 L537.03,871.41 L534.69,871.2 L532.36,870.98 L530.05,870.76 L527.76,870.52 L525.48,870.27 L523.22,870.01 L520.98,869.74 L518.75,869.45 L516.55,869.16 L514.36,868.86 L512.2,868.55 L510.06,868.22 L507.94,867.89 L505.84,867.55 L503.77,867.19 L501.72,866.83 L499.7,866.45 L497.7,866.07 L495.72,865.67 L493.78,865.26 L491.86,864.85 L489.96,864.42 L488.1,863.99 L486.26,863.54 L484.46,863.08 L482.68,862.62 L480.94,862.14 L479.22,861.65 L477.54,861.16 L475.89,860.65 L474.27,860.13 L472.68,859.61 L471.13,859.07 L469.61,858.52 L468.13,857.97 L466.68,857.4 L465.27,856.83 L463.89,856.25 L462.55,855.65 L461.24,855.05 L459.97,854.44 L458.74,853.81 L457.55,853.18 L456.39,852.54 L455.28,851.89 L454.2,851.23 L453.16,850.56 L452.16,849.89 L451.2,849.2 L450.28,848.5 L449.4,847.8 L448.56,847.09 L447.77,846.37 L447.01,845.63 L446.29,844.89 L445.62,844.15 L444.99,843.39 L444.4,842.62 L443.85,841.85 L443.34,841.07 L442.88,840.28 L442.46,839.48 L442.08,838.67 L441.74,837.86 L441.45,837.03 L441.2,836.2 L441,835.36 L440.83,834.51 L440.71,833.66 L440.64,832.8 L440.6,831.93 L440.61,831.05 L440.66,830.16 L440.76,829.27 L440.9,828.37 L441.08,827.46 L441.31,826.54 L441.58,825.62 L441.89,824.69 L442.24,823.75 L442.64,822.81 L443.08,821.85 L443.56,820.9 L444.09,819.93 L444.65,818.96 L445.26,817.98 L445.91,816.99 L446.6,816 L447.34,815 L448.11,814 L448.93,812.99 L449.78,811.97 L450.68,810.95 L451.62,809.92 L452.6,808.88 L453.61,807.84 L454.67,806.8 L455.76,805.74 L456.9,804.68 L458.07,803.62 L459.28,802.55 L460.53,801.48 L461.81,800.39 L463.13,799.31 L464.49,798.22 L465.88,797.12 L467.31,796.02 L468.78,794.92 L470.28,793.8 L471.81,792.69 L473.38,791.57 L474.98,790.44 L476.61,789.31 L478.28,788.18 L479.97,787.04 L481.7,785.9 L483.46,784.75 L485.25,783.6 L487.07,782.45 L488.92,781.29 L490.79,780.13 L492.7,778.96 L494.63,777.79 L496.59,776.62 L498.57,775.44 L500.58,774.26 L502.62,773.08 L504.68,771.89 L506.76,770.7 L508.87,769.51 L511,768.31 L513.15,767.12 L515.32,765.91 L517.52,764.71 L519.73,763.5 L521.96,762.29 L524.21,761.08 L526.48,759.87 L528.76,758.65 L531.06,757.44 L533.38,756.22 L535.71,755 L538.06,753.77 L540.42,752.55 L542.79,751.32 L545.18,750.09 L547.57,748.86 L549.98,747.63 L552.4,746.4 L554.82,745.17 L557.26,743.93 L559.7,742.7 L562.15,741.46 L564.61,740.22 L567.07,738.98 L569.53,737.75 L572,736.51 L574.48,735.27 L576.95,734.03 L579.43,732.79 L581.91,731.55 L584.38,730.31 L586.86,729.07 L589.34,727.83 L591.81,726.59 L594.28,725.35 L596.75,724.11 L599.22,722.87 L601.68,721.63 L604.13,720.4 L606.57,719.16 L609.01,717.93 L611.44,716.69 L613.87,715.46 L616.28,714.23 L618.68,713 L621.07,711.77 L623.45,710.54 L625.82,709.31 L628.17,708.09 L630.51,706.87 L632.84,705.65 L635.15,704.43 L637.44,703.21 L639.72,702 L641.98,700.78 L644.22,699.57 L646.45,698.37 L648.65,697.16 L650.84,695.96 L653,694.76 L655.14,693.56 L657.26,692.37 L659.36,691.17 L661.43,689.99 L663.48,688.8 L665.5,687.62 L667.5,686.44 L669.48,685.27 L671.42,684.09 L673.34,682.93 L675.24,681.76 L677.1,680.6 L678.94,679.44 L680.74,678.29 L682.52,677.14 L684.26,676 L685.98,674.86 L687.66,673.72 L689.31,672.59 L690.93,671.46 L692.52,670.34 L694.07,669.22 L695.59,668.11 L697.07,667 L698.52,665.89 L699.93,664.79 L701.31,663.7 L702.65,662.61 L703.96,661.53 L705.23,660.45 L706.46,659.38 L707.65,658.31 L708.81,657.25 L709.92,656.19 L711,655.14 L712.04,654.1 L713.04,653.06 L714,652.03 L714.92,651 L715.8,649.98 L716.64,648.97 L717.43,647.96 L718.19,646.96 L718.91,645.96 L719.58,644.97 L720.21,643.99 L720.8,643.01 L721.35,642.04 L721.86,641.08 L722.32,640.13 L722.74,639.18 L723.12,638.24 L723.46,637.3 L723.75,636.37 L724,635.45 L724.2,634.54 L724.37,633.64 L724.49,632.74 L724.56,631.85 L724.6,630.97 L724.59,630.09 L724.54,629.22 L724.44,628.36 L724.3,627.51 L724.12,626.67 L723.89,625.83 L723.62,625 L723.31,624.18 L722.96,623.37 L722.56,622.57 L722.12,621.77 L721.64,620.99 L721.11,620.21 L720.55,619.44 L719.94,618.68 L719.29,617.92 L718.6,617.18 L717.86,616.44 L717.09,615.72 L716.27,615 L715.42,614.29 L714.52,613.59 L713.58,612.9 L712.6,612.21 L711.59,611.54 L710.53,610.88 L709.44,610.22 L708.3,609.58 L707.13,608.94 L705.92,608.31 L704.67,607.69 L703.39,607.09 L702.07,606.49 L700.71,605.9 L699.32,605.32 L697.89,604.75 L696.42,604.19 L694.92,603.63 L693.39,603.09 L691.82,602.56 L690.22,602.04 L688.59,601.53 L686.92,601.02 L685.23,600.53 L683.5,600.05 L681.74,599.58 L679.95,599.12 L678.13,598.66 L676.28,598.22 L674.41,597.79 L672.5,597.37 L670.57,596.96 L668.61,596.55 L666.63,596.16 L664.62,595.78 L662.58,595.41 L660.52,595.05 L658.44,594.7 L656.33,594.36 L654.2,594.03 L652.05,593.71 L649.88,593.41 L647.68,593.11 L645.47,592.82 L643.24,592.54 L640.99,592.28 L638.72,592.02 L636.44,591.78 L634.14,591.54 L631.82,591.32 L629.49,591.11 L627.14,590.9 L624.78,590.71" stroke="#222" stroke-width="1.0" fill="none" stroke-linejoin="round" clip-path="url(#ce)"/>
<path d="M629.29,594.9 L629.89,594.69 L630.5,594.5 L631.1,594.31 L631.7,594.14 L632.31,593.97 L632.91,593.82 L633.51,593.67 L634.12,593.54 L634.72,593.41 L635.32,593.3 L635.93,593.19 L636.53,593.1 L637.13,593.01 L637.74,592.93 L638.34,592.87 L638.94,592.81 L639.54,592.77 L640.15,592.73 L640.75,592.7 L641.35,592.69 L641.96,592.68 L642.56,592.68 L643.16,592.7 L643.77,592.72 L644.37,592.75 L644.97,592.8 L645.58,592.85 L646.18,592.92 L646.78,592.99" stroke="#333" stroke-width="1.0" fill="none" stroke-linejoin="round" clip-path="url(#ce)"/>
<path d="M624.69,589.59 L622.33,589.43 L619.96,589.27 L617.58,589.13 L615.19,589 L612.78,588.87 L610.37,588.76 L607.94,588.66 L605.5,588.57 L603.06,588.48 L600.61,588.42 L598.15,588.36 L595.68,588.31 L593.21,588.27 L590.74,588.25 L588.26,588.23 L585.78,588.23 L583.3,588.24 L580.81,588.26 L578.33,588.28 L575.85,588.31 L573.37,588.36 L570.9,588.42 L568.42,588.48 L565.95,588.56 L563.48,588.65 L561.02,588.75 L558.57,588.86 L556.12,588.98 L553.68,589.11 L551.25,589.26 L548.82,589.41 L546.41,589.58 L544.01,589.75 L541.61,589.94 L539.23,590.14 L536.87,590.35 L534.51,590.56 L532.17,590.79 L529.85,591.03 L527.54,591.28 L525.24,591.55 L522.97,591.82 L520.71,592.1 L518.47,592.39 L516.25,592.7 L514.05,593.01 L511.87,593.33 L509.71,593.67 L507.57,594.01 L505.46,594.37 L503.37,594.73 L501.3,595.11 L499.26,595.49 L497.24,595.89 L495.25,596.3 L493.28,596.71 L491.35,597.14 L489.44,597.57 L487.55,598.02 L485.7,598.48 L483.88,598.94 L482.08,599.42 L480.32,599.9 L478.59,600.39 L476.89,600.9 L475.22,601.41 L473.58,601.94 L471.98,602.47 L470.41,603.01 L468.87,603.56 L467.37,604.12 L465.91,604.69 L464.48,605.27 L463.08,605.86 L461.73,606.46 L460.41,607.06 L459.12,607.68 L457.87,608.3 L456.65,608.94 L455.46,609.58 L454.31,610.23 L453.2,610.89 L452.12,611.56 L451.08,612.24 L450.09,612.92 L449.13,613.62 L448.21,614.32 L447.34,615.03 L446.5,615.75 L445.71,616.48 L444.96,617.22 L444.25,617.96 L443.58,618.72 L442.95,619.48 L442.37,620.25 L441.83,621.03 L441.34,621.81 L440.89,622.61 L440.49,623.41 L440.13,624.22 L439.81,625.04 L439.55,625.87 L439.32,626.7 L439.15,627.54 L439.02,628.39 L438.93,629.25 L438.9,630.11 L438.91,630.99 L438.97,631.87 L439.07,632.75 L439.22,633.65 L439.42,634.55 L439.66,635.46 L439.95,636.38 L440.28,637.3 L440.66,638.23 L441.08,639.17 L441.55,640.11 L442.07,641.06 L442.62,642.02 L443.22,642.99 L443.87,643.96 L444.55,644.93 L445.28,645.92 L446.05,646.91 L446.86,647.91 L447.72,648.91 L448.61,649.92 L449.55,650.94 L450.52,651.96 L451.54,652.99 L452.59,654.02 L453.68,655.06 L454.81,656.11 L455.98,657.16 L457.18,658.22 L458.42,659.28 L459.69,660.35 L461,661.42 L462.34,662.5 L463.72,663.59 L465.14,664.68 L466.59,665.77 L468.08,666.87 L469.6,667.97 L471.16,669.08 L472.75,670.2 L474.38,671.32 L476.03,672.44 L477.72,673.57 L479.45,674.7 L481.2,675.83 L482.98,676.97 L484.8,678.12 L486.64,679.27 L488.51,680.42 L490.41,681.57 L492.34,682.73 L494.3,683.9 L496.28,685.06 L498.29,686.23 L500.32,687.41 L502.38,688.58 L504.46,689.76 L506.57,690.94 L508.69,692.13 L510.84,693.31 L513.01,694.5 L515.2,695.7 L517.41,696.89 L519.64,698.09 L521.89,699.29 L524.16,700.49 L526.44,701.69 L528.74,702.89 L531.05,704.1 L533.38,705.31 L535.73,706.52 L538.09,707.73 L540.46,708.94 L542.85,710.15 L545.24,711.37 L547.64,712.58 L550.04,713.8 L552.46,715.02 L554.88,716.23 L557.31,717.45 L559.75,718.62 L562.19,719.77 L564.64,720.91 L567.1,722.05 L569.55,723.18 L572.02,724.3 L574.49,725.41 L576.96,726.5 L579.43,727.58 L581.91,728.63 L584.38,729.67 L586.86,730.68 L589.34,731.66 L591.82,732.63 L594.29,733.59 L596.76,734.54 L599.22,735.48 L601.68,736.42 L604.14,737.36 L606.59,738.31 L609.03,739.42 L611.46,740.58 L613.89,741.74 L616.3,742.9 L618.71,744.06 L621.1,745.22 L623.48,746.38 L625.85,747.54 L628.21,748.69 L630.55,749.84 L632.88,750.99 L635.19,752.14 L637.48,753.29 L639.76,754.43 L642.02,755.58 L644.27,756.72 L646.49,757.85 L648.69,758.99 L650.88,760.12 L653.04,761.25 L655.18,762.38 L657.3,763.5 L659.39,764.62 L661.46,765.73 L663.51,766.85 L665.53,767.95 L667.52,769.06 L669.49,770.16 L671.43,771.26 L673.35,772.35 L675.23,773.44 L677.08,774.52 L678.91,775.6 L680.7,776.67 L682.46,777.74 L684.2,778.8 L685.9,779.86 L687.57,780.92 L689.2,781.97 L690.81,783.02 L692.37,784.06 L693.91,785.09 L695.41,786.12 L696.88,787.13 L698.31,788.15 L699.7,789.15 L701.06,790.15 L702.38,791.14 L703.66,792.13 L704.91,793.1 L706.12,794.08 L707.29,795.04 L708.42,796 L709.51,796.96 L710.57,797.9 L711.58,798.85 L712.56,799.78 L713.49,800.71 L714.38,801.64 L715.24,802.56 L716.04,803.48 L716.79,804.39 L717.49,805.29 L718.15,806.2 L718.76,807.09 L719.33,807.98 L719.85,808.87 L720.33,809.76 L720.77,810.64 L721.16,811.51 L721.52,812.38 L721.83,813.25 L722.11,814.11 L722.34,814.98 L722.54,815.83 L722.71,816.69 L722.83,817.54 L722.92,818.39 L722.98,819.23 L723.01,820.08 L723,820.91 L722.96,821.75 L722.89,822.58 L722.78,823.41 L722.64,824.23 L722.46,825.05 L722.24,825.87 L721.99,826.69 L721.7,827.5 L721.36,828.3 L720.99,829.1 L720.58,829.9 L720.12,830.69 L719.62,831.47 L719.08,832.25 L718.5,833.02 L717.86,833.79 L717.19,834.55 L716.46,835.3 L715.69,836.04 L714.87,836.78 L714,837.51 L713.08,838.23 L712.13,838.95 L711.14,839.65 L710.11,840.35 L709.04,841.04 L707.93,841.72 L706.78,842.39 L705.59,843.05 L704.37,843.7 L703.1,844.34 L701.8,844.97 L700.46,845.59 L699.09,846.2 L697.68,846.8 L696.23,847.38 L694.75,847.96 L693.24,848.55 L691.69,849.13 L690.1,849.71 L688.49,850.28 L686.84,850.84 L685.15,851.39 L683.44,851.93 L681.69,852.47 L679.92,853 L678.11,853.52 L676.27,854.04 L674.4,854.55 L672.51,855.06 L670.58,855.56 L668.62,856.05 L666.64,856.55 L664.64,857.06 L662.61,857.58 L660.55,858.1 L658.47,858.61 L656.36,859.13 L654.24,859.64 L652.09,860.14 L649.92,860.65 L647.72,861.15 L645.51,861.64 L643.28,862.13 L641.03,862.61 L638.76,863.1 L636.48,863.59 L634.18,864.08 L631.86,864.57 L629.53,865.06 L627.18,865.54 L624.82,866.01 L622.44,866.47 L620.06,866.91 L617.66,867.33 L615.25,867.73 L612.83,868.1 L610.41,868.45 L607.97,868.78 L605.52,869.09 L603.07,869.39 L600.62,869.67 L598.15,869.93 L595.69,870.17 L593.21,870.39 L590.74,870.6 L588.26,870.79 L585.78,870.95 L583.3,871.1 L580.82,871.23 L578.34,871.34 L575.87,871.42 L573.39,871.49 L570.92,871.54 L568.45,871.57 L565.98,871.58 L563.53,871.57 L561.07,871.55 L558.63,871.52 L556.19,871.47 L553.76,871.4 L551.33,871.31 L548.92,871.19 L546.52,871.06 L544.13,870.91 L541.75,870.76 L539.38,870.59 L537.03,870.4 L534.69,870.21 L532.36,870 L530.05,869.78 L527.76,869.55 L525.48,869.31 L523.22,869.06 L520.98,868.8 L518.75,868.52 L516.55,868.24 L514.36,867.95 L512.2,867.65 L510.06,867.34 L507.94,867.02 L505.84,866.69 L503.77,866.35 L501.72,866 L499.7,865.65 L497.7,865.29 L495.72,864.92 L493.78,864.54 L491.86,864.16 L489.96,863.77 L488.1,863.37 L486.26,862.96 L484.44,862.54 L482.66,862.11 L480.9,861.67 L479.18,861.22 L477.49,860.77 L475.83,860.3 L474.2,859.82 L472.61,859.34 L471.05,858.84 L469.53,858.33 L468.04,857.81 L466.6,857.27 L465.19,856.73 L463.82,856.17 L462.5,855.6 L461.21,855.02 L459.97,854.43 L458.78,853.82 L457.65,853.2 L456.55,852.57 L455.51,851.93 L454.52,851.28 L453.58,850.61 L452.7,849.94 L451.89,849.26 L451.15,848.56 L450.47,847.86 L449.83,847.15 L449.24,846.42 L448.73,845.69 L448.27,844.95 L447.88,844.2 L447.54,843.44 L447.25,842.67 L447,841.89 L446.79,841.1 L446.61,840.31 L446.46,839.51 L446.33,838.69 L446.22,837.87 L446.12,837.05 L446.14,836.21 L446.12,835.37 L446.06,834.52 L446.01,833.66 L446.03,832.8 L446.2,831.93 L446.38,831.05 L446.58,830.16 L446.85,829.27 L447.17,828.37 L447.55,827.46 L447.99,826.54 L448.47,825.62 L448.99,824.69 L449.56,823.75 L450.17,822.81 L450.81,821.85 L451.48,820.9 L452.18,819.93 L452.91,818.96 L453.65,817.98 L454.41,816.99 L455.16,816 L455.94,815 L456.76,814 L457.62,812.99 L458.51,811.97 L459.44,810.95 L460.41,809.92 L461.42,808.88 L462.45,807.84 L463.53,806.8 L464.63,805.74 L465.78,804.68 L466.95,803.62 L468.16,802.55 L469.4,801.48 L470.67,800.39 L471.98,799.31 L473.31,798.22 L474.68,797.12 L476.07,796.02 L477.5,794.92 L478.95,793.8 L480.43,792.69 L481.94,791.57 L483.48,790.44 L485.04,789.31 L486.6,788.18 L488.15,787.04 L489.72,785.9 L491.3,784.75 L492.9,783.6 L494.51,782.45 L496.14,781.29 L497.78,780.13 L499.45,778.96 L501.13,777.8 L502.85,776.62 L504.58,775.45 L506.34,774.27 L508.13,773.08 L509.95,771.9 L511.8,770.71 L513.68,769.52 L515.6,768.32 L517.51,767.12 L519.41,765.92 L521.33,764.72 L523.28,763.51 L525.24,762.3 L527.22,761.09 L529.22,759.88 L531.25,758.66 L533.3,757.44 L535.38,756.22 L537.48,754.99 L539.62,753.77 L541.78,752.55 L543.98,751.33 L546.16,750.1 L548.37,748.87 L550.61,747.63 L552.9,746.38 L555.21,745.11 L557.55,743.83 L559.91,742.54 L562.29,741.23 L564.68,739.92 L567.08,738.59 L569.48,737.25 L571.92,735.91 L574.4,734.55 L576.9,733.19 L579.41,731.82 L581.9,730.45 L584.38,729.07 L586.86,727.67 L589.34,726.25 L591.81,724.83 L594.28,723.41 L596.75,721.98 L599.22,720.55 L601.68,719.12 L604.13,717.71 L606.57,716.31 L609.01,714.95 L611.44,713.61 L613.87,712.28 L616.28,710.96 L618.68,709.64 L621.07,708.33 L623.45,707.01 L625.82,705.7 L628.17,704.39 L630.51,703.07 L632.84,701.76 L635.16,700.43 L637.46,699.1 L639.75,697.77 L642.03,696.42 L644.29,695.06 L646.53,693.68 L648.76,692.3 L650.96,690.91 L653.14,689.52 L655.29,688.14 L657.42,686.75 L659.52,685.38 L661.6,684.01 L663.64,682.67 L665.65,681.34 L667.63,680.03 L669.58,678.75 L671.49,677.48 L673.36,676.24 L675.19,675.02 L676.99,673.84 L678.76,672.68 L680.48,671.54 L682.18,670.41 L683.83,669.29 L685.45,668.18 L687.03,667.07 L688.58,665.94 L690.08,664.82 L691.55,663.71 L692.98,662.6 L694.37,661.5 L695.72,660.41 L697.04,659.32 L698.31,658.24 L699.54,657.16 L700.74,656.09 L701.89,655.03 L703,653.97 L704.11,652.92 L705.18,651.87 L706.21,650.83 L707.18,649.8 L708.11,648.77 L709,647.75 L709.84,646.73 L710.63,645.72 L711.38,644.72 L712.09,643.72 L712.75,642.73 L713.37,641.74 L713.95,640.75 L714.49,639.77 L714.99,638.79 L715.45,637.82 L715.87,636.85 L716.25,635.89 L716.6,634.94 L716.91,634 L717.19,633.07 L717.43,632.15 L717.64,631.24 L717.81,630.34 L717.96,629.45 L718.07,628.58 L718.16,627.73 L718.21,626.89 L718.24,626.06 L718.24,625.26 L718.22,624.45 L718.16,623.65 L718.08,622.86 L717.97,622.08 L717.83,621.32 L717.66,620.57 L717.45,619.83 L717.21,619.1 L716.94,618.39 L716.64,617.69 L716.3,617 L715.93,616.31 L715.52,615.64 L715.07,614.98 L714.59,614.33 L714.06,613.69 L713.5,613.05 L712.91,612.43 L712.27,611.81 L711.59,611.2 L710.87,610.6 L710.11,610 L709.31,609.41 L708.46,608.83 L707.58,608.25 L706.65,607.68 L705.67,607.12 L704.66,606.56 L703.59,606 L702.49,605.45 L701.34,604.9 L700.15,604.36 L698.93,603.83 L697.67,603.3 L696.39,602.79 L695.06,602.28 L693.7,601.77 L692.31,601.28 L690.88,600.79 L689.42,600.31 L687.93,599.84 L686.4,599.38 L684.85,598.93 L683.25,598.48 L681.63,598.05 L679.97,597.62 L678.29,597.2 L676.57,596.79 L674.82,596.39 L673.04,596 L671.23,595.62 L669.39,595.24 L667.51,594.88 L665.61,594.52 L663.68,594.18 L661.73,593.84 L659.74,593.52 L657.73,593.2 L655.68,592.9 L653.62,592.6 L651.52,592.32 L649.4,592.04 L647.26,591.77 L645.09,591.51 L642.9,591.26 L640.69,591.02 L638.46,590.79 L636.21,590.56 L633.94,590.35 L631.65,590.15 L629.35,589.95 L627.02,589.77 L624.69,589.59" stroke="#7474ea" stroke-width="1.2" fill="none" stroke-linejoin="round" clip-path="url(#ce)"/>
<path d="M624.78,590.71 L622.41,590.53 L620.02,590.36 L617.63,590.2 L615.22,590.05 L612.8,589.92 L610.38,589.79 L607.94,589.67 L605.5,589.57 L603.05,589.47 L600.59,589.39 L598.13,589.31 L595.67,589.25 L593.2,589.2 L590.72,589.16 L588.25,589.13 L585.77,589.11 L583.29,589.1 L580.82,589.1 L578.34,589.12 L575.86,589.14 L573.39,589.17 L570.92,589.22 L568.45,589.28 L565.98,589.34 L563.52,589.42 L561.07,589.51 L558.63,589.61 L556.19,589.72 L553.76,589.84 L551.33,589.97 L548.92,590.12 L546.52,590.27 L544.13,590.44 L541.75,590.61 L539.38,590.8 L537.03,590.99 L534.69,591.2 L532.36,591.42 L530.05,591.64 L527.76,591.88 L525.48,592.13 L523.22,592.39 L520.98,592.66 L518.75,592.95 L516.55,593.24 L514.36,593.54 L512.2,593.85 L510.06,594.18 L507.94,594.51 L505.84,594.85 L503.77,595.21 L501.72,595.57 L499.7,595.95 L497.7,596.33 L495.72,596.73 L493.78,597.14 L491.86,597.55 L489.96,597.98 L488.1,598.41 L486.26,598.86 L484.46,599.32 L482.68,599.78 L480.94,600.26 L479.22,600.75 L477.54,601.24 L475.89,601.75 L474.27,602.27 L472.68,602.79 L471.13,603.33 L469.61,603.88 L468.13,604.43 L466.68,605 L465.27,605.57 L463.89,606.15 L462.55,606.75 L461.24,607.35 L459.97,607.96 L458.74,608.59 L457.55,609.22 L456.39,609.86 L455.28,610.51 L454.2,611.17 L453.16,611.84 L452.16,612.51 L451.2,613.2 L450.28,613.9 L449.4,614.6 L448.56,615.31 L447.77,616.03 L447.01,616.77 L446.29,617.51 L445.62,618.25 L444.99,619.01 L444.4,619.78 L443.85,620.55 L443.34,621.33 L442.88,622.12 L442.46,622.92 L442.08,623.73 L441.74,624.54 L441.45,625.37 L441.2,626.2 L441,627.04 L440.83,627.89 L440.71,628.74 L440.64,629.6 L440.6,630.47 L440.61,631.35 L440.66,632.24 L440.76,633.13 L440.9,634.03 L441.08,634.94 L441.31,635.86 L441.58,636.78 L441.89,637.71 L442.24,638.65 L442.64,639.59 L443.08,640.55 L443.56,641.5 L444.09,642.47 L444.65,643.44 L445.26,644.42 L445.91,645.41 L446.6,646.4 L447.34,647.4 L448.11,648.4 L448.93,649.41 L449.78,650.43 L450.68,651.45 L451.62,652.48 L452.6,653.52 L453.61,654.56 L454.67,655.6 L455.76,656.66 L456.9,657.72 L458.07,658.78 L459.28,659.85 L460.53,660.92 L461.81,662.01 L463.13,663.09 L464.49,664.18 L465.88,665.28 L467.31,666.38 L468.78,667.48 L470.28,668.6 L471.81,669.71 L473.38,670.83 L474.98,671.96 L476.61,673.09 L478.28,674.22 L479.97,675.36 L481.7,676.5 L483.46,677.65 L485.25,678.8 L487.07,679.95 L488.92,681.11 L490.79,682.27 L492.7,683.44 L494.63,684.61 L496.59,685.78 L498.57,686.96 L500.58,688.14 L502.62,689.32 L504.68,690.51 L506.76,691.7 L508.87,692.89 L511,694.09 L513.15,695.28 L515.32,696.49 L517.52,697.69 L519.73,698.9 L521.96,700.11 L524.21,701.32 L526.48,702.53 L528.76,703.75 L531.06,704.96 L533.38,706.18 L535.71,707.4 L538.06,708.63 L540.42,709.85 L542.79,711.08 L545.18,712.31 L547.57,713.54 L549.98,714.77 L552.4,716 L554.82,717.23 L557.26,718.47 L559.7,719.7 L562.15,720.94 L564.61,722.18 L567.07,723.42 L569.53,724.65 L572,725.89 L574.48,727.13 L576.95,728.37 L579.43,729.61 L581.91,730.85 L584.38,732.09 L586.86,733.33 L589.34,734.57 L591.81,735.81 L594.28,737.05 L596.75,738.29 L599.22,739.53 L601.68,740.77 L604.13,742 L606.57,743.24 L609.01,744.47 L611.44,745.71 L613.87,746.94 L616.28,748.17 L618.68,749.4 L621.07,750.63 L623.45,751.86 L625.82,753.09 L628.17,754.31 L630.51,755.53 L632.84,756.75 L635.15,757.97 L637.44,759.19 L639.72,760.4 L641.98,761.62 L644.22,762.83 L646.45,764.03 L648.65,765.24 L650.84,766.44 L653,767.64 L655.14,768.84 L657.26,770.03 L659.36,771.23 L661.43,772.41 L663.48,773.6 L665.5,774.78 L667.5,775.96 L669.48,777.13 L671.42,778.31 L673.34,779.47 L675.24,780.64 L677.1,781.8 L678.94,782.96 L680.74,784.11 L682.52,785.26 L684.26,786.4 L685.98,787.54 L687.66,788.68 L689.31,789.81 L690.93,790.94 L692.52,792.06 L694.07,793.18 L695.59,794.29 L697.07,795.4 L698.52,796.51 L699.93,797.61 L701.31,798.7 L702.65,799.79 L703.96,800.87 L705.23,801.95 L706.46,803.02 L707.65,804.09 L708.81,805.15 L709.92,806.21 L711,807.26 L712.04,808.3 L713.04,809.34 L714,810.37 L714.92,811.4 L715.8,812.42 L716.64,813.43 L717.43,814.44 L718.19,815.44 L718.91,816.44 L719.58,817.43 L720.21,818.41 L720.8,819.39 L721.35,820.36 L721.86,821.32 L722.32,822.27 L722.74,823.22 L723.12,824.16 L723.46,825.1 L723.75,826.03 L724,826.95 L724.2,827.86 L724.37,828.76 L724.49,829.66 L724.56,830.55 L724.6,831.43 L724.59,832.31 L724.54,833.18 L724.44,834.04 L724.3,834.89 L724.12,835.73 L723.89,836.57 L723.62,837.4 L723.31,838.22 L722.96,839.03 L722.56,839.83 L722.12,840.63 L721.64,841.41 L721.11,842.19 L720.55,842.96 L719.94,843.72 L719.29,844.48 L718.6,845.22 L717.86,845.96 L717.09,846.68 L716.27,847.4 L715.42,848.11 L714.52,848.81 L713.58,849.5 L712.6,850.19 L711.59,850.86 L710.53,851.52 L709.44,852.18 L708.3,852.82 L707.13,853.46 L705.92,854.09 L704.67,854.71 L703.39,855.31 L702.07,855.91 L700.71,856.5 L699.32,857.08 L697.89,857.65 L696.42,858.21 L694.92,858.77 L693.39,859.31 L691.82,859.84 L690.22,860.36 L688.59,860.87 L686.92,861.38 L685.23,861.87 L683.5,862.35 L681.74,862.82 L679.95,863.28 L678.13,863.74 L676.28,864.18 L674.41,864.61 L672.5,865.03 L670.57,865.44 L668.61,865.85 L666.63,866.24 L664.62,866.62 L662.58,866.99 L660.52,867.35 L658.44,867.7 L656.33,868.04 L654.2,868.37 L652.05,868.69 L649.88,868.99 L647.68,869.29 L645.47,869.58 L643.24,869.86 L640.99,870.12 L638.72,870.38 L636.44,870.62 L634.14,870.86 L631.82,871.08 L629.49,871.29 L627.14,871.5 L624.78,871.69 L622.41,871.87 L620.02,872.04 L617.63,872.2 L615.22,872.35 L612.8,872.48 L610.38,872.61 L607.94,872.73 L605.5,872.83 L603.05,872.93 L600.59,873.01 L598.13,873.09 L595.67,873.15 L593.2,873.2 L590.72,873.24 L588.25,873.27 L585.77,873.29 L583.29,873.3 L580.82,873.3 L578.34,873.28 L575.86,873.26 L573.39,873.23 L570.92,873.18 L568.45,873.12 L565.98,873.06 L563.52,872.98 L561.07,872.89 L558.63,872.79 L556.19,872.68 L553.76,872.56 L551.33,872.43 L548.92,872.28 L546.52,872.13 L544.13,871.96 L541.75,871.79 L539.38,871.6 L537.03,871.41 L534.69,871.2 L532.36,870.98 L530.05,870.76 L527.76,870.52 L525.48,870.27 L523.22,870.01 L520.98,869.74 L518.75,869.45 L516.55,869.16 L514.36,868.86 L512.2,868.55 L510.06,868.22 L507.94,867.89 L505.84,867.55 L503.77,867.19 L501.72,866.83 L499.7,866.45 L497.7,866.07 L495.72,865.67 L493.78,865.26 L491.86,864.85 L489.96,864.42 L488.1,863.99 L486.26,863.54 L484.46,863.08 L482.68,862.62 L480.94,862.14 L479.22,861.65 L477.54,861.16 L475.89,860.65 L474.27,860.13 L472.68,859.61 L471.13,859.07 L469.61,858.52 L468.13,857.97 L466.68,857.4 L465.27,856.83 L463.89,856.25 L462.55,855.65 L461.24,855.05 L459.97,854.44 L458.74,853.81 L457.55,853.18 L456.39,852.54 L455.28,851.89 L454.2,851.23 L453.16,850.56 L452.16,849.89 L451.2,849.2 L450.28,848.5 L449.4,847.8 L448.56,847.09 L447.77,846.37 L447.01,845.63 L446.29,844.89 L445.62,844.15 L444.99,843.39 L444.4,842.62 L443.85,841.85 L443.34,841.07 L442.88,840.28 L442.46,839.48 L442.08,838.67 L441.74,837.86 L441.45,837.03 L441.2,836.2 L441,835.36 L440.83,834.51 L440.71,833.66 L440.64,832.8 L440.6,831.93 L440.61,831.05 L440.66,830.16 L440.76,829.27 L440.9,828.37 L441.08,827.46 L441.31,826.54 L441.58,825.62 L441.89,824.69 L442.24,823.75 L442.64,822.81 L443.08,821.85 L443.56,820.9 L444.09,819.93 L444.65,818.96 L445.26,817.98 L445.91,816.99 L446.6,816 L447.34,815 L448.11,814 L448.93,812.99 L449.78,811.97 L450.68,810.95 L451.62,809.92 L452.6,808.88 L453.61,807.84 L454.67,806.8 L455.76,805.74 L456.9,804.68 L458.07,803.62 L459.28,802.55 L460.53,801.48 L461.81,800.39 L463.13,799.31 L464.49,798.22 L465.88,797.12 L467.31,796.02 L468.78,794.92 L470.28,793.8 L471.81,792.69 L473.38,791.57 L474.98,790.44 L476.61,789.31 L478.28,788.18 L479.97,787.04 L481.7,785.9 L483.46,784.75 L485.25,783.6 L487.07,782.45 L488.92,781.29 L490.79,780.13 L492.7,778.96 L494.63,777.79 L496.59,776.62 L498.57,775.44 L500.58,774.26 L502.62,773.08 L504.68,771.89 L506.76,770.7 L508.87,769.51 L511,768.31 L513.15,767.12 L515.32,765.91 L517.52,764.71 L519.73,763.5 L521.96,762.29 L524.21,761.08 L526.48,759.87 L528.76,758.65 L531.06,757.44 L533.38,756.22 L535.71,755 L538.06,753.77 L540.42,752.55 L542.79,751.32 L545.18,750.09 L547.57,748.86 L549.98,747.63 L552.4,746.4 L554.82,745.17 L557.26,743.93 L559.7,742.7 L562.15,741.46 L564.61,740.22 L567.07,738.98 L569.53,737.75 L572,736.51 L574.48,735.27 L576.95,734.03 L579.43,732.79 L581.91,731.55 L584.38,730.31 L586.86,729.07 L589.34,727.83 L591.81,726.59 L594.28,725.35 L596.75,724.11 L599.22,722.87 L601.68,721.63 L604.13,720.4 L606.57,719.16 L609.01,717.93 L611.44,716.69 L613.87,715.46 L616.28,714.23 L618.68,713 L621.07,711.77 L623.45,710.54 L625.82,709.31 L628.17,708.09 L630.51,706.87 L632.84,705.65 L635.15,704.43 L637.44,703.21 L639.72,702 L641.98,700.78 L644.22,699.57 L646.45,698.37 L648.65,697.16 L650.84,695.96 L653,694.76 L655.14,693.56 L657.26,692.37 L659.36,691.17 L661.43,689.99 L663.48,688.8 L665.5,687.62 L667.5,686.44 L669.48,685.27 L671.42,684.09 L673.34,682.93 L675.24,681.76 L677.1,680.6 L678.94,679.44 L680.74,678.29 L682.52,677.14 L684.26,676 L685.98,674.86 L687.66,673.72 L689.31,672.59 L690.93,671.46 L692.52,670.34 L694.07,669.22 L695.59,668.11 L697.07,667 L698.52,665.89 L699.93,664.79 L701.31,663.7 L702.65,662.61 L703.96,661.53 L705.23,660.45 L706.46,659.38 L707.65,658.31 L708.81,657.25 L709.92,656.19 L711,655.14 L712.04,654.1 L713.04,653.06 L714,652.03 L714.92,651 L715.8,649.98 L716.64,648.97 L717.43,647.96 L718.19,646.96 L718.91,645.96 L719.58,644.97 L720.21,643.99 L720.8,643.01 L721.35,642.04 L721.86,641.08 L722.32,640.13 L722.74,639.18 L723.12,638.24 L723.46,637.3 L723.75,636.37 L724,635.45 L724.2,634.54 L724.37,633.64 L724.49,632.74 L724.56,631.85 L724.6,630.97 L724.59,630.09 L724.54,629.22 L724.44,628.36 L724.3,627.51 L724.12,626.67 L723.89,625.83 L723.62,625 L723.31,624.18 L722.96,623.37 L722.56,622.57 L722.12,621.77 L721.64,620.99 L721.11,620.21 L720.55,619.44 L719.94,618.68 L719.29,617.92 L718.6,617.18 L717.86,616.44 L717.09,615.72 L716.27,615 L715.42,614.29 L714.52,613.59 L713.58,612.9 L712.6,612.21 L711.59,611.54 L710.53,610.88 L709.44,610.22 L708.3,609.58 L707.13,608.94 L705.92,608.31 L704.67,607.69 L703.39,607.09 L702.07,606.49 L700.71,605.9 L699.32,605.32 L697.89,604.75 L696.42,604.19 L694.92,603.63 L693.39,603.09 L691.82,602.56 L690.22,602.04 L688.59,601.53 L686.92,601.02 L685.23,600.53 L683.5,600.05 L681.74,599.58 L679.95,599.12 L678.13,598.66 L676.28,598.22 L674.41,597.79 L672.5,597.37 L670.57,596.96 L668.61,596.55 L666.63,596.16 L664.62,595.78 L662.58,595.41 L660.52,595.05 L658.44,594.7 L656.33,594.36 L654.2,594.03 L652.05,593.71 L649.88,593.41 L647.68,593.11 L645.47,592.82 L643.24,592.54 L640.99,592.28 L638.72,592.02 L636.44,591.78 L634.14,591.54 L631.82,591.32 L629.49,591.11 L627.14,590.9 L624.78,590.71" stroke="#a81e1e" stroke-width="1.3" fill="none" stroke-linejoin="round" stroke-dasharray="1.8 1.5" clip-path="url(#ce)"/>
<rect x="435.4" y="583.5" width="295" height="295" fill="none" stroke="#262626" stroke-width="1.3"/>
<path d="M440.5,878.5 v4.4 M440.5,583.5 v-4.4 M446.5,878.5 v2.4 M446.5,583.5 v-2.4 M451.5,878.5 v2.4 M451.5,583.5 v-2.4 M457.5,878.5 v2.4 M457.5,583.5 v-2.4 M463.5,878.5 v2.4 M463.5,583.5 v-2.4 M469.5,878.5 v4.4 M469.5,583.5 v-4.4 M474.5,878.5 v2.4 M474.5,583.5 v-2.4 M480.5,878.5 v2.4 M480.5,583.5 v-2.4 M486.5,878.5 v2.4 M486.5,583.5 v-2.4 M491.5,878.5 v2.4 M491.5,583.5 v-2.4 M497.5,878.5 v4.4 M497.5,583.5 v-4.4 M503.5,878.5 v2.4 M503.5,583.5 v-2.4 M508.5,878.5 v2.4 M508.5,583.5 v-2.4 M514.5,878.5 v2.4 M514.5,583.5 v-2.4 M520.5,878.5 v2.4 M520.5,583.5 v-2.4 M525.5,878.5 v4.4 M525.5,583.5 v-4.4 M531.5,878.5 v2.4 M531.5,583.5 v-2.4 M537.5,878.5 v2.4 M537.5,583.5 v-2.4 M542.5,878.5 v2.4 M542.5,583.5 v-2.4 M548.5,878.5 v2.4 M548.5,583.5 v-2.4 M554.5,878.5 v4.4 M554.5,583.5 v-4.4 M559.5,878.5 v2.4 M559.5,583.5 v-2.4 M565.5,878.5 v2.4 M565.5,583.5 v-2.4 M571.5,878.5 v2.4 M571.5,583.5 v-2.4 M576.5,878.5 v2.4 M576.5,583.5 v-2.4 M582.5,878.5 v4.4 M582.5,583.5 v-4.4 M588.5,878.5 v2.4 M588.5,583.5 v-2.4 M593.5,878.5 v2.4 M593.5,583.5 v-2.4 M599.5,878.5 v2.4 M599.5,583.5 v-2.4 M605.5,878.5 v2.4 M605.5,583.5 v-2.4 M611.5,878.5 v4.4 M611.5,583.5 v-4.4 M616.5,878.5 v2.4 M616.5,583.5 v-2.4 M622.5,878.5 v2.4 M622.5,583.5 v-2.4 M628.5,878.5 v2.4 M628.5,583.5 v-2.4 M633.5,878.5 v2.4 M633.5,583.5 v-2.4 M639.5,878.5 v4.4 M639.5,583.5 v-4.4 M645.5,878.5 v2.4 M645.5,583.5 v-2.4 M650.5,878.5 v2.4 M650.5,583.5 v-2.4 M656.5,878.5 v2.4 M656.5,583.5 v-2.4 M662.5,878.5 v2.4 M662.5,583.5 v-2.4 M667.5,878.5 v4.4 M667.5,583.5 v-4.4 M673.5,878.5 v2.4 M673.5,583.5 v-2.4 M679.5,878.5 v2.4 M679.5,583.5 v-2.4 M684.5,878.5 v2.4 M684.5,583.5 v-2.4 M690.5,878.5 v2.4 M690.5,583.5 v-2.4 M696.5,878.5 v4.4 M696.5,583.5 v-4.4 M701.5,878.5 v2.4 M701.5,583.5 v-2.4 M707.5,878.5 v2.4 M707.5,583.5 v-2.4 M713.5,878.5 v2.4 M713.5,583.5 v-2.4 M718.5,878.5 v2.4 M718.5,583.5 v-2.4 M724.5,878.5 v4.4 M724.5,583.5 v-4.4 M730.5,878.5 v2.4 M730.5,583.5 v-2.4 M435.4,878.5 h-2.4 M730.4,878.5 h2.4 M435.4,873.5 h-4.4 M730.4,873.5 h4.4 M435.4,867.5 h-2.4 M730.4,867.5 h2.4 M435.4,861.5 h-2.4 M730.4,861.5 h2.4 M435.4,856.5 h-2.4 M730.4,856.5 h2.4 M435.4,850.5 h-2.4 M730.4,850.5 h2.4 M435.4,844.5 h-4.4 M730.4,844.5 h4.4 M435.4,839.5 h-2.4 M730.4,839.5 h2.4 M435.4,833.5 h-2.4 M730.4,833.5 h2.4 M435.4,827.5 h-2.4 M730.4,827.5 h2.4 M435.4,822.5 h-2.4 M730.4,822.5 h2.4 M435.4,816.5 h-4.4 M730.4,816.5 h4.4 M435.4,810.5 h-2.4 M730.4,810.5 h2.4 M435.4,805.5 h-2.4 M730.4,805.5 h2.4 M435.4,799.5 h-2.4 M730.4,799.5 h2.4 M435.4,793.5 h-2.4 M730.4,793.5 h2.4 M435.4,788.5 h-4.4 M730.4,788.5 h4.4 M435.4,782.5 h-2.4 M730.4,782.5 h2.4 M435.4,776.5 h-2.4 M730.4,776.5 h2.4 M435.4,770.5 h-2.4 M730.4,770.5 h2.4 M435.4,765.5 h-2.4 M730.4,765.5 h2.4 M435.4,759.5 h-4.4 M730.4,759.5 h4.4 M435.4,753.5 h-2.4 M730.4,753.5 h2.4 M435.4,748.5 h-2.4 M730.4,748.5 h2.4 M435.4,742.5 h-2.4 M730.4,742.5 h2.4 M435.4,736.5 h-2.4 M730.4,736.5 h2.4 M435.4,731.5 h-4.4 M730.4,731.5 h4.4 M435.4,725.5 h-2.4 M730.4,725.5 h2.4 M435.4,719.5 h-2.4 M730.4,719.5 h2.4 M435.4,714.5 h-2.4 M730.4,714.5 h2.4 M435.4,708.5 h-2.4 M730.4,708.5 h2.4 M435.4,702.5 h-4.4 M730.4,702.5 h4.4 M435.4,697.5 h-2.4 M730.4,697.5 h2.4 M435.4,691.5 h-2.4 M730.4,691.5 h2.4 M435.4,685.5 h-2.4 M730.4,685.5 h2.4 M435.4,680.5 h-2.4 M730.4,680.5 h2.4 M435.4,674.5 h-4.4 M730.4,674.5 h4.4 M435.4,668.5 h-2.4 M730.4,668.5 h2.4 M435.4,662.5 h-2.4 M730.4,662.5 h2.4 M435.4,657.5 h-2.4 M730.4,657.5 h2.4 M435.4,651.5 h-2.4 M730.4,651.5 h2.4 M435.4,645.5 h-4.4 M730.4,645.5 h4.4 M435.4,640.5 h-2.4 M730.4,640.5 h2.4 M435.4,634.5 h-2.4 M730.4,634.5 h2.4 M435.4,628.5 h-2.4 M730.4,628.5 h2.4 M435.4,623.5 h-2.4 M730.4,623.5 h2.4 M435.4,617.5 h-4.4 M730.4,617.5 h4.4 M435.4,611.5 h-2.4 M730.4,611.5 h2.4 M435.4,606.5 h-2.4 M730.4,606.5 h2.4 M435.4,600.5 h-2.4 M730.4,600.5 h2.4 M435.4,594.5 h-2.4 M730.4,594.5 h2.4 M435.4,589.5 h-4.4 M730.4,589.5 h4.4 M435.4,583.5 h-2.4 M730.4,583.5 h2.4" stroke="#262626" stroke-width="1.0" fill="none"/>
<text x="440.6" y="894.19" font-size="8.9" text-anchor="middle" fill="#222" stroke="#222" stroke-width="0.25">-2500</text>
<text x="469" y="894.19" font-size="8.9" text-anchor="middle" fill="#222" stroke="#222" stroke-width="0.25">-2000</text>
<text x="497.4" y="894.19" font-size="8.9" text-anchor="middle" fill="#222" stroke="#222" stroke-width="0.25">-1500</text>
<text x="525.8" y="894.19" font-size="8.9" text-anchor="middle" fill="#222" stroke="#222" stroke-width="0.25">-1000</text>
<text x="554.2" y="894.19" font-size="8.9" text-anchor="middle" fill="#222" stroke="#222" stroke-width="0.25">-500</text>
<text x="582.6" y="894.19" font-size="8.9" text-anchor="middle" fill="#222" stroke="#222" stroke-width="0.25">0</text>
<text x="611" y="894.19" font-size="8.9" text-anchor="middle" fill="#222" stroke="#222" stroke-width="0.25">500</text>
<text x="639.4" y="894.19" font-size="8.9" text-anchor="middle" fill="#222" stroke="#222" stroke-width="0.25">1000</text>
<text x="667.8" y="894.19" font-size="8.9" text-anchor="middle" fill="#222" stroke="#222" stroke-width="0.25">1500</text>
<text x="696.2" y="894.19" font-size="8.9" text-anchor="middle" fill="#222" stroke="#222" stroke-width="0.25">2000</text>
<text x="724.6" y="894.19" font-size="8.9" text-anchor="middle" fill="#222" stroke="#222" stroke-width="0.25">2500</text>
<text x="427" y="876.49" font-size="8.9" text-anchor="end" fill="#222" stroke="#222" stroke-width="0.25">-2500</text>
<text x="427" y="848.07" font-size="8.9" text-anchor="end" fill="#222" stroke="#222" stroke-width="0.25">-2000</text>
<text x="427" y="819.65" font-size="8.9" text-anchor="end" fill="#222" stroke="#222" stroke-width="0.25">-1500</text>
<text x="427" y="791.23" font-size="8.9" text-anchor="end" fill="#222" stroke="#222" stroke-width="0.25">-1000</text>
<text x="427" y="762.81" font-size="8.9" text-anchor="end" fill="#222" stroke="#222" stroke-width="0.25">-500</text>
<text x="427" y="734.39" font-size="8.9" text-anchor="end" fill="#222" stroke="#222" stroke-width="0.25">0</text>
<text x="427" y="705.97" font-size="8.9" text-anchor="end" fill="#222" stroke="#222" stroke-width="0.25">500</text>
<text x="427" y="677.55" font-size="8.9" text-anchor="end" fill="#222" stroke="#222" stroke-width="0.25">1000</text>
<text x="427" y="649.13" font-size="8.9" text-anchor="end" fill="#222" stroke="#222" stroke-width="0.25">1500</text>
<text x="427" y="620.71" font-size="8.9" text-anchor="end" fill="#222" stroke="#222" stroke-width="0.25">2000</text>
<text x="427" y="592.29" font-size="8.9" text-anchor="end" fill="#222" stroke="#222" stroke-width="0.25">2500</text>
<text x="587" y="908.8" font-size="15.5" text-anchor="middle" font-family="Liberation Serif, serif" fill="#111" stroke="#111" stroke-width="0.2">X (mm)</text>
<text x="398.8" y="731.3" font-size="15.5" text-anchor="middle" font-family="Liberation Serif, serif" fill="#111" stroke="#111" stroke-width="0.2" transform="rotate(-90 398.8 731.3)">Y (mm)</text>
<text x="583.2" y="927.5" font-size="18" text-anchor="middle" font-family="Liberation Serif, serif" font-weight="bold" fill="#111" stroke="#111" stroke-width="0.2">(e)</text>
</svg>
</body></html>
